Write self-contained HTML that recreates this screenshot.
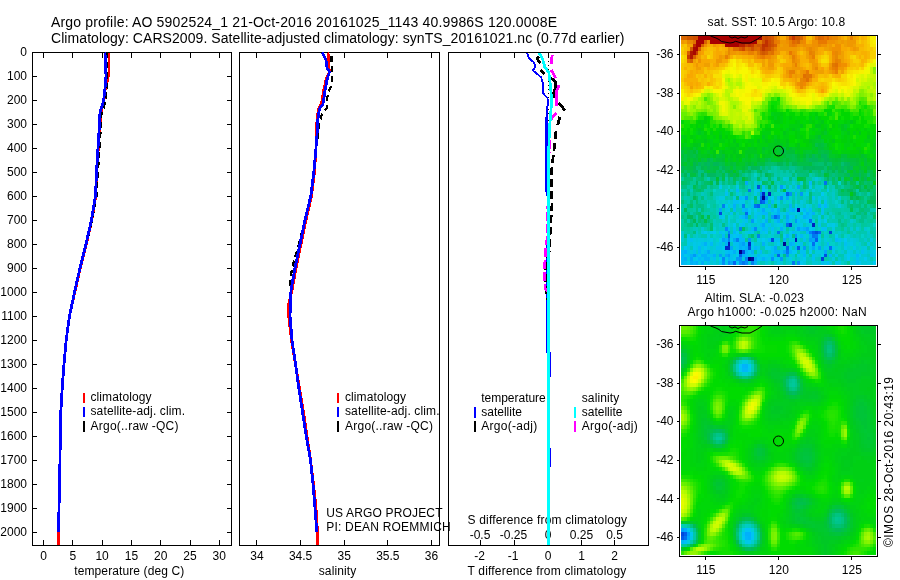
<!DOCTYPE html>
<html><head><meta charset="utf-8"><title>Argo profile</title>
<style>html,body{margin:0;padding:0;background:#fff}svg{display:block}text{font-family:"Liberation Sans",sans-serif;fill:#000}</style>
</head><body>
<svg width="900" height="580" viewBox="0 0 900 580">
<rect width="900" height="580" fill="#fff"/>
<g shape-rendering="crispEdges">
<rect x="32.5" y="52.5" width="199.0" height="493.0" fill="none" stroke="#000" stroke-width="1"/>
<rect x="239.5" y="52.5" width="200.0" height="493.0" fill="none" stroke="#000" stroke-width="1"/>
<rect x="448.5" y="52.5" width="200.0" height="493.0" fill="none" stroke="#000" stroke-width="1"/>
<line x1="32.5" y1="52.5" x2="37.0" y2="52.5" stroke="#000" stroke-width="1"/>
<line x1="227.0" y1="52.5" x2="231.5" y2="52.5" stroke="#000" stroke-width="1"/>
<line x1="32.5" y1="76.5" x2="37.0" y2="76.5" stroke="#000" stroke-width="1"/>
<line x1="227.0" y1="76.5" x2="231.5" y2="76.5" stroke="#000" stroke-width="1"/>
<line x1="32.5" y1="100.5" x2="37.0" y2="100.5" stroke="#000" stroke-width="1"/>
<line x1="227.0" y1="100.5" x2="231.5" y2="100.5" stroke="#000" stroke-width="1"/>
<line x1="32.5" y1="124.5" x2="37.0" y2="124.5" stroke="#000" stroke-width="1"/>
<line x1="227.0" y1="124.5" x2="231.5" y2="124.5" stroke="#000" stroke-width="1"/>
<line x1="32.5" y1="148.5" x2="37.0" y2="148.5" stroke="#000" stroke-width="1"/>
<line x1="227.0" y1="148.5" x2="231.5" y2="148.5" stroke="#000" stroke-width="1"/>
<line x1="32.5" y1="172.5" x2="37.0" y2="172.5" stroke="#000" stroke-width="1"/>
<line x1="227.0" y1="172.5" x2="231.5" y2="172.5" stroke="#000" stroke-width="1"/>
<line x1="32.5" y1="196.5" x2="37.0" y2="196.5" stroke="#000" stroke-width="1"/>
<line x1="227.0" y1="196.5" x2="231.5" y2="196.5" stroke="#000" stroke-width="1"/>
<line x1="32.5" y1="220.5" x2="37.0" y2="220.5" stroke="#000" stroke-width="1"/>
<line x1="227.0" y1="220.5" x2="231.5" y2="220.5" stroke="#000" stroke-width="1"/>
<line x1="32.5" y1="244.5" x2="37.0" y2="244.5" stroke="#000" stroke-width="1"/>
<line x1="227.0" y1="244.5" x2="231.5" y2="244.5" stroke="#000" stroke-width="1"/>
<line x1="32.5" y1="268.5" x2="37.0" y2="268.5" stroke="#000" stroke-width="1"/>
<line x1="227.0" y1="268.5" x2="231.5" y2="268.5" stroke="#000" stroke-width="1"/>
<line x1="32.5" y1="292.5" x2="37.0" y2="292.5" stroke="#000" stroke-width="1"/>
<line x1="227.0" y1="292.5" x2="231.5" y2="292.5" stroke="#000" stroke-width="1"/>
<line x1="32.5" y1="316.5" x2="37.0" y2="316.5" stroke="#000" stroke-width="1"/>
<line x1="227.0" y1="316.5" x2="231.5" y2="316.5" stroke="#000" stroke-width="1"/>
<line x1="32.5" y1="340.5" x2="37.0" y2="340.5" stroke="#000" stroke-width="1"/>
<line x1="227.0" y1="340.5" x2="231.5" y2="340.5" stroke="#000" stroke-width="1"/>
<line x1="32.5" y1="364.5" x2="37.0" y2="364.5" stroke="#000" stroke-width="1"/>
<line x1="227.0" y1="364.5" x2="231.5" y2="364.5" stroke="#000" stroke-width="1"/>
<line x1="32.5" y1="388.5" x2="37.0" y2="388.5" stroke="#000" stroke-width="1"/>
<line x1="227.0" y1="388.5" x2="231.5" y2="388.5" stroke="#000" stroke-width="1"/>
<line x1="32.5" y1="412.5" x2="37.0" y2="412.5" stroke="#000" stroke-width="1"/>
<line x1="227.0" y1="412.5" x2="231.5" y2="412.5" stroke="#000" stroke-width="1"/>
<line x1="32.5" y1="436.5" x2="37.0" y2="436.5" stroke="#000" stroke-width="1"/>
<line x1="227.0" y1="436.5" x2="231.5" y2="436.5" stroke="#000" stroke-width="1"/>
<line x1="32.5" y1="460.5" x2="37.0" y2="460.5" stroke="#000" stroke-width="1"/>
<line x1="227.0" y1="460.5" x2="231.5" y2="460.5" stroke="#000" stroke-width="1"/>
<line x1="32.5" y1="484.5" x2="37.0" y2="484.5" stroke="#000" stroke-width="1"/>
<line x1="227.0" y1="484.5" x2="231.5" y2="484.5" stroke="#000" stroke-width="1"/>
<line x1="32.5" y1="508.5" x2="37.0" y2="508.5" stroke="#000" stroke-width="1"/>
<line x1="227.0" y1="508.5" x2="231.5" y2="508.5" stroke="#000" stroke-width="1"/>
<line x1="32.5" y1="532.5" x2="37.0" y2="532.5" stroke="#000" stroke-width="1"/>
<line x1="227.0" y1="532.5" x2="231.5" y2="532.5" stroke="#000" stroke-width="1"/>
<line x1="43.5" y1="545.5" x2="43.5" y2="540.0" stroke="#000" stroke-width="1"/>
<line x1="43.5" y1="52.5" x2="43.5" y2="58.0" stroke="#000" stroke-width="1"/>
<line x1="72.5" y1="545.5" x2="72.5" y2="540.0" stroke="#000" stroke-width="1"/>
<line x1="72.5" y1="52.5" x2="72.5" y2="58.0" stroke="#000" stroke-width="1"/>
<line x1="102.5" y1="545.5" x2="102.5" y2="540.0" stroke="#000" stroke-width="1"/>
<line x1="102.5" y1="52.5" x2="102.5" y2="58.0" stroke="#000" stroke-width="1"/>
<line x1="131.5" y1="545.5" x2="131.5" y2="540.0" stroke="#000" stroke-width="1"/>
<line x1="131.5" y1="52.5" x2="131.5" y2="58.0" stroke="#000" stroke-width="1"/>
<line x1="160.5" y1="545.5" x2="160.5" y2="540.0" stroke="#000" stroke-width="1"/>
<line x1="160.5" y1="52.5" x2="160.5" y2="58.0" stroke="#000" stroke-width="1"/>
<line x1="190.5" y1="545.5" x2="190.5" y2="540.0" stroke="#000" stroke-width="1"/>
<line x1="190.5" y1="52.5" x2="190.5" y2="58.0" stroke="#000" stroke-width="1"/>
<line x1="219.5" y1="545.5" x2="219.5" y2="540.0" stroke="#000" stroke-width="1"/>
<line x1="219.5" y1="52.5" x2="219.5" y2="58.0" stroke="#000" stroke-width="1"/>
<line x1="256.5" y1="545.5" x2="256.5" y2="540.0" stroke="#000" stroke-width="1"/>
<line x1="256.5" y1="52.5" x2="256.5" y2="58.0" stroke="#000" stroke-width="1"/>
<line x1="300.5" y1="545.5" x2="300.5" y2="540.0" stroke="#000" stroke-width="1"/>
<line x1="300.5" y1="52.5" x2="300.5" y2="58.0" stroke="#000" stroke-width="1"/>
<line x1="344.5" y1="545.5" x2="344.5" y2="540.0" stroke="#000" stroke-width="1"/>
<line x1="344.5" y1="52.5" x2="344.5" y2="58.0" stroke="#000" stroke-width="1"/>
<line x1="387.5" y1="545.5" x2="387.5" y2="540.0" stroke="#000" stroke-width="1"/>
<line x1="387.5" y1="52.5" x2="387.5" y2="58.0" stroke="#000" stroke-width="1"/>
<line x1="431.5" y1="545.5" x2="431.5" y2="540.0" stroke="#000" stroke-width="1"/>
<line x1="431.5" y1="52.5" x2="431.5" y2="58.0" stroke="#000" stroke-width="1"/>
<line x1="480.5" y1="545.5" x2="480.5" y2="540.0" stroke="#000" stroke-width="1"/>
<line x1="480.5" y1="52.5" x2="480.5" y2="58.0" stroke="#000" stroke-width="1"/>
<line x1="514.5" y1="545.5" x2="514.5" y2="540.0" stroke="#000" stroke-width="1"/>
<line x1="514.5" y1="52.5" x2="514.5" y2="58.0" stroke="#000" stroke-width="1"/>
<line x1="548.5" y1="545.5" x2="548.5" y2="540.0" stroke="#000" stroke-width="1"/>
<line x1="548.5" y1="52.5" x2="548.5" y2="58.0" stroke="#000" stroke-width="1"/>
<line x1="581.5" y1="545.5" x2="581.5" y2="540.0" stroke="#000" stroke-width="1"/>
<line x1="581.5" y1="52.5" x2="581.5" y2="58.0" stroke="#000" stroke-width="1"/>
<line x1="614.5" y1="545.5" x2="614.5" y2="540.0" stroke="#000" stroke-width="1"/>
<line x1="614.5" y1="52.5" x2="614.5" y2="58.0" stroke="#000" stroke-width="1"/>
</g>
<text x="27" y="55.9" font-size="12" text-anchor="end" >0</text>
<text x="27" y="79.9" font-size="12" text-anchor="end" >100</text>
<text x="27" y="103.9" font-size="12" text-anchor="end" >200</text>
<text x="27" y="127.9" font-size="12" text-anchor="end" >300</text>
<text x="27" y="151.9" font-size="12" text-anchor="end" >400</text>
<text x="27" y="175.9" font-size="12" text-anchor="end" >500</text>
<text x="27" y="199.9" font-size="12" text-anchor="end" >600</text>
<text x="27" y="223.9" font-size="12" text-anchor="end" >700</text>
<text x="27" y="247.9" font-size="12" text-anchor="end" >800</text>
<text x="27" y="271.9" font-size="12" text-anchor="end" >900</text>
<text x="27" y="295.9" font-size="12" text-anchor="end" >1000</text>
<text x="27" y="319.9" font-size="12" text-anchor="end" >1100</text>
<text x="27" y="343.9" font-size="12" text-anchor="end" >1200</text>
<text x="27" y="367.9" font-size="12" text-anchor="end" >1300</text>
<text x="27" y="391.9" font-size="12" text-anchor="end" >1400</text>
<text x="27" y="415.9" font-size="12" text-anchor="end" >1500</text>
<text x="27" y="439.9" font-size="12" text-anchor="end" >1600</text>
<text x="27" y="463.9" font-size="12" text-anchor="end" >1700</text>
<text x="27" y="487.9" font-size="12" text-anchor="end" >1800</text>
<text x="27" y="511.9" font-size="12" text-anchor="end" >1900</text>
<text x="27" y="535.9" font-size="12" text-anchor="end" >2000</text>
<text x="43.5" y="560" font-size="12" text-anchor="middle" >0</text>
<text x="72.8" y="560" font-size="12" text-anchor="middle" >5</text>
<text x="102.1" y="560" font-size="12" text-anchor="middle" >10</text>
<text x="131.4" y="560" font-size="12" text-anchor="middle" >15</text>
<text x="160.7" y="560" font-size="12" text-anchor="middle" >20</text>
<text x="190.0" y="560" font-size="12" text-anchor="middle" >25</text>
<text x="219.3" y="560" font-size="12" text-anchor="middle" >30</text>
<text x="257.0" y="560" font-size="12" text-anchor="middle" >34</text>
<text x="300.625" y="560" font-size="12" text-anchor="middle" >34.5</text>
<text x="344.25" y="560" font-size="12" text-anchor="middle" >35</text>
<text x="387.875" y="560" font-size="12" text-anchor="middle" >35.5</text>
<text x="431.5" y="560" font-size="12" text-anchor="middle" >36</text>
<text x="479.5" y="560" font-size="12" text-anchor="middle" >-2</text>
<text x="513.0" y="560" font-size="12" text-anchor="middle" >-1</text>
<text x="548" y="560" font-size="12" text-anchor="middle" >0</text>
<text x="581.5" y="560" font-size="12" text-anchor="middle" >1</text>
<text x="614.5" y="560" font-size="12" text-anchor="middle" >2</text>
<text x="480" y="538.5" font-size="12" text-anchor="middle" >-0.5</text>
<text x="513.5" y="538.5" font-size="12" text-anchor="middle" >-0.25</text>
<text x="548" y="538.5" font-size="12" text-anchor="middle" >0</text>
<text x="581.5" y="538.5" font-size="12" text-anchor="middle" >0.25</text>
<text x="614.5" y="538.5" font-size="12" text-anchor="middle" >0.5</text>
<text x="74.25" y="575" font-size="12" text-anchor="start" textLength="110" lengthAdjust="spacing" >temperature (deg C)</text>
<text x="318.75" y="575" font-size="12" text-anchor="start" textLength="37.5" lengthAdjust="spacing" >salinity</text>
<text x="467.5" y="575" font-size="12" text-anchor="start" textLength="158.75" lengthAdjust="spacing" >T difference from climatology</text>
<text x="467.5" y="523.5" font-size="12" text-anchor="start" textLength="159.5" lengthAdjust="spacing" >S difference from climatology</text>
<text x="51" y="26.6" font-size="14" text-anchor="start" textLength="506" lengthAdjust="spacing" >Argo profile: AO 5902524_1 21-Oct-2016 20161025_1143 40.9986S 120.0008E</text>
<text x="51" y="42.5" font-size="14" text-anchor="start" textLength="573.4" lengthAdjust="spacing" >Climatology: CARS2009. Satellite-adjusted climatology: synTS_20161021.nc (0.77d earlier)</text>
<g shape-rendering="crispEdges">
<path d="M109.0 52.5 L109.0 72.0 L107.0 82.0 L105.0 90.0 L104.0 100.0 L101.5 110.0 L100.0 124.0 L98.3 148.0 L96.8 172.0 L95.7 196.0 L91.8 220.0 L86.3 244.0 L80.3 268.0 L75.3 290.0 L69.5 316.0 L66.2 340.0 L64.0 364.0 L62.2 388.0 L60.8 412.0 L60.3 436.0 L60.0 460.0 L59.5 484.0 L59.0 508.0 L58.5 532.0 L58.5 545.0" fill="none" stroke="#f00" stroke-width="2.8" stroke-linejoin="round" />
<path d="M107.0 52.5 L107.3 76.0 L106.5 90.0 L105.5 100.0 L104.0 107.0 L101.5 113.0 L101.0 124.0 L99.5 148.0 L98.0 172.0 L96.5 196.0 L92.0 220.0 L86.5 244.0 L80.0 268.0 L75.0 290.0" fill="none" stroke="#000" stroke-width="2.2" stroke-dasharray="6 4" stroke-linejoin="round" />
<path d="M105.0 52.5 L105.5 64.0 L106.0 76.0 L105.0 88.0 L103.7 100.0 L101.5 108.0 L100.0 112.0 L99.5 124.0 L98.0 148.0 L96.5 172.0 L95.5 196.0 L91.5 220.0 L86.0 244.0 L80.0 268.0 L75.0 290.0 L69.5 316.0 L66.2 340.0 L64.0 364.0 L62.2 388.0 L60.8 412.0 L60.3 436.0 L60.0 460.0 L59.5 484.0 L59.0 508.0 L58.5 532.0" fill="none" stroke="#00f" stroke-width="2.8" stroke-linejoin="round" />
<path d="M328.0 52.5 L329.0 68.0 L329.5 72.0 L326.2 79.0 L323.5 91.5 L321.5 104.0 L318.5 108.6 L317.0 119.4 L316.5 135.0 L316.0 148.0 L314.5 172.0 L311.5 196.0 L306.0 220.0 L301.0 244.0 L296.0 268.0 L292.0 290.0 L288.5 305.0 L289.0 320.0 L291.5 340.0 L295.5 364.0 L299.5 388.0 L303.5 412.0 L307.0 436.0 L310.5 460.0 L313.5 484.0 L316.0 508.0 L317.5 532.0 L317.5 545.0" fill="none" stroke="#f00" stroke-width="2.8" stroke-linejoin="round" />
<path d="M331.5 56.0 L331.5 65.0 L331.9 70.0 L331.9 83.8 L328.8 91.5 L327.2 98.0 L327.2 107.0 L321.8 115.0 L319.5 122.5 L318.7 128.7 L317.5 140.0 L316.0 148.0 L313.5 172.0 L310.5 196.0 L305.0 220.0 L299.0 244.0 L292.0 268.0 L289.5 288.0" fill="none" stroke="#000" stroke-width="2.2" stroke-dasharray="6 4" stroke-linejoin="round" />
<path d="M322.0 52.5 L325.7 59.0 L327.2 68.3 L329.5 72.0 L327.2 79.0 L324.9 91.5 L322.9 104.0 L319.5 108.6 L317.9 119.4 L317.0 135.0 L316.0 148.0 L313.8 172.0 L310.8 196.0 L305.0 220.0 L300.0 244.0 L295.0 268.0 L291.0 290.0 L290.0 316.0 L292.0 340.0 L295.5 364.0 L298.8 388.0 L302.5 412.0 L306.2 436.0 L310.5 460.0 L313.0 484.0 L315.0 508.0 L316.8 532.0" fill="none" stroke="#00f" stroke-width="2.8" stroke-linejoin="round" />
<line x1="548.5" y1="52.5" x2="548.5" y2="545.5" stroke="#000" stroke-width="1" stroke-dasharray="1 3"/>
<path d="M527.1 53.0 L528.8 58.1 L533.6 62.2 L535.4 66.4 L532.9 70.5 L541.2 77.4 L543.3 85.0 L542.6 92.6 L547.4 98.1 L548.5 102.9 L547.0 108.0" fill="none" stroke="#00f" stroke-width="1.8" stroke-linejoin="round" />
<path d="M547.0 108.0 L546.5 160.0 L546.5 190.0 L548.8 200.0 L548.8 225.0 L547.8 240.0 L547.3 300.0 L547.3 352.0 L549.3 353.0 L549.3 376.0 L548.3 378.0 L548.3 448.0 L549.3 449.0 L549.3 466.0 L548.3 467.0 L548.3 545.0" fill="none" stroke="#00f" stroke-width="2.8" stroke-linejoin="round" />
<path d="M539.1 56.7 L537.0 58.8 L540.5 63.0" fill="none" stroke="#000" stroke-width="2.8" stroke-linejoin="round" />
<path d="M540.5 69.8 L544.7 74.0" fill="none" stroke="#000" stroke-width="2.8" stroke-linejoin="round" />
<path d="M550.9 78.1 L555.7 82.2 L555.7 87.8 L553.6 92.6 L555.0 98.1" fill="none" stroke="#000" stroke-width="2.8" stroke-linejoin="round" />
<path d="M558.4 103.0 L565.3 110.5" fill="none" stroke="#000" stroke-width="2.8" stroke-linejoin="round" />
<path d="M559.8 116.7 L557.8 125.0" fill="none" stroke="#000" stroke-width="2.8" stroke-linejoin="round" />
<path d="M556.0 131.0 L555.0 140.0 L554.0 150.0 L552.5 162.0 L551.5 172.0 L551.5 190.0 L552.0 205.0 L550.5 225.0 L549.5 250.0 L546.5 262.0 L545.5 275.0 L546.0 288.0 L548.0 300.0 L548.0 330.0" fill="none" stroke="#000" stroke-width="2.8" stroke-dasharray="8 4" stroke-linejoin="round" />
<path d="M552.2 55.3 L551.1 63.6" fill="none" stroke="#f0f" stroke-width="2.8" stroke-linejoin="round" />
<path d="M551.1 69.8 L555.7 78.1" fill="none" stroke="#f0f" stroke-width="2.8" stroke-linejoin="round" />
<path d="M559.1 85.0 L556.4 92.0 L556.4 105.7" fill="none" stroke="#f0f" stroke-width="2.8" stroke-linejoin="round" />
<path d="M556.4 112.6 L550.2 120.2" fill="none" stroke="#f0f" stroke-width="2.8" stroke-linejoin="round" />
<path d="M549.5 128.0 L549.0 160.0 L548.0 200.0 L547.5 235.0 L545.5 252.0 L544.5 270.0 L545.0 288.0 L548.0 292.0" fill="none" stroke="#f0f" stroke-width="2.8" stroke-dasharray="9 3" stroke-linejoin="round" />
<path d="M539.1 53.0 L542.6 58.8 L544.7 67.0 L548.8 72.6 L550.6 86.4 L551.6 100.2 L550.9 111.2 L549.8 125.0 L549.0 140.0 L548.5 175.0 L548.3 230.0 L548.3 300.0 L548.3 400.0 L548.3 545.0" fill="none" stroke="#0ff" stroke-width="2.8" stroke-linejoin="round" />
</g>
<g shape-rendering="crispEdges">
<line x1="84" y1="393" x2="84" y2="403" stroke="#f00" stroke-width="2"/>
<line x1="84" y1="407" x2="84" y2="417" stroke="#00f" stroke-width="2"/>
<line x1="84" y1="421" x2="84" y2="432" stroke="#000" stroke-width="2"/>
<line x1="338" y1="393" x2="338" y2="403" stroke="#f00" stroke-width="2"/>
<line x1="338" y1="407" x2="338" y2="417" stroke="#00f" stroke-width="2"/>
<line x1="338" y1="421" x2="338" y2="432" stroke="#000" stroke-width="2"/>
<line x1="474.5" y1="407" x2="474.5" y2="417.5" stroke="#00f" stroke-width="2"/>
<line x1="474.5" y1="421" x2="474.5" y2="432" stroke="#000" stroke-width="2"/>
<line x1="574.5" y1="407" x2="574.5" y2="417.5" stroke="#0ff" stroke-width="2"/>
<line x1="574.5" y1="421" x2="574.5" y2="432" stroke="#f0f" stroke-width="2"/>
</g>
<text x="90.5" y="401.3" font-size="12" text-anchor="start" textLength="61" lengthAdjust="spacing" >climatology</text>
<text x="90.5" y="415.4" font-size="12" text-anchor="start" textLength="94.5" lengthAdjust="spacing" >satellite-adj. clim.</text>
<text x="90.5" y="429.5" font-size="12" text-anchor="start" textLength="88" lengthAdjust="spacing" >Argo(..raw -QC)</text>
<text x="345" y="401.3" font-size="12" text-anchor="start" textLength="61" lengthAdjust="spacing" >climatology</text>
<text x="345" y="415.4" font-size="12" text-anchor="start" textLength="94.5" lengthAdjust="spacing" >satellite-adj. clim.</text>
<text x="345" y="429.5" font-size="12" text-anchor="start" textLength="88" lengthAdjust="spacing" >Argo(..raw -QC)</text>
<text x="481.25" y="401.6" font-size="12" text-anchor="start" textLength="64.5" lengthAdjust="spacing" >temperature</text>
<text x="481.25" y="415.7" font-size="12" text-anchor="start" >satellite</text>
<text x="481.25" y="429.8" font-size="12" text-anchor="start" textLength="56" lengthAdjust="spacing" >Argo(-adj)</text>
<text x="581.75" y="401.6" font-size="12" text-anchor="start" textLength="37.5" lengthAdjust="spacing" >salinity</text>
<text x="581.75" y="415.7" font-size="12" text-anchor="start" >satellite</text>
<text x="581.75" y="429.8" font-size="12" text-anchor="start" textLength="56" lengthAdjust="spacing" >Argo(-adj)</text>
<text x="326.25" y="516.6" font-size="12" text-anchor="start" textLength="116.25" lengthAdjust="spacing" >US ARGO PROJECT</text>
<text x="326.25" y="530.6" font-size="12" text-anchor="start" textLength="124.5" lengthAdjust="spacing" >PI: DEAN ROEMMICH</text>
<g shape-rendering="crispEdges">
<path fill="#d86800" d="M681 36h6v4h-6zM800 36h3v4h-3zM818 36h3v4h-3zM797 40h3v4h-3zM748 47h3v4h-3zM754 47h3v4h-3zM771 47h3v4h-3z"/>
<path fill="#d05800" d="M687 36h6v4h-6zM795 36h5v4h-5zM771 40h3v4h-3zM757 44h5v3h-5zM690 47h3v4h-3zM762 51h3v4h-3z"/>
<path fill="#d05000" d="M693 36h5v4h-5zM762 36h3v4h-3zM768 36h3v4h-3zM762 40h3v4h-3zM771 44h3v3h-3zM751 47h3v4h-3zM760 47h2v4h-2zM768 47h3v4h-3z"/>
<path fill="#a80000" d="M698 36h64v4h-64zM696 40h8v4h-8zM710 40h47v4h-47zM696 44h5v3h-5zM725 44h14v3h-14zM696 47h2v4h-2z"/>
<path fill="#c84800" d="M765 36h3v4h-3zM768 44h3v3h-3z"/>
<path fill="#d85800" d="M771 36h3v4h-3zM789 36h3v4h-3zM698 47h3v4h-3zM739 47h3v4h-3z"/>
<path fill="#e07800" d="M774 36h3v4h-3zM760 40h2v4h-2zM757 51h3v4h-3zM768 51h3v4h-3zM832 63h3v4h-3zM806 74h6v4h-6z"/>
<path fill="#f09000" d="M777 36h3v4h-3zM707 40h3v4h-3zM786 40h3v4h-3zM812 40h6v4h-6zM827 40h8v4h-8zM704 44h3v3h-3zM777 44h3v3h-3zM797 44h3v3h-3zM803 44h3v3h-3zM812 44h6v3h-6zM821 44h6v3h-6zM835 44h6v3h-6zM730 47h3v4h-3zM806 47h3v4h-3zM812 47h3v4h-3zM832 47h9v4h-9zM742 51h6v4h-6zM754 51h3v4h-3zM774 51h3v4h-3zM792 51h3v4h-3zM838 51h3v4h-3zM696 55h2v4h-2zM795 55h2v4h-2zM809 55h3v4h-3zM832 55h3v4h-3zM698 59h3v4h-3zM795 59h2v4h-2zM832 59h3v4h-3zM841 63h6v4h-6zM829 67h3v3h-3zM803 70h3v4h-3zM832 70h3v4h-3zM809 78h3v4h-3zM797 82h3v4h-3z"/>
<path fill="#f8a800" d="M780 36h6v4h-6zM841 36h3v4h-3zM856 36h3v4h-3zM809 40h3v4h-3zM707 44h3v3h-3zM719 44h3v3h-3zM832 44h3v3h-3zM841 44h3v3h-3zM716 47h3v4h-3zM725 47h3v4h-3zM800 47h3v4h-3zM818 47h6v4h-6zM841 47h6v4h-6zM716 51h6v4h-6zM818 51h3v4h-3zM716 55h3v4h-3zM748 55h6v4h-6zM701 59h9v4h-9zM722 59h6v4h-6zM754 59h8v4h-8zM774 59h3v4h-3zM789 59h3v4h-3zM844 59h3v4h-3zM693 63h3v4h-3zM698 63h6v4h-6zM713 63h3v4h-3zM783 63h9v4h-9zM847 63h3v4h-3zM765 67h3v3h-3zM783 67h3v3h-3zM803 67h3v3h-3zM818 67h3v3h-3zM844 67h3v3h-3zM690 70h3v4h-3zM696 70h2v4h-2zM797 70h3v4h-3zM809 70h3v4h-3zM827 70h2v4h-2zM687 74h6v4h-6zM783 74h3v4h-3zM815 74h3v4h-3zM792 78h3v4h-3zM690 82h3v4h-3zM696 82h2v4h-2zM797 86h3v3h-3z"/>
<path fill="#e88800" d="M786 36h3v4h-3zM832 36h6v4h-6zM687 40h6v4h-6zM800 40h3v4h-3zM818 44h3v3h-3zM728 47h2v4h-2zM809 47h3v4h-3zM728 51h2v4h-2zM812 51h3v4h-3zM835 51h3v4h-3zM835 55h3v4h-3zM792 59h3v4h-3zM838 59h3v4h-3zM815 67h3v3h-3zM800 78h3v4h-3zM800 82h3v4h-3zM800 86h3v3h-3z"/>
<path fill="#c83800" d="M792 36h3v4h-3zM751 44h3v3h-3zM687 55h3v4h-3z"/>
<path fill="#f08800" d="M803 36h3v4h-3zM803 40h3v4h-3zM832 51h3v4h-3zM757 55h3v4h-3zM765 55h6v4h-6zM838 63h3v4h-3zM789 74h3v4h-3zM803 82h3v4h-3z"/>
<path fill="#f8b800" d="M806 36h3v4h-3zM844 36h3v4h-3zM864 36h3v4h-3zM856 40h3v4h-3zM861 40h3v4h-3zM713 47h3v4h-3zM719 47h3v4h-3zM859 47h5v4h-5zM684 51h3v4h-3zM827 51h2v4h-2zM847 51h6v4h-6zM856 51h5v4h-5zM867 51h3v4h-3zM701 55h3v4h-3zM736 55h6v4h-6zM847 55h3v4h-3zM867 55h3v4h-3zM748 59h3v4h-3zM777 59h3v4h-3zM864 59h3v4h-3zM687 63h6v4h-6zM710 63h3v4h-3zM719 63h6v4h-6zM774 63h3v4h-3zM803 63h3v4h-3zM861 63h3v4h-3zM690 67h3v3h-3zM710 67h6v3h-6zM760 67h2v3h-2zM806 67h3v3h-3zM824 67h3v3h-3zM687 70h3v4h-3zM762 70h3v4h-3zM771 70h3v4h-3zM824 74h3v4h-3zM832 74h3v4h-3zM783 78h6v4h-6zM792 82h3v4h-3zM821 82h3v4h-3zM693 86h3v3h-3zM698 86h3v3h-3zM818 86h3v3h-3zM824 86h3v3h-3zM797 89h3v4h-3zM818 89h3v4h-3zM824 89h3v4h-3z"/>
<path fill="#f8c000" d="M809 36h3v4h-3zM859 36h2v4h-2zM864 40h3v4h-3zM681 44h3v3h-3zM864 44h3v3h-3zM684 47h3v4h-3zM707 47h6v4h-6zM864 47h3v4h-3zM704 51h6v4h-6zM800 51h3v4h-3zM780 55h3v4h-3zM818 55h3v4h-3zM856 55h3v4h-3zM861 55h3v4h-3zM850 59h3v4h-3zM684 63h3v4h-3zM748 63h6v4h-6zM777 63h3v4h-3zM806 63h3v4h-3zM827 63h2v4h-2zM850 63h6v4h-6zM859 63h2v4h-2zM687 67h3v3h-3zM704 67h3v3h-3zM716 67h3v3h-3zM707 70h3v4h-3zM844 70h3v4h-3zM684 74h3v4h-3zM698 74h3v4h-3zM710 74h3v4h-3zM780 74h3v4h-3zM818 74h6v4h-6zM827 74h2v4h-2zM701 78h3v4h-3zM710 78h3v4h-3zM684 82h3v4h-3zM701 82h3v4h-3zM710 82h3v4h-3zM812 82h3v4h-3zM818 82h3v4h-3zM824 82h3v4h-3zM701 86h3v3h-3zM806 86h3v3h-3zM815 86h3v3h-3zM690 89h3v4h-3zM800 89h3v4h-3z"/>
<path fill="#f0a000" d="M812 36h3v4h-3zM847 36h3v4h-3zM853 36h3v4h-3zM684 40h3v4h-3zM838 40h3v4h-3zM844 40h3v4h-3zM687 44h6v3h-6zM722 44h3v3h-3zM780 44h3v3h-3zM827 44h2v3h-2zM844 44h3v3h-3zM853 44h3v3h-3zM701 47h3v4h-3zM797 47h3v4h-3zM803 47h3v4h-3zM824 47h5v4h-5zM856 47h3v4h-3zM725 51h3v4h-3zM736 51h3v4h-3zM786 51h3v4h-3zM806 51h3v4h-3zM815 51h3v4h-3zM841 51h3v4h-3zM698 55h3v4h-3zM722 55h3v4h-3zM774 55h3v4h-3zM789 55h3v4h-3zM806 55h3v4h-3zM838 55h6v4h-6zM693 59h3v4h-3zM762 59h3v4h-3zM771 59h3v4h-3zM841 59h3v4h-3zM704 63h6v4h-6zM716 63h3v4h-3zM762 63h3v4h-3zM797 63h3v4h-3zM696 67h5v3h-5zM768 67h6v3h-6zM786 67h6v3h-6zM800 67h3v3h-3zM795 70h2v4h-2zM815 70h9v4h-9zM829 70h3v4h-3zM841 70h3v4h-3zM786 74h3v4h-3zM792 74h3v4h-3zM797 74h3v4h-3zM795 78h2v4h-2zM795 82h2v4h-2zM806 82h3v4h-3zM690 86h3v3h-3zM803 86h3v3h-3z"/>
<path fill="#e87800" d="M815 36h3v4h-3zM824 36h3v4h-3zM774 40h3v4h-3zM818 40h9v4h-9zM792 44h3v3h-3zM789 51h3v4h-3zM762 55h3v4h-3zM835 67h3v3h-3zM806 70h3v4h-3z"/>
<path fill="#e06800" d="M821 36h3v4h-3zM827 36h2v4h-2zM792 40h3v4h-3zM757 47h3v4h-3z"/>
<path fill="#e88000" d="M829 36h3v4h-3zM850 36h3v4h-3zM777 40h3v4h-3zM789 40h3v4h-3zM789 44h3v3h-3zM795 44h2v3h-2zM774 47h3v4h-3zM748 51h6v4h-6zM809 51h3v4h-3zM725 55h3v4h-3zM760 55h2v4h-2zM792 55h3v4h-3zM812 55h3v4h-3zM835 59h3v4h-3zM795 63h2v4h-2zM832 67h3v3h-3zM789 70h6v4h-6zM835 70h3v4h-3zM803 78h3v4h-3z"/>
<path fill="#f09800" d="M838 36h3v4h-3zM681 40h3v4h-3zM780 40h6v4h-6zM835 40h3v4h-3zM841 40h3v4h-3zM847 40h9v4h-9zM713 44h3v3h-3zM783 44h6v3h-6zM800 44h3v3h-3zM806 44h6v3h-6zM829 44h3v3h-3zM847 44h6v3h-6zM777 47h20v4h-20zM815 47h3v4h-3zM829 47h3v4h-3zM853 47h3v4h-3zM698 51h3v4h-3zM730 51h6v4h-6zM739 51h3v4h-3zM777 51h3v4h-3zM795 51h2v4h-2zM719 55h3v4h-3zM728 55h2v4h-2zM754 55h3v4h-3zM771 55h3v4h-3zM716 59h6v4h-6zM768 59h3v4h-3zM797 59h3v4h-3zM809 59h6v4h-6zM696 63h2v4h-2zM768 63h6v4h-6zM792 63h3v4h-3zM812 63h6v4h-6zM829 63h3v4h-3zM792 67h8v3h-8zM812 67h3v3h-3zM838 67h6v3h-6zM786 70h3v4h-3zM800 70h3v4h-3zM795 74h2v4h-2zM800 74h3v4h-3zM812 74h3v4h-3z"/>
<path fill="#f8b000" d="M861 36h3v4h-3zM806 40h3v4h-3zM710 44h3v3h-3zM856 44h8v3h-8zM687 47h3v4h-3zM704 47h3v4h-3zM722 47h3v4h-3zM847 47h3v4h-3zM713 51h3v4h-3zM722 51h3v4h-3zM780 51h6v4h-6zM797 51h3v4h-3zM803 51h3v4h-3zM821 51h3v4h-3zM829 51h3v4h-3zM844 51h3v4h-3zM853 51h3v4h-3zM861 51h6v4h-6zM704 55h3v4h-3zM713 55h3v4h-3zM730 55h3v4h-3zM742 55h6v4h-6zM783 55h6v4h-6zM800 55h6v4h-6zM815 55h3v4h-3zM829 55h3v4h-3zM844 55h3v4h-3zM859 55h2v4h-2zM864 55h3v4h-3zM696 59h2v4h-2zM710 59h6v4h-6zM765 59h3v4h-3zM786 59h3v4h-3zM800 59h9v4h-9zM829 59h3v4h-3zM847 59h3v4h-3zM861 59h3v4h-3zM765 63h3v4h-3zM780 63h3v4h-3zM800 63h3v4h-3zM809 63h3v4h-3zM818 63h3v4h-3zM684 67h3v3h-3zM693 67h3v3h-3zM701 67h3v3h-3zM707 67h3v3h-3zM762 67h3v3h-3zM774 67h3v3h-3zM809 67h3v3h-3zM827 67h2v3h-2zM693 70h3v4h-3zM698 70h6v4h-6zM765 70h6v4h-6zM783 70h3v4h-3zM824 70h3v4h-3zM838 70h3v4h-3zM693 74h3v4h-3zM704 74h3v4h-3zM835 74h6v4h-6zM684 78h14v4h-14zM789 78h3v4h-3zM797 78h3v4h-3zM812 78h6v4h-6zM687 82h3v4h-3zM693 82h3v4h-3zM698 82h3v4h-3zM707 82h3v4h-3zM809 82h3v4h-3zM696 86h2v3h-2zM795 86h2v3h-2zM821 86h3v3h-3z"/>
<path fill="#f8d000" d="M867 36h3v4h-3zM867 40h3v4h-3zM681 47h3v4h-3zM870 51h6v4h-6zM684 55h3v4h-3zM821 55h3v4h-3zM827 55h2v4h-2zM850 55h3v4h-3zM870 55h6v4h-6zM780 59h3v4h-3zM853 59h6v4h-6zM867 59h3v4h-3zM722 67h3v3h-3zM757 67h3v3h-3zM777 67h3v3h-3zM853 67h3v3h-3zM861 67h3v3h-3zM681 70h3v4h-3zM713 70h6v4h-6zM760 70h2v4h-2zM777 70h3v4h-3zM681 74h3v4h-3zM771 74h3v4h-3zM829 74h3v4h-3zM707 78h3v4h-3zM762 78h3v4h-3zM780 78h3v4h-3zM818 78h3v4h-3zM824 78h8v4h-8zM835 78h3v4h-3zM841 78h3v4h-3zM713 82h3v4h-3zM780 82h6v4h-6zM827 82h2v4h-2zM684 86h3v3h-3zM716 86h3v3h-3zM809 86h3v3h-3zM687 89h3v4h-3zM693 89h5v4h-5zM795 89h2v4h-2zM815 89h3v4h-3z"/>
<path fill="#f8f000" d="M870 36h6v4h-6zM873 40h3v4h-3zM733 59h3v4h-3zM742 63h3v4h-3zM867 63h3v4h-3zM728 67h2v3h-2zM739 67h3v3h-3zM864 67h3v3h-3zM736 70h3v4h-3zM748 70h3v4h-3zM757 70h3v4h-3zM859 70h5v4h-5zM745 74h3v4h-3zM751 74h3v4h-3zM757 74h3v4h-3zM847 74h3v4h-3zM745 78h3v4h-3zM774 78h6v4h-6zM850 78h3v4h-3zM722 82h3v4h-3zM762 82h6v4h-6zM835 82h3v4h-3zM850 82h3v4h-3zM704 86h3v3h-3zM710 86h3v3h-3zM786 86h3v3h-3zM838 86h3v3h-3zM847 86h3v3h-3zM681 89h3v4h-3zM701 89h3v4h-3zM760 89h2v4h-2zM829 89h3v4h-3zM693 93h3v4h-3zM745 93h6v4h-6zM795 93h2v4h-2zM806 93h3v4h-3zM815 93h3v4h-3zM681 97h3v4h-3z"/>
<path fill="#e07000" d="M693 40h3v4h-3zM757 40h3v4h-3zM795 40h2v4h-2zM733 47h6v4h-6zM745 47h3v4h-3zM771 51h3v4h-3zM687 59h3v4h-3zM835 63h3v4h-3zM803 74h3v4h-3zM806 78h3v4h-3z"/>
<path fill="#d86000" d="M704 40h3v4h-3zM701 44h3v3h-3zM754 44h3v3h-3zM774 44h3v3h-3zM687 51h3v4h-3zM760 51h2v4h-2zM765 51h3v4h-3zM693 55h3v4h-3zM690 59h3v4h-3z"/>
<path fill="#c03000" d="M765 40h3v4h-3zM748 44h3v3h-3zM762 44h6v3h-6z"/>
<path fill="#d04800" d="M768 40h3v4h-3zM742 47h3v4h-3zM765 47h3v4h-3z"/>
<path fill="#f8c800" d="M859 40h2v4h-2zM684 44h3v3h-3zM867 44h3v3h-3zM867 47h6v4h-6zM681 51h3v4h-3zM710 51h3v4h-3zM824 51h3v4h-3zM710 55h3v4h-3zM733 55h3v4h-3zM777 55h3v4h-3zM684 59h3v4h-3zM728 59h2v4h-2zM742 59h6v4h-6zM751 59h3v4h-3zM783 59h3v4h-3zM818 59h3v4h-3zM859 59h2v4h-2zM681 63h3v4h-3zM725 63h3v4h-3zM757 63h5v4h-5zM821 63h6v4h-6zM856 63h3v4h-3zM681 67h3v3h-3zM719 67h3v3h-3zM780 67h3v3h-3zM847 67h6v3h-6zM856 67h3v3h-3zM684 70h3v4h-3zM704 70h3v4h-3zM710 70h3v4h-3zM774 70h3v4h-3zM780 70h3v4h-3zM696 74h2v4h-2zM701 74h3v4h-3zM707 74h3v4h-3zM765 74h6v4h-6zM681 78h3v4h-3zM698 78h3v4h-3zM704 78h3v4h-3zM713 78h3v4h-3zM838 78h3v4h-3zM704 82h3v4h-3zM789 82h3v4h-3zM815 82h3v4h-3zM687 86h3v3h-3zM812 86h3v3h-3zM827 86h2v3h-2zM803 89h3v4h-3z"/>
<path fill="#f8e800" d="M870 40h3v4h-3zM870 44h6v3h-6zM730 59h3v4h-3zM730 63h3v4h-3zM739 63h3v4h-3zM725 67h3v3h-3zM736 67h3v3h-3zM754 70h3v4h-3zM853 70h6v4h-6zM850 74h3v4h-3zM847 78h3v4h-3zM838 82h3v4h-3zM847 82h3v4h-3zM707 86h3v3h-3zM789 86h3v3h-3zM751 89h3v4h-3zM757 89h3v4h-3zM809 89h6v4h-6zM684 93h3v4h-3zM757 93h3v4h-3zM797 93h3v4h-3zM824 93h3v4h-3z"/>
<path fill="#c02800" d="M693 44h3v3h-3z"/>
<path fill="#f8a000" d="M716 44h3v3h-3zM850 47h3v4h-3zM701 51h3v4h-3zM797 55h3v4h-3zM815 59h3v4h-3zM821 67h3v3h-3zM812 70h3v4h-3zM821 89h3v4h-3z"/>
<path fill="#b82000" d="M739 44h6v3h-6z"/>
<path fill="#c84000" d="M745 44h3v3h-3zM696 51h2v4h-2z"/>
<path fill="#a80800" d="M693 47h3v4h-3zM693 51h3v4h-3z"/>
<path fill="#c03800" d="M762 47h3v4h-3z"/>
<path fill="#f8d800" d="M873 47h3v4h-3zM707 55h3v4h-3zM824 55h3v4h-3zM853 55h3v4h-3zM681 59h3v4h-3zM736 59h3v4h-3zM827 59h2v4h-2zM754 63h3v4h-3zM864 63h3v4h-3zM751 67h3v3h-3zM751 70h3v4h-3zM847 70h3v4h-3zM762 74h3v4h-3zM774 74h6v4h-6zM841 74h6v4h-6zM716 78h6v4h-6zM765 78h3v4h-3zM821 78h3v4h-3zM844 78h3v4h-3zM681 82h3v4h-3zM719 82h3v4h-3zM681 86h3v3h-3zM713 86h3v3h-3zM792 86h3v3h-3zM684 89h3v4h-3zM698 89h3v4h-3zM754 89h3v4h-3zM827 89h2v4h-2zM687 93h3v4h-3zM821 93h3v4h-3z"/>
<path fill="#b01800" d="M690 51h3v4h-3zM690 55h3v4h-3z"/>
<path fill="#f8e000" d="M681 55h3v4h-3zM739 59h3v4h-3zM821 59h6v4h-6zM870 59h3v4h-3zM728 63h2v4h-2zM736 63h3v4h-3zM745 63h3v4h-3zM748 67h3v3h-3zM754 67h3v3h-3zM859 67h2v3h-2zM719 70h3v4h-3zM850 70h3v4h-3zM713 74h9v4h-9zM760 74h2v4h-2zM768 78h3v4h-3zM832 78h3v4h-3zM716 82h3v4h-3zM786 82h3v4h-3zM829 82h3v4h-3zM841 82h6v4h-6zM719 86h3v3h-3zM783 86h3v3h-3zM829 86h3v3h-3zM792 89h3v4h-3zM806 89h3v4h-3zM690 93h3v4h-3zM751 93h6v4h-6zM760 93h2v4h-2zM800 93h6v4h-6zM818 93h3v4h-3z"/>
<path fill="#f0f800" d="M873 59h3v4h-3zM733 67h3v3h-3zM867 67h3v3h-3zM725 70h3v4h-3zM864 70h6v4h-6zM748 74h3v4h-3zM742 78h3v4h-3zM745 82h3v4h-3zM751 82h3v4h-3zM760 82h2v4h-2zM771 82h6v4h-6zM777 86h3v3h-3zM832 86h6v3h-6zM733 89h3v4h-3zM739 89h6v4h-6zM762 89h3v4h-3zM789 89h3v4h-3zM698 93h3v4h-3zM719 93h3v4h-3zM739 93h3v4h-3zM789 93h3v4h-3zM827 93h2v4h-2zM690 97h3v4h-3zM795 97h5v4h-5zM815 97h3v4h-3zM719 101h6v4h-6zM809 101h3v4h-3zM722 105h3v4h-3zM748 105h3v4h-3zM722 109h3v3h-3z"/>
<path fill="#f8f800" d="M733 63h3v4h-3zM730 67h3v3h-3zM742 67h6v3h-6zM722 70h3v4h-3zM730 70h6v4h-6zM739 70h9v4h-9zM733 74h3v4h-3zM742 74h3v4h-3zM754 74h3v4h-3zM853 74h3v4h-3zM722 78h3v4h-3zM771 78h3v4h-3zM853 78h3v4h-3zM748 82h3v4h-3zM768 82h3v4h-3zM777 82h3v4h-3zM832 82h3v4h-3zM853 82h3v4h-3zM722 86h3v3h-3zM745 86h12v3h-12zM762 86h6v3h-6zM780 86h3v3h-3zM841 86h6v3h-6zM713 89h9v4h-9zM736 89h3v4h-3zM745 89h6v4h-6zM838 89h3v4h-3zM844 89h3v4h-3zM681 93h3v4h-3zM696 93h2v4h-2zM736 93h3v4h-3zM742 93h3v4h-3zM792 93h3v4h-3zM809 93h3v4h-3zM687 97h3v4h-3zM739 97h12v4h-12zM754 97h8v4h-8zM800 97h12v4h-12zM818 97h3v4h-3zM745 101h6v4h-6zM806 101h3v4h-3z"/>
<path fill="#e0f800" d="M870 63h6v4h-6zM730 74h3v4h-3zM859 74h2v4h-2zM751 78h3v4h-3zM760 78h2v4h-2zM859 78h2v4h-2zM856 82h3v4h-3zM736 86h3v3h-3zM757 86h3v3h-3zM771 86h3v3h-3zM710 89h3v4h-3zM765 89h6v4h-6zM841 89h3v4h-3zM730 93h3v4h-3zM844 93h3v4h-3zM821 97h3v4h-3zM725 101h3v4h-3zM795 101h2v4h-2zM725 105h3v4h-3zM742 105h3v4h-3zM725 109h3v3h-3zM722 112h6v4h-6zM745 112h6v4h-6zM748 116h3v4h-3z"/>
<path fill="#c0f800" d="M870 67h3v3h-3zM870 70h3v4h-3zM873 74h3v4h-3zM730 78h3v4h-3zM739 78h3v4h-3zM867 78h3v4h-3zM873 78h3v4h-3zM861 82h3v4h-3zM739 86h3v3h-3zM728 89h5v4h-5zM774 89h3v4h-3zM853 89h3v4h-3zM873 89h3v4h-3zM713 93h3v4h-3zM841 93h3v4h-3zM713 97h3v4h-3zM786 97h6v4h-6zM844 97h3v4h-3zM698 101h3v4h-3zM716 101h3v4h-3zM757 101h5v4h-5zM687 105h3v4h-3zM733 109h3v3h-3zM733 112h3v4h-3zM739 112h3v4h-3zM751 112h3v4h-3zM728 116h2v4h-2zM733 116h6v4h-6zM751 116h3v4h-3zM751 120h3v4h-3z"/>
<path fill="#80f000" d="M873 67h3v3h-3zM861 93h3v4h-3zM765 97h3v4h-3zM856 97h3v4h-3zM710 101h3v4h-3zM783 101h3v4h-3zM841 101h3v4h-3zM760 105h2v4h-2zM696 109h2v3h-2zM713 109h3v3h-3zM687 112h3v4h-3zM713 112h3v4h-3zM754 112h3v4h-3zM716 116h3v4h-3zM728 120h2v4h-2zM754 120h3v4h-3zM733 128h3v3h-3z"/>
<path fill="#e8f800" d="M728 70h2v4h-2zM722 74h3v4h-3zM736 74h3v4h-3zM856 74h3v4h-3zM864 74h3v4h-3zM748 78h3v4h-3zM754 78h6v4h-6zM754 82h6v4h-6zM725 86h3v3h-3zM760 86h2v3h-2zM768 86h3v3h-3zM850 86h3v3h-3zM722 89h3v4h-3zM786 89h3v4h-3zM832 89h3v4h-3zM847 89h6v4h-6zM733 93h3v4h-3zM812 93h3v4h-3zM847 93h3v4h-3zM684 97h3v4h-3zM751 97h3v4h-3zM792 97h3v4h-3zM812 97h3v4h-3zM684 101h6v4h-6zM742 101h3v4h-3zM800 101h6v4h-6zM745 105h3v4h-3zM742 109h6v3h-6z"/>
<path fill="#90f000" d="M873 70h3v4h-3zM859 89h2v4h-2zM864 93h3v4h-3zM870 93h3v4h-3zM710 97h3v4h-3zM783 97h3v4h-3zM829 97h3v4h-3zM841 97h3v4h-3zM847 97h3v4h-3zM704 101h3v4h-3zM684 105h3v4h-3zM704 105h3v4h-3zM710 105h3v4h-3zM792 105h3v4h-3zM690 112h3v4h-3zM716 112h3v4h-3zM719 116h3v4h-3zM742 124h3v4h-3zM754 124h3v4h-3z"/>
<path fill="#d0f800" d="M725 74h5v4h-5zM867 74h3v4h-3zM856 78h3v4h-3zM861 78h3v4h-3zM725 82h3v4h-3zM774 86h3v3h-3zM707 89h3v4h-3zM722 93h3v4h-3zM786 93h3v4h-3zM838 93h3v4h-3zM850 93h3v4h-3zM693 97h5v4h-5zM733 97h6v4h-6zM754 101h3v4h-3zM792 101h3v4h-3zM818 101h3v4h-3zM739 105h3v4h-3zM806 105h3v4h-3zM719 112h3v4h-3zM742 112h3v4h-3zM742 116h3v4h-3zM745 120h3v4h-3z"/>
<path fill="#d8f800" d="M739 74h3v4h-3zM861 74h3v4h-3zM733 78h3v4h-3zM864 78h3v4h-3zM742 82h3v4h-3zM859 82h2v4h-2zM742 86h3v3h-3zM853 86h6v3h-6zM704 89h3v4h-3zM783 89h3v4h-3zM835 89h3v4h-3zM716 93h3v4h-3zM762 93h3v4h-3zM719 97h6v4h-6zM797 101h3v4h-3zM719 105h3v4h-3zM719 109h3v3h-3z"/>
<path fill="#c8f800" d="M870 74h3v4h-3zM736 78h3v4h-3zM733 82h3v4h-3zM728 86h2v3h-2zM733 86h3v3h-3zM870 86h3v3h-3zM771 89h3v4h-3zM777 89h6v4h-6zM856 89h3v4h-3zM829 93h3v4h-3zM725 97h3v4h-3zM762 97h3v4h-3zM681 101h3v4h-3zM728 101h2v4h-2zM739 101h3v4h-3zM751 101h3v4h-3zM812 101h6v4h-6zM728 105h2v4h-2zM728 109h2v3h-2zM748 109h3v3h-3zM728 112h2v4h-2zM736 112h3v4h-3zM745 116h3v4h-3zM733 120h3v4h-3zM748 120h3v4h-3z"/>
<path fill="#b8f800" d="M725 78h3v4h-3zM870 78h3v4h-3zM864 82h9v4h-9zM730 86h3v3h-3zM859 86h2v3h-2zM864 86h3v3h-3zM725 89h3v4h-3zM867 89h6v4h-6zM725 93h3v4h-3zM765 93h3v4h-3zM832 93h6v4h-6zM853 93h3v4h-3zM716 97h3v4h-3zM730 97h3v4h-3zM824 97h3v4h-3zM850 97h3v4h-3zM873 97h3v4h-3zM690 101h6v4h-6zM789 101h3v4h-3zM681 105h3v4h-3zM736 105h3v4h-3zM751 105h3v4h-3zM797 105h9v4h-9zM730 109h3v3h-3zM736 109h6v3h-6zM730 112h3v4h-3zM730 116h3v4h-3zM739 116h3v4h-3zM739 124h3v4h-3z"/>
<path fill="#98f800" d="M728 78h2v4h-2zM710 93h3v4h-3zM856 93h3v4h-3zM701 97h3v4h-3zM832 97h3v4h-3zM853 97h3v4h-3zM713 101h3v4h-3zM850 101h3v4h-3zM701 105h3v4h-3zM757 105h3v4h-3zM812 105h3v4h-3zM690 109h6v3h-6zM710 109h3v3h-3zM733 124h6v4h-6zM751 124h3v4h-3z"/>
<path fill="#b0f800" d="M728 82h5v4h-5zM736 82h6v4h-6zM861 86h3v3h-3zM873 86h3v3h-3zM701 93h3v4h-3zM728 93h2v4h-2zM780 93h6v4h-6zM873 93h3v4h-3zM728 97h2v4h-2zM736 101h3v4h-3zM696 105h5v4h-5zM730 105h3v4h-3zM809 105h3v4h-3zM687 109h3v3h-3zM730 120h3v4h-3zM736 120h6v4h-6zM748 124h3v4h-3z"/>
<path fill="#a8f800" d="M873 82h3v4h-3zM698 97h3v4h-3zM827 97h2v4h-2zM838 97h3v4h-3zM867 97h3v4h-3zM696 101h2v4h-2zM730 101h6v4h-6zM754 105h3v4h-3zM725 116h3v4h-3zM742 120h3v4h-3zM745 124h3v4h-3zM751 131h3v4h-3z"/>
<path fill="#a0f800" d="M867 86h3v3h-3zM864 89h3v4h-3zM704 93h3v4h-3zM771 93h3v4h-3zM867 93h3v4h-3zM870 97h3v4h-3zM701 101h3v4h-3zM786 101h3v4h-3zM821 101h3v4h-3zM853 101h3v4h-3zM690 105h3v4h-3zM707 105h3v4h-3zM716 105h3v4h-3zM716 109h3v3h-3zM751 109h3v3h-3zM722 116h3v4h-3z"/>
<path fill="#88f000" d="M861 89h3v4h-3zM707 93h3v4h-3zM768 93h3v4h-3zM777 93h3v4h-3zM829 101h3v4h-3zM867 101h3v4h-3zM693 105h3v4h-3zM713 105h3v4h-3zM733 105h3v4h-3zM795 105h2v4h-2zM850 105h3v4h-3zM681 109h6v3h-6zM698 109h3v3h-3zM707 109h3v3h-3zM725 120h3v4h-3zM739 128h3v3h-3zM745 128h3v3h-3z"/>
<path fill="#78f000" d="M774 93h3v4h-3zM859 93h2v4h-2zM765 101h3v4h-3zM847 101h3v4h-3zM873 101h3v4h-3zM789 105h3v4h-3zM815 105h3v4h-3zM853 105h3v4h-3zM701 109h3v3h-3zM873 109h3v3h-3zM757 112h3v4h-3zM754 116h3v4h-3zM748 128h6v3h-6z"/>
<path fill="#48e800" d="M704 97h3v4h-3zM827 101h2v4h-2zM835 101h3v4h-3zM780 105h3v4h-3zM856 105h3v4h-3zM806 109h3v3h-3zM818 109h3v3h-3zM856 109h3v3h-3zM690 116h3v4h-3zM835 116h3v4h-3zM716 120h3v4h-3zM757 120h3v4h-3zM725 124h3v4h-3zM757 124h3v4h-3z"/>
<path fill="#70f000" d="M707 97h3v4h-3zM780 97h3v4h-3zM707 101h3v4h-3zM762 101h3v4h-3zM824 101h3v4h-3zM870 101h3v4h-3zM783 105h3v4h-3zM821 105h3v4h-3zM757 109h3v3h-3zM693 112h3v4h-3zM710 112h3v4h-3zM736 128h3v3h-3zM742 128h3v3h-3z"/>
<path fill="#68f000" d="M768 97h3v4h-3zM835 97h3v4h-3zM844 101h3v4h-3zM856 101h3v4h-3zM818 105h3v4h-3zM704 109h3v3h-3zM681 112h6v4h-6zM707 112h3v4h-3zM873 112h3v4h-3zM681 116h3v4h-3zM693 116h3v4h-3zM713 116h3v4h-3zM760 116h2v4h-2zM736 131h3v4h-3z"/>
<path fill="#30e000" d="M771 97h3v4h-3zM867 105h3v4h-3zM800 109h6v3h-6zM864 109h3v3h-3zM704 112h3v4h-3zM824 112h3v4h-3zM873 116h3v4h-3zM690 120h3v4h-3zM713 120h3v4h-3zM760 120h2v4h-2zM765 120h3v4h-3zM806 128h3v3h-3zM742 131h3v4h-3z"/>
<path fill="#38e800" d="M774 97h3v4h-3zM832 101h3v4h-3zM861 101h3v4h-3zM859 105h2v4h-2zM783 109h3v3h-3zM812 109h3v3h-3zM821 109h3v3h-3zM832 109h3v3h-3zM760 112h2v4h-2zM696 116h2v4h-2zM730 128h3v3h-3zM748 131h3v4h-3zM754 131h6v4h-6zM748 135h3v4h-3zM716 150h3v4h-3zM739 150h3v4h-3z"/>
<path fill="#08e000" d="M777 97h3v4h-3zM771 101h6v4h-6zM774 105h3v4h-3zM864 105h3v4h-3zM768 109h3v3h-3zM786 112h3v4h-3zM821 112h3v4h-3zM861 112h3v4h-3zM806 116h3v4h-3zM841 116h3v4h-3zM850 116h3v4h-3zM827 120h2v4h-2zM856 120h3v4h-3zM684 124h6v4h-6zM704 124h3v4h-3zM713 124h3v4h-3zM850 124h3v4h-3zM867 124h3v4h-3zM684 128h3v3h-3zM707 128h3v3h-3zM800 128h6v3h-6zM681 131h3v4h-3zM690 131h3v4h-3zM736 135h3v4h-3zM751 135h3v4h-3zM835 135h3v4h-3zM690 139h3v4h-3zM795 139h2v4h-2zM742 143h3v4h-3zM835 143h3v4h-3zM835 147h3v3h-3zM867 147h3v3h-3zM864 150h3v4h-3z"/>
<path fill="#58e800" d="M859 97h2v4h-2zM765 105h3v4h-3zM835 105h3v4h-3zM873 105h3v4h-3zM762 109h3v3h-3zM809 109h3v3h-3zM684 116h6v4h-6zM745 135h3v4h-3z"/>
<path fill="#50e800" d="M861 97h3v4h-3zM838 105h3v4h-3zM754 109h3v3h-3zM797 109h3v3h-3zM850 109h3v3h-3zM696 112h2v4h-2zM730 124h3v4h-3zM745 131h3v4h-3z"/>
<path fill="#60e800" d="M864 97h3v4h-3zM838 101h3v4h-3zM824 105h3v4h-3zM757 116h3v4h-3zM722 120h3v4h-3z"/>
<path fill="#28e000" d="M768 101h3v4h-3zM777 105h3v4h-3zM827 105h2v4h-2zM870 109h3v3h-3zM701 112h3v4h-3zM765 112h3v4h-3zM853 112h3v4h-3zM864 112h3v4h-3zM870 112h3v4h-3zM693 120h3v4h-3zM710 120h3v4h-3zM681 124h3v4h-3zM716 124h3v4h-3zM728 124h2v4h-2zM809 124h3v4h-3zM864 147h3v3h-3z"/>
<path fill="#18e000" d="M777 101h3v4h-3zM768 105h3v4h-3zM829 105h3v4h-3zM835 109h3v3h-3zM847 109h3v3h-3zM861 109h3v3h-3zM795 112h5v4h-5zM803 112h6v4h-6zM838 112h3v4h-3zM867 112h3v4h-3zM765 116h3v4h-3zM870 116h3v4h-3zM870 120h3v4h-3zM829 124h3v4h-3zM725 128h3v3h-3zM771 131h3v4h-3zM806 131h3v4h-3zM739 135h6v4h-6zM806 135h3v4h-3zM853 135h3v4h-3zM719 143h3v4h-3z"/>
<path fill="#60f000" d="M780 101h3v4h-3zM762 105h3v4h-3zM786 105h3v4h-3zM847 105h3v4h-3zM760 109h2v3h-2zM733 131h3v4h-3zM739 131h3v4h-3z"/>
<path fill="#20e000" d="M859 101h2v4h-2zM861 105h3v4h-3zM780 109h3v3h-3zM789 109h3v3h-3zM844 109h3v3h-3zM867 109h3v3h-3zM856 112h3v4h-3zM710 116h3v4h-3zM829 116h3v4h-3zM859 116h2v4h-2zM867 120h3v4h-3zM710 124h3v4h-3zM762 124h3v4h-3zM806 124h3v4h-3zM704 128h3v3h-3zM713 128h3v3h-3zM728 128h2v3h-2zM757 128h5v3h-5zM701 143h3v4h-3z"/>
<path fill="#40e800" d="M864 101h3v4h-3zM841 105h6v4h-6zM870 105h3v4h-3zM765 109h3v3h-3zM792 109h5v3h-5zM815 109h3v3h-3zM853 109h3v3h-3zM835 112h3v4h-3zM719 120h3v4h-3zM722 124h3v4h-3zM771 124h3v4h-3zM754 128h3v3h-3z"/>
<path fill="#00d800" d="M771 105h3v4h-3zM771 109h6v3h-6zM786 109h3v3h-3zM824 109h8v3h-8zM841 109h3v3h-3zM859 109h2v3h-2zM783 112h3v4h-3zM789 112h6v4h-6zM800 112h3v4h-3zM809 112h3v4h-3zM841 112h9v4h-9zM859 112h2v4h-2zM707 116h3v4h-3zM768 116h3v4h-3zM783 116h3v4h-3zM792 116h3v4h-3zM797 116h9v4h-9zM812 116h3v4h-3zM821 116h8v4h-8zM838 116h3v4h-3zM844 116h6v4h-6zM853 116h6v4h-6zM861 116h3v4h-3zM696 120h2v4h-2zM707 120h3v4h-3zM783 120h3v4h-3zM789 120h6v4h-6zM800 120h3v4h-3zM806 120h3v4h-3zM824 120h3v4h-3zM829 120h9v4h-9zM861 120h6v4h-6zM690 124h3v4h-3zM698 124h3v4h-3zM707 124h3v4h-3zM719 124h3v4h-3zM760 124h2v4h-2zM765 124h3v4h-3zM780 124h3v4h-3zM803 124h3v4h-3zM812 124h3v4h-3zM835 124h3v4h-3zM853 124h11v4h-11zM870 124h6v4h-6zM681 128h3v3h-3zM687 128h3v3h-3zM693 128h3v3h-3zM710 128h3v3h-3zM719 128h6v3h-6zM771 128h9v3h-9zM832 128h6v3h-6zM850 128h6v3h-6zM859 128h2v3h-2zM870 128h6v3h-6zM687 131h3v4h-3zM713 131h6v4h-6zM722 131h3v4h-3zM728 131h2v4h-2zM760 131h2v4h-2zM774 131h6v4h-6zM800 131h6v4h-6zM812 131h3v4h-3zM829 131h12v4h-12zM850 131h3v4h-3zM856 131h3v4h-3zM861 131h6v4h-6zM873 131h3v4h-3zM687 135h3v4h-3zM696 135h2v4h-2zM707 135h3v4h-3zM716 135h3v4h-3zM722 135h3v4h-3zM728 135h8v4h-8zM754 135h8v4h-8zM768 135h3v4h-3zM789 135h6v4h-6zM803 135h3v4h-3zM832 135h3v4h-3zM850 135h3v4h-3zM859 135h8v4h-8zM870 135h3v4h-3zM736 139h3v4h-3zM742 139h3v4h-3zM754 139h3v4h-3zM760 139h2v4h-2zM789 139h6v4h-6zM800 139h3v4h-3zM835 139h6v4h-6zM856 139h8v4h-8zM707 143h3v4h-3zM725 143h3v4h-3zM748 143h3v4h-3zM800 143h6v4h-6zM832 143h3v4h-3zM841 143h3v4h-3zM856 143h5v4h-5zM716 147h3v3h-3zM722 147h3v3h-3zM841 147h3v3h-3zM847 147h3v3h-3zM853 147h3v3h-3zM861 147h3v3h-3z"/>
<path fill="#10e000" d="M832 105h3v4h-3zM777 109h3v3h-3zM838 109h3v3h-3zM762 112h3v4h-3zM768 112h3v4h-3zM818 112h3v4h-3zM832 112h3v4h-3zM850 112h3v4h-3zM698 116h6v4h-6zM762 116h3v4h-3zM832 116h3v4h-3zM864 116h6v4h-6zM684 120h6v4h-6zM768 120h3v4h-3zM859 120h2v4h-2zM864 124h3v4h-3zM690 128h3v3h-3zM707 131h3v4h-3zM730 131h3v4h-3zM867 143h3v4h-3zM760 154h2v4h-2z"/>
<path fill="#30e800" d="M698 112h3v4h-3zM762 120h3v4h-3zM873 120h3v4h-3z"/>
<path fill="#00d018" d="M771 112h3v4h-3zM774 116h3v4h-3zM815 116h3v4h-3zM847 124h3v4h-3zM786 128h3v3h-3zM797 128h3v3h-3zM818 128h3v3h-3zM696 131h2v4h-2zM701 131h3v4h-3zM841 131h3v4h-3zM681 135h3v4h-3zM774 135h3v4h-3zM710 139h3v4h-3zM827 139h2v4h-2zM684 143h3v4h-3zM710 143h3v4h-3zM725 147h3v3h-3zM774 147h3v3h-3zM704 150h3v4h-3zM736 150h3v4h-3zM765 150h3v4h-3zM795 150h2v4h-2zM873 150h3v4h-3zM728 154h2v4h-2zM751 154h3v4h-3z"/>
<path fill="#00d010" d="M774 112h6v4h-6zM827 112h2v4h-2zM780 116h3v4h-3zM809 116h3v4h-3zM701 120h3v4h-3zM780 120h3v4h-3zM797 120h3v4h-3zM809 120h3v4h-3zM818 120h3v4h-3zM847 120h3v4h-3zM701 124h3v4h-3zM789 124h11v4h-11zM824 124h3v4h-3zM838 124h3v4h-3zM696 128h2v3h-2zM795 128h2v3h-2zM812 128h3v3h-3zM710 131h3v4h-3zM719 131h3v4h-3zM762 131h9v4h-9zM786 131h3v4h-3zM797 131h3v4h-3zM815 131h6v4h-6zM827 131h2v4h-2zM844 131h3v4h-3zM853 131h3v4h-3zM684 135h3v4h-3zM693 135h3v4h-3zM701 135h6v4h-6zM713 135h3v4h-3zM765 135h3v4h-3zM783 135h6v4h-6zM797 135h3v4h-3zM809 135h6v4h-6zM821 135h11v4h-11zM841 135h3v4h-3zM847 135h3v4h-3zM873 135h3v4h-3zM696 139h8v4h-8zM707 139h3v4h-3zM719 139h6v4h-6zM748 139h6v4h-6zM762 139h3v4h-3zM771 139h3v4h-3zM780 139h6v4h-6zM847 139h3v4h-3zM864 139h6v4h-6zM873 139h3v4h-3zM681 143h3v4h-3zM690 143h3v4h-3zM704 143h3v4h-3zM713 143h6v4h-6zM730 143h6v4h-6zM751 143h3v4h-3zM757 143h11v4h-11zM783 143h3v4h-3zM809 143h3v4h-3zM829 143h3v4h-3zM844 143h6v4h-6zM698 147h3v3h-3zM704 147h3v3h-3zM728 147h2v3h-2zM736 147h3v3h-3zM745 147h3v3h-3zM757 147h5v3h-5zM800 147h12v3h-12zM832 147h3v3h-3zM844 147h3v3h-3zM856 147h5v3h-5zM870 147h3v3h-3zM701 150h3v4h-3zM710 150h3v4h-3zM725 150h8v4h-8zM742 150h3v4h-3zM757 150h5v4h-5zM800 150h3v4h-3zM832 150h6v4h-6zM841 150h9v4h-9zM870 150h3v4h-3zM733 154h3v4h-3zM742 154h3v4h-3zM774 154h3v4h-3zM867 154h3v4h-3zM873 154h3v4h-3zM725 158h3v4h-3zM733 158h3v4h-3zM873 158h3v4h-3zM861 162h3v4h-3z"/>
<path fill="#00d008" d="M780 112h3v4h-3zM815 112h3v4h-3zM704 116h3v4h-3zM771 116h3v4h-3zM777 116h3v4h-3zM789 116h3v4h-3zM818 116h3v4h-3zM698 120h3v4h-3zM704 120h3v4h-3zM774 120h6v4h-6zM795 120h2v4h-2zM812 120h3v4h-3zM844 120h3v4h-3zM853 120h3v4h-3zM696 124h2v4h-2zM821 124h3v4h-3zM832 124h3v4h-3zM701 128h3v3h-3zM765 128h6v3h-6zM780 128h3v3h-3zM789 128h3v3h-3zM821 128h3v3h-3zM829 128h3v3h-3zM847 128h3v3h-3zM856 128h3v3h-3zM864 128h3v3h-3zM704 131h3v4h-3zM795 131h2v4h-2zM867 131h3v4h-3zM690 135h3v4h-3zM725 135h3v4h-3zM771 135h3v4h-3zM777 135h3v4h-3zM795 135h2v4h-2zM800 135h3v4h-3zM844 135h3v4h-3zM684 139h3v4h-3zM693 139h3v4h-3zM728 139h2v4h-2zM768 139h3v4h-3zM803 139h6v4h-6zM824 139h3v4h-3zM829 139h3v4h-3zM841 139h6v4h-6zM850 139h3v4h-3zM870 139h3v4h-3zM728 143h2v4h-2zM745 143h3v4h-3zM795 143h2v4h-2zM806 143h3v4h-3zM853 143h3v4h-3zM870 143h3v4h-3zM701 147h3v3h-3zM739 147h6v3h-6zM829 147h3v3h-3zM873 147h3v3h-3zM850 150h9v4h-9zM861 150h3v4h-3zM739 158h3v4h-3z"/>
<path fill="#00d808" d="M812 112h3v4h-3zM829 112h3v4h-3zM786 116h3v4h-3zM795 116h2v4h-2zM681 120h3v4h-3zM771 120h3v4h-3zM786 120h3v4h-3zM803 120h3v4h-3zM815 120h3v4h-3zM838 120h6v4h-6zM768 124h3v4h-3zM774 124h6v4h-6zM783 124h6v4h-6zM827 124h2v4h-2zM716 128h3v3h-3zM762 128h3v3h-3zM783 128h3v3h-3zM809 128h3v3h-3zM815 128h3v3h-3zM827 128h2v3h-2zM838 128h3v3h-3zM861 128h3v3h-3zM867 128h3v3h-3zM693 131h3v4h-3zM725 131h3v4h-3zM780 131h3v4h-3zM789 131h6v4h-6zM809 131h3v4h-3zM870 131h3v4h-3zM698 135h3v4h-3zM710 135h3v4h-3zM780 135h3v4h-3zM838 135h3v4h-3zM856 135h3v4h-3zM681 139h3v4h-3zM687 139h3v4h-3zM713 139h6v4h-6zM725 139h3v4h-3zM730 139h3v4h-3zM739 139h3v4h-3zM745 139h3v4h-3zM797 139h3v4h-3zM853 139h3v4h-3zM687 143h3v4h-3zM722 143h3v4h-3zM739 143h3v4h-3zM754 143h3v4h-3zM789 143h6v4h-6zM838 143h3v4h-3zM850 143h3v4h-3zM861 143h6v4h-6zM707 147h3v3h-3zM713 147h3v3h-3zM719 147h3v3h-3zM838 147h3v3h-3zM850 147h3v3h-3zM838 150h3v4h-3zM867 150h3v4h-3zM870 154h3v4h-3z"/>
<path fill="#00c818" d="M821 120h3v4h-3zM850 120h3v4h-3zM800 124h3v4h-3zM815 124h6v4h-6zM841 124h3v4h-3zM698 128h3v3h-3zM792 128h3v3h-3zM824 128h3v3h-3zM841 128h3v3h-3zM783 131h3v4h-3zM821 131h3v4h-3zM847 131h3v4h-3zM859 131h2v4h-2zM719 135h3v4h-3zM867 135h3v4h-3zM704 139h3v4h-3zM733 139h3v4h-3zM757 139h3v4h-3zM765 139h3v4h-3zM777 139h3v4h-3zM786 139h3v4h-3zM809 139h3v4h-3zM832 139h3v4h-3zM693 143h5v4h-5zM736 143h3v4h-3zM774 143h3v4h-3zM797 143h3v4h-3zM827 143h2v4h-2zM873 143h3v4h-3zM690 147h3v3h-3zM710 147h3v3h-3zM730 147h6v3h-6zM754 147h3v3h-3zM771 147h3v3h-3zM786 147h3v3h-3zM797 147h3v3h-3zM713 150h3v4h-3zM722 150h3v4h-3zM733 150h3v4h-3zM768 150h3v4h-3zM859 150h2v4h-2zM707 154h3v4h-3zM713 154h3v4h-3zM725 154h3v4h-3zM730 154h3v4h-3zM736 154h6v4h-6zM748 154h3v4h-3zM762 154h3v4h-3zM777 154h3v4h-3zM838 154h3v4h-3zM850 154h6v4h-6zM859 154h2v4h-2zM867 158h3v4h-3zM864 170h3v3h-3zM856 177h3v4h-3zM873 181h3v4h-3zM850 192h3v4h-3z"/>
<path fill="#08d800" d="M693 124h3v4h-3zM684 131h3v4h-3z"/>
<path fill="#00c828" d="M844 124h3v4h-3zM824 131h3v4h-3zM815 139h6v4h-6zM684 147h3v3h-3zM765 147h3v3h-3zM792 147h3v3h-3zM812 147h3v3h-3zM824 147h3v3h-3zM684 150h3v4h-3zM707 150h3v4h-3zM719 150h3v4h-3zM762 150h3v4h-3zM771 150h6v4h-6zM803 150h3v4h-3zM815 150h3v4h-3zM829 150h3v4h-3zM698 154h3v4h-3zM710 154h3v4h-3zM719 154h3v4h-3zM745 154h3v4h-3zM780 154h3v4h-3zM829 154h6v4h-6zM728 158h2v4h-2zM745 158h3v4h-3zM760 158h5v4h-5zM777 158h3v4h-3zM859 158h2v4h-2zM684 162h3v4h-3zM690 162h3v4h-3zM725 162h3v4h-3zM739 162h6v4h-6zM754 162h3v4h-3zM859 162h2v4h-2zM867 162h3v4h-3zM730 166h3v4h-3zM853 166h6v4h-6zM861 166h3v4h-3zM847 170h3v3h-3zM856 170h3v3h-3zM873 170h3v3h-3zM844 177h3v4h-3zM853 177h3v4h-3zM867 177h3v4h-3z"/>
<path fill="#00c820" d="M844 128h3v3h-3zM698 131h3v4h-3zM762 135h3v4h-3zM815 135h3v4h-3zM774 139h3v4h-3zM812 139h3v4h-3zM698 143h3v4h-3zM768 143h6v4h-6zM777 143h6v4h-6zM786 143h3v4h-3zM812 143h3v4h-3zM681 147h3v3h-3zM687 147h3v3h-3zM696 147h2v3h-2zM748 147h6v3h-6zM768 147h3v3h-3zM780 147h3v3h-3zM795 147h2v3h-2zM815 147h3v3h-3zM827 147h2v3h-2zM698 150h3v4h-3zM745 150h12v4h-12zM797 150h3v4h-3zM812 150h3v4h-3zM701 154h6v4h-6zM757 154h3v4h-3zM765 154h6v4h-6zM800 154h3v4h-3zM835 154h3v4h-3zM847 154h3v4h-3zM856 154h3v4h-3zM864 154h3v4h-3zM698 158h3v4h-3zM730 158h3v4h-3zM736 158h3v4h-3zM748 158h3v4h-3zM861 158h3v4h-3zM870 158h3v4h-3zM736 162h3v4h-3zM870 162h6v4h-6zM864 166h3v4h-3zM870 166h6v4h-6zM733 170h3v3h-3zM850 170h3v3h-3z"/>
<path fill="#00c030" d="M818 135h3v4h-3zM762 147h3v3h-3zM789 147h3v3h-3zM693 150h3v4h-3zM797 154h3v4h-3zM803 154h3v4h-3zM861 154h3v4h-3zM687 158h3v4h-3zM722 158h3v4h-3zM757 158h3v4h-3zM835 158h3v4h-3zM856 158h3v4h-3zM748 162h3v4h-3zM716 177h3v4h-3z"/>
<path fill="#00c830" d="M821 139h3v4h-3zM824 143h3v4h-3zM693 147h3v3h-3zM777 147h3v3h-3zM777 150h3v4h-3zM806 150h6v4h-6zM716 154h3v4h-3zM754 154h3v4h-3zM771 154h3v4h-3zM690 158h3v4h-3zM704 158h3v4h-3zM713 158h3v4h-3zM742 158h3v4h-3zM751 158h6v4h-6zM771 158h6v4h-6zM800 158h3v4h-3zM728 162h2v4h-2zM736 166h6v4h-6zM707 170h3v3h-3zM850 173h3v4h-3zM797 177h3v4h-3zM847 177h3v4h-3z"/>
<path fill="#00c048" d="M815 143h3v4h-3zM783 147h3v3h-3zM783 150h3v4h-3zM821 150h3v4h-3zM684 154h3v4h-3zM693 154h3v4h-3zM786 154h6v4h-6zM806 154h3v4h-3zM815 154h3v4h-3zM827 154h2v4h-2zM684 158h3v4h-3zM783 158h3v4h-3zM789 158h3v4h-3zM795 158h2v4h-2zM818 158h3v4h-3zM841 158h3v4h-3zM710 162h3v4h-3zM722 162h3v4h-3zM757 162h3v4h-3zM786 162h3v4h-3zM797 162h12v4h-12zM838 162h3v4h-3zM684 166h3v4h-3zM704 166h3v4h-3zM710 166h3v4h-3zM725 166h5v4h-5zM733 166h3v4h-3zM745 166h3v4h-3zM832 166h3v4h-3zM838 166h3v4h-3zM681 170h3v3h-3zM690 170h3v3h-3zM710 170h3v3h-3zM725 170h3v3h-3zM736 170h3v3h-3zM742 170h3v3h-3zM809 170h3v3h-3zM838 170h3v3h-3zM859 170h2v3h-2zM870 170h3v3h-3zM722 173h3v4h-3zM864 173h3v4h-3zM870 173h3v4h-3zM722 177h3v4h-3zM870 177h6v4h-6zM710 181h3v4h-3zM771 181h3v4h-3zM850 181h3v4h-3zM870 185h3v4h-3zM783 189h3v3h-3zM841 189h3v3h-3zM701 215h3v4h-3zM704 219h3v4h-3z"/>
<path fill="#00c038" d="M818 143h3v4h-3zM818 147h6v3h-6zM687 150h3v4h-3zM786 150h9v4h-9zM681 154h3v4h-3zM687 154h3v4h-3zM696 154h2v4h-2zM722 154h3v4h-3zM783 154h3v4h-3zM809 154h3v4h-3zM818 154h3v4h-3zM841 154h6v4h-6zM693 158h3v4h-3zM716 158h6v4h-6zM780 158h3v4h-3zM786 158h3v4h-3zM797 158h3v4h-3zM832 158h3v4h-3zM838 158h3v4h-3zM847 158h9v4h-9zM864 158h3v4h-3zM681 162h3v4h-3zM730 162h3v4h-3zM856 162h3v4h-3zM864 162h3v4h-3zM742 166h3v4h-3zM859 166h2v4h-2zM867 166h3v4h-3zM728 170h2v3h-2zM736 173h3v4h-3zM824 173h3v4h-3zM873 173h3v4h-3zM742 177h3v4h-3zM838 177h3v4h-3zM861 177h3v4h-3zM856 185h3v4h-3zM864 185h3v4h-3z"/>
<path fill="#00c040" d="M821 143h3v4h-3zM681 150h3v4h-3zM690 150h3v4h-3zM780 150h3v4h-3zM818 150h3v4h-3zM824 150h5v4h-5zM690 154h3v4h-3zM795 154h2v4h-2zM681 158h3v4h-3zM696 158h2v4h-2zM701 158h3v4h-3zM765 158h3v4h-3zM803 158h3v4h-3zM829 158h3v4h-3zM844 158h3v4h-3zM687 162h3v4h-3zM696 162h2v4h-2zM733 162h3v4h-3zM745 162h3v4h-3zM751 162h3v4h-3zM760 162h5v4h-5zM809 162h3v4h-3zM832 162h6v4h-6zM850 162h6v4h-6zM687 166h6v4h-6zM713 166h6v4h-6zM827 166h2v4h-2zM713 170h3v3h-3zM853 170h3v3h-3zM861 170h3v3h-3zM690 173h6v4h-6zM730 173h3v4h-3zM827 173h2v4h-2zM853 173h6v4h-6zM861 173h3v4h-3zM800 177h3v4h-3zM859 181h2v4h-2z"/>
<path fill="#00c050" d="M696 150h2v4h-2zM792 154h3v4h-3zM710 158h3v4h-3zM768 158h3v4h-3zM792 158h3v4h-3zM806 158h3v4h-3zM821 158h3v4h-3zM701 162h3v4h-3zM719 162h3v4h-3zM844 166h3v4h-3zM687 170h3v3h-3zM704 170h3v3h-3zM719 170h3v3h-3zM867 170h3v3h-3zM844 173h3v4h-3zM733 177h3v4h-3zM803 177h3v4h-3zM859 177h2v4h-2zM853 181h3v4h-3zM861 181h3v4h-3zM693 185h3v4h-3zM853 185h3v4h-3zM867 200h3v4h-3zM850 208h3v4h-3zM707 215h3v4h-3z"/>
<path fill="#00b858" d="M812 154h3v4h-3zM821 154h6v4h-6zM812 158h6v4h-6zM824 158h3v4h-3zM704 162h3v4h-3zM713 162h6v4h-6zM777 162h6v4h-6zM792 162h5v4h-5zM824 162h3v4h-3zM847 162h3v4h-3zM681 166h3v4h-3zM707 166h3v4h-3zM722 166h3v4h-3zM751 166h6v4h-6zM803 166h3v4h-3zM812 166h3v4h-3zM829 166h3v4h-3zM850 166h3v4h-3zM693 170h5v3h-5zM760 170h2v3h-2zM841 170h3v3h-3zM684 173h3v4h-3zM733 173h3v4h-3zM765 173h3v4h-3zM864 177h3v4h-3zM716 181h3v4h-3zM844 181h3v4h-3zM859 185h2v4h-2zM847 189h6v3h-6zM859 189h2v3h-2zM693 196h3v4h-3zM870 200h6v4h-6zM774 204h3v4h-3zM684 208h3v4h-3zM690 215h3v4h-3zM693 219h3v4h-3z"/>
<path fill="#00b850" d="M707 158h3v4h-3zM827 158h2v4h-2zM693 162h3v4h-3zM693 166h3v4h-3zM701 166h3v4h-3zM835 166h3v4h-3zM847 166h3v4h-3zM730 170h3v3h-3zM832 170h3v3h-3zM701 173h3v4h-3zM867 189h3v3h-3zM853 192h3v4h-3zM850 196h3v4h-3zM856 196h3v4h-3z"/>
<path fill="#00b860" d="M809 158h3v4h-3zM698 162h3v4h-3zM707 162h3v4h-3zM844 162h3v4h-3zM757 166h3v4h-3zM806 166h6v4h-6zM815 166h9v4h-9zM841 166h3v4h-3zM748 170h3v3h-3zM827 170h2v3h-2zM707 173h9v4h-9zM728 173h2v4h-2zM847 173h3v4h-3zM859 173h2v4h-2zM827 177h2v4h-2zM850 177h3v4h-3zM696 181h2v4h-2zM768 185h3v4h-3zM870 196h6v4h-6zM687 215h3v4h-3zM696 223h2v4h-2z"/>
<path fill="#00c060" d="M765 162h3v4h-3zM812 162h3v4h-3zM757 170h3v3h-3zM818 170h3v3h-3zM696 173h2v4h-2zM768 173h3v4h-3zM838 173h6v4h-6zM701 177h3v4h-3zM745 177h3v4h-3zM757 177h3v4h-3zM832 177h3v4h-3zM681 181h3v4h-3zM707 181h3v4h-3zM733 181h3v4h-3zM762 181h3v4h-3zM867 181h3v4h-3zM803 185h3v4h-3zM867 185h3v4h-3zM698 189h3v3h-3zM861 189h3v3h-3zM873 192h3v4h-3zM853 196h3v4h-3zM859 196h2v4h-2zM690 204h3v4h-3zM742 227h3v4h-3z"/>
<path fill="#00c068" d="M768 162h3v4h-3zM774 162h3v4h-3zM783 162h3v4h-3zM815 162h3v4h-3zM829 162h3v4h-3zM698 166h3v4h-3zM719 166h3v4h-3zM762 166h3v4h-3zM800 166h3v4h-3zM684 170h3v3h-3zM716 170h3v3h-3zM745 170h3v3h-3zM795 170h2v3h-2zM800 170h3v3h-3zM829 170h3v3h-3zM716 173h6v4h-6zM739 173h3v4h-3zM728 177h2v4h-2zM768 177h3v4h-3zM684 181h3v4h-3zM704 181h3v4h-3zM803 181h3v4h-3zM832 181h3v4h-3zM870 181h3v4h-3zM701 185h3v4h-3zM850 185h3v4h-3zM696 189h2v3h-2zM844 189h3v3h-3zM864 189h3v3h-3zM870 189h6v3h-6zM841 192h3v4h-3zM847 192h3v4h-3zM850 204h3v4h-3zM873 204h3v4h-3zM698 212h3v3h-3zM873 215h3v4h-3zM710 227h3v4h-3z"/>
<path fill="#00c070" d="M771 162h3v4h-3zM789 162h3v4h-3zM818 162h6v4h-6zM827 162h2v4h-2zM841 162h3v4h-3zM696 166h2v4h-2zM748 166h3v4h-3zM786 166h3v4h-3zM797 166h3v4h-3zM824 166h3v4h-3zM722 170h3v3h-3zM803 170h3v3h-3zM824 170h3v3h-3zM835 170h3v3h-3zM844 170h3v3h-3zM681 173h3v4h-3zM806 173h3v4h-3zM818 173h3v4h-3zM829 173h3v4h-3zM835 173h3v4h-3zM867 173h3v4h-3zM684 177h9v4h-9zM698 177h3v4h-3zM736 177h3v4h-3zM765 181h3v4h-3zM864 181h3v4h-3zM696 185h2v4h-2zM704 185h3v4h-3zM861 185h3v4h-3zM873 185h3v4h-3zM853 189h3v3h-3zM844 192h3v4h-3zM696 196h2v4h-2zM754 196h3v4h-3zM861 196h3v4h-3zM696 200h2v4h-2zM864 204h3v4h-3zM861 208h3v4h-3zM864 212h3v3h-3zM698 215h3v4h-3zM853 215h3v4h-3zM698 219h3v4h-3zM690 223h3v4h-3zM710 223h3v4h-3zM751 234h3v4h-3z"/>
<path fill="#00c088" d="M760 166h2v4h-2zM765 166h3v4h-3zM698 170h3v3h-3zM751 170h3v3h-3zM762 170h6v3h-6zM789 170h3v3h-3zM687 173h3v4h-3zM698 173h3v4h-3zM704 173h3v4h-3zM725 173h3v4h-3zM742 173h3v4h-3zM748 173h3v4h-3zM815 173h3v4h-3zM719 177h3v4h-3zM829 177h3v4h-3zM835 177h3v4h-3zM730 181h3v4h-3zM739 181h3v4h-3zM812 181h3v4h-3zM698 185h3v4h-3zM710 185h3v4h-3zM742 185h3v4h-3zM760 185h2v4h-2zM806 185h3v4h-3zM687 189h3v3h-3zM681 192h3v4h-3zM693 192h3v4h-3zM856 192h3v4h-3zM809 200h3v4h-3zM847 200h3v4h-3zM853 200h3v4h-3zM696 204h2v4h-2zM701 204h3v4h-3zM853 204h3v4h-3zM864 208h6v4h-6zM681 215h3v4h-3zM693 215h3v4h-3zM861 215h3v4h-3zM701 219h3v4h-3zM838 219h3v4h-3zM859 219h5v4h-5zM701 223h6v4h-6zM722 223h3v4h-3zM841 223h3v4h-3zM780 234h3v4h-3zM792 234h3v4h-3zM783 254h3v3h-3z"/>
<path fill="#00c078" d="M768 166h3v4h-3zM780 166h6v4h-6zM739 170h3v3h-3zM797 170h3v3h-3zM806 170h3v3h-3zM815 170h3v3h-3zM792 173h3v4h-3zM803 173h3v4h-3zM696 177h2v4h-2zM710 177h3v4h-3zM777 177h3v4h-3zM687 181h3v4h-3zM728 181h2v4h-2zM742 181h3v4h-3zM835 181h3v4h-3zM841 181h3v4h-3zM835 185h3v4h-3zM693 189h3v3h-3zM701 189h3v3h-3zM838 189h3v3h-3zM687 192h3v4h-3zM710 192h3v4h-3zM730 192h3v4h-3zM809 192h3v4h-3zM838 192h3v4h-3zM870 192h3v4h-3zM736 196h3v4h-3zM867 196h3v4h-3zM681 200h3v4h-3zM690 200h3v4h-3zM841 200h3v4h-3zM859 200h2v4h-2zM859 204h2v4h-2zM701 208h3v4h-3zM859 208h2v4h-2zM696 212h2v3h-2zM856 212h5v3h-5zM684 234h3v4h-3z"/>
<path fill="#00c898" d="M771 166h3v4h-3zM754 170h3v3h-3zM777 170h3v3h-3zM745 173h3v4h-3zM812 173h3v4h-3zM681 177h3v4h-3zM693 177h3v4h-3zM760 177h2v4h-2zM806 177h6v4h-6zM698 181h3v4h-3zM725 181h3v4h-3zM768 181h3v4h-3zM797 181h3v4h-3zM806 181h3v4h-3zM716 185h3v4h-3zM710 189h3v3h-3zM728 189h2v3h-2zM774 189h3v3h-3zM684 192h3v4h-3zM696 192h2v4h-2zM707 192h3v4h-3zM681 196h3v4h-3zM690 196h3v4h-3zM710 196h3v4h-3zM841 196h3v4h-3zM684 200h3v4h-3zM698 200h3v4h-3zM821 200h3v4h-3zM693 204h3v4h-3zM713 204h3v4h-3zM861 204h3v4h-3zM867 204h3v4h-3zM687 208h6v4h-6zM704 208h3v4h-3zM681 212h3v3h-3zM701 212h3v3h-3zM835 212h3v3h-3zM713 215h3v4h-3zM748 215h3v4h-3zM821 215h3v4h-3zM841 215h3v4h-3zM815 219h3v4h-3zM844 219h3v4h-3zM856 219h3v4h-3zM867 219h3v4h-3zM693 223h3v4h-3zM838 223h3v4h-3zM861 223h3v4h-3zM681 227h3v4h-3zM687 227h3v4h-3zM707 227h3v4h-3zM757 231h3v3h-3zM821 234h3v4h-3zM745 238h3v4h-3zM754 250h3v4h-3zM795 254h2v3h-2zM847 261h3v4h-3z"/>
<path fill="#00c8a8" d="M774 166h3v4h-3zM774 170h3v3h-3zM780 170h3v3h-3zM786 170h3v3h-3zM751 173h3v4h-3zM783 173h3v4h-3zM789 173h3v4h-3zM795 173h2v4h-2zM725 177h3v4h-3zM771 177h3v4h-3zM795 177h2v4h-2zM821 177h3v4h-3zM713 181h3v4h-3zM789 181h3v4h-3zM707 185h3v4h-3zM829 185h3v4h-3zM681 189h3v3h-3zM707 189h3v3h-3zM768 189h3v3h-3zM803 189h3v3h-3zM821 189h6v3h-6zM829 189h3v3h-3zM835 189h3v3h-3zM856 189h3v3h-3zM733 192h3v4h-3zM792 192h3v4h-3zM827 192h2v4h-2zM867 192h3v4h-3zM687 196h3v4h-3zM698 196h3v4h-3zM725 196h3v4h-3zM730 196h3v4h-3zM835 196h3v4h-3zM687 200h3v4h-3zM701 200h3v4h-3zM710 200h6v4h-6zM806 200h3v4h-3zM710 204h3v4h-3zM844 204h3v4h-3zM681 208h3v4h-3zM693 208h3v4h-3zM713 208h3v4h-3zM815 208h3v4h-3zM841 208h3v4h-3zM690 212h3v3h-3zM713 212h3v3h-3zM847 212h3v3h-3zM710 215h3v4h-3zM725 215h3v4h-3zM856 215h5v4h-5zM870 215h3v4h-3zM681 219h3v4h-3zM768 219h3v4h-3zM847 219h3v4h-3zM864 219h3v4h-3zM867 223h3v4h-3zM690 227h3v4h-3zM698 227h3v4h-3zM745 227h3v4h-3zM835 227h6v4h-6zM853 227h3v4h-3zM870 227h3v4h-3zM684 231h3v3h-3zM690 231h3v3h-3zM739 231h3v3h-3zM859 231h2v3h-2zM873 231h3v3h-3zM829 234h3v4h-3zM873 234h3v4h-3zM803 242h3v4h-3zM864 242h3v4h-3zM867 246h3v4h-3zM797 250h3v4h-3zM806 250h3v4h-3zM829 250h3v4h-3zM824 257h3v4h-3z"/>
<path fill="#00c890" d="M777 166h3v4h-3zM704 177h3v4h-3zM690 181h6v4h-6zM818 181h3v4h-3zM856 181h3v4h-3zM713 185h3v4h-3zM739 185h3v4h-3zM847 196h3v4h-3zM864 196h3v4h-3zM754 200h3v4h-3zM864 200h3v4h-3zM818 208h3v4h-3zM853 208h3v4h-3zM684 212h3v3h-3zM684 215h3v4h-3zM710 219h3v4h-3zM870 219h3v4h-3zM684 223h3v4h-3zM844 223h3v4h-3zM841 227h3v4h-3zM847 231h3v3h-3zM748 234h3v4h-3zM780 238h3v4h-3z"/>
<path fill="#00c090" d="M789 166h6v4h-6zM783 170h3v3h-3zM821 170h3v3h-3zM730 177h3v4h-3zM739 177h3v4h-3zM827 181h2v4h-2zM774 185h3v4h-3zM838 185h3v4h-3zM861 192h3v4h-3zM783 208h3v4h-3zM693 212h3v3h-3zM827 212h2v3h-2zM838 212h3v3h-3zM861 212h3v3h-3zM870 212h3v3h-3zM850 215h3v4h-3zM864 215h3v4h-3z"/>
<path fill="#00c080" d="M795 166h2v4h-2zM701 170h3v3h-3zM812 170h3v3h-3zM760 173h2v4h-2zM771 173h3v4h-3zM797 173h6v4h-6zM821 173h3v4h-3zM832 173h3v4h-3zM713 177h3v4h-3zM748 177h3v4h-3zM789 177h3v4h-3zM824 177h3v4h-3zM841 177h3v4h-3zM701 181h3v4h-3zM722 181h3v4h-3zM847 181h3v4h-3zM681 185h6v4h-6zM824 185h3v4h-3zM844 185h6v4h-6zM864 192h3v4h-3zM701 196h3v4h-3zM809 196h3v4h-3zM861 200h3v4h-3zM687 204h3v4h-3zM698 204h3v4h-3zM847 204h3v4h-3zM856 204h3v4h-3zM870 204h3v4h-3zM696 208h2v4h-2zM687 212h3v3h-3zM873 212h3v3h-3zM684 219h3v4h-3zM690 219h3v4h-3zM707 219h3v4h-3zM687 223h3v4h-3zM693 231h3v3h-3z"/>
<path fill="#00c8b0" d="M768 170h3v3h-3zM774 173h3v4h-3zM780 173h3v4h-3zM786 173h3v4h-3zM809 173h3v4h-3zM707 177h3v4h-3zM751 177h3v4h-3zM774 181h3v4h-3zM829 181h3v4h-3zM722 185h3v4h-3zM733 185h3v4h-3zM745 185h3v4h-3zM765 185h3v4h-3zM704 189h3v3h-3zM722 189h3v3h-3zM771 189h3v3h-3zM809 189h3v3h-3zM704 192h3v4h-3zM742 192h3v4h-3zM748 192h3v4h-3zM812 192h3v4h-3zM818 192h3v4h-3zM684 196h3v4h-3zM792 196h3v4h-3zM800 196h3v4h-3zM829 196h3v4h-3zM768 200h3v4h-3zM780 200h3v4h-3zM797 200h3v4h-3zM829 200h3v4h-3zM838 200h3v4h-3zM844 200h3v4h-3zM684 204h3v4h-3zM771 204h3v4h-3zM786 204h3v4h-3zM792 204h3v4h-3zM812 204h3v4h-3zM829 204h6v4h-6zM710 208h3v4h-3zM780 208h3v4h-3zM827 208h5v4h-5zM870 208h6v4h-6zM704 212h6v3h-6zM800 212h3v3h-3zM818 212h3v3h-3zM824 212h3v3h-3zM832 212h3v3h-3zM841 212h3v3h-3zM850 212h3v3h-3zM867 212h3v3h-3zM696 215h2v4h-2zM716 215h3v4h-3zM829 215h3v4h-3zM847 215h3v4h-3zM687 219h3v4h-3zM716 219h6v4h-6zM725 219h3v4h-3zM780 219h3v4h-3zM832 219h6v4h-6zM841 219h3v4h-3zM736 223h3v4h-3zM821 223h3v4h-3zM870 223h3v4h-3zM704 227h3v4h-3zM827 227h2v4h-2zM873 227h3v4h-3zM698 231h3v3h-3zM768 231h3v3h-3zM850 231h3v3h-3zM856 231h3v3h-3zM861 231h6v3h-6zM701 234h6v4h-6zM710 234h3v4h-3zM725 234h3v4h-3zM853 234h3v4h-3zM859 234h2v4h-2zM684 238h3v4h-3zM867 238h3v4h-3zM684 242h3v4h-3zM786 242h3v4h-3zM777 246h3v4h-3zM765 250h3v4h-3zM812 250h3v4h-3zM838 254h6v3h-6zM783 257h3v4h-3zM827 257h2v4h-2zM771 261h3v4h-3zM832 261h3v4h-3z"/>
<path fill="#00c8a0" d="M771 170h3v3h-3zM792 170h3v3h-3zM757 173h3v4h-3zM762 173h3v4h-3zM777 173h3v4h-3zM780 177h3v4h-3zM751 181h3v4h-3zM780 181h6v4h-6zM687 185h6v4h-6zM730 185h3v4h-3zM751 185h3v4h-3zM786 185h3v4h-3zM800 185h3v4h-3zM812 185h3v4h-3zM841 185h3v4h-3zM684 189h3v3h-3zM742 189h6v3h-6zM760 189h2v3h-2zM780 189h3v3h-3zM800 189h3v3h-3zM690 192h3v4h-3zM698 192h3v4h-3zM835 192h3v4h-3zM859 192h2v4h-2zM707 196h3v4h-3zM844 196h3v4h-3zM693 200h3v4h-3zM704 200h3v4h-3zM792 200h3v4h-3zM856 200h3v4h-3zM681 204h3v4h-3zM704 204h3v4h-3zM707 208h3v4h-3zM730 208h3v4h-3zM832 208h9v4h-9zM844 208h6v4h-6zM856 208h3v4h-3zM710 212h3v3h-3zM733 212h3v3h-3zM853 212h3v3h-3zM704 215h3v4h-3zM762 215h3v4h-3zM835 215h6v4h-6zM867 215h3v4h-3zM696 219h2v4h-2zM827 219h2v4h-2zM873 219h3v4h-3zM681 223h3v4h-3zM698 223h3v4h-3zM707 223h3v4h-3zM853 223h3v4h-3zM864 223h3v4h-3zM684 227h3v4h-3zM786 227h3v4h-3zM847 227h3v4h-3zM861 227h3v4h-3zM687 231h3v3h-3zM780 231h3v3h-3zM870 231h3v3h-3zM690 234h3v4h-3zM841 234h3v4h-3zM754 238h3v4h-3zM809 254h3v3h-3zM835 257h3v4h-3z"/>
<path fill="#00d0c8" d="M754 173h3v4h-3zM838 181h3v4h-3zM728 185h2v4h-2zM777 185h3v4h-3zM821 185h3v4h-3zM827 185h2v4h-2zM713 189h3v3h-3zM789 189h3v3h-3zM739 192h3v4h-3zM774 192h6v4h-6zM803 192h3v4h-3zM824 192h3v4h-3zM789 196h3v4h-3zM716 200h3v4h-3zM722 200h3v4h-3zM774 200h3v4h-3zM786 200h3v4h-3zM795 200h2v4h-2zM835 200h3v4h-3zM707 204h3v4h-3zM719 204h3v4h-3zM728 204h2v4h-2zM745 204h3v4h-3zM762 204h3v4h-3zM722 212h3v3h-3zM815 212h3v3h-3zM730 215h3v4h-3zM827 215h2v4h-2zM739 219h3v4h-3zM771 219h3v4h-3zM873 223h3v4h-3zM713 227h3v4h-3zM777 227h3v4h-3zM818 227h3v4h-3zM867 227h3v4h-3zM716 231h3v3h-3zM742 231h3v3h-3zM824 231h3v3h-3zM713 234h3v4h-3zM745 234h3v4h-3zM768 234h3v4h-3zM806 234h3v4h-3zM844 234h3v4h-3zM861 234h3v4h-3zM716 238h3v4h-3zM827 238h2v4h-2zM795 242h2v4h-2zM829 242h6v4h-6zM856 242h3v4h-3zM838 246h3v4h-3zM850 246h3v4h-3zM859 246h2v4h-2zM873 246h3v4h-3zM838 250h3v4h-3zM780 254h3v3h-3zM789 254h3v3h-3zM806 254h3v3h-3zM716 257h3v4h-3zM792 257h3v4h-3zM850 257h3v4h-3zM873 257h3v4h-3zM768 261h3v4h-3zM841 261h3v4h-3z"/>
<path fill="#00c8b8" d="M754 177h3v4h-3zM762 177h6v4h-6zM792 177h3v4h-3zM719 181h3v4h-3zM736 181h3v4h-3zM748 181h3v4h-3zM757 181h3v4h-3zM786 181h3v4h-3zM815 181h3v4h-3zM821 181h3v4h-3zM725 185h3v4h-3zM771 185h3v4h-3zM792 185h3v4h-3zM832 185h3v4h-3zM690 189h3v3h-3zM716 189h6v3h-6zM733 189h3v3h-3zM739 189h3v3h-3zM751 189h3v3h-3zM713 192h6v4h-6zM797 192h3v4h-3zM815 192h3v4h-3zM829 192h3v4h-3zM704 196h3v4h-3zM713 196h3v4h-3zM728 196h2v4h-2zM797 196h3v4h-3zM707 200h3v4h-3zM757 200h3v4h-3zM815 200h3v4h-3zM716 204h3v4h-3zM783 204h3v4h-3zM841 204h3v4h-3zM698 208h3v4h-3zM812 208h3v4h-3zM824 208h3v4h-3zM739 212h3v3h-3zM768 212h3v3h-3zM844 212h3v3h-3zM768 215h3v4h-3zM783 215h3v4h-3zM795 215h2v4h-2zM812 215h6v4h-6zM733 219h3v4h-3zM829 219h3v4h-3zM716 223h3v4h-3zM725 223h3v4h-3zM815 223h3v4h-3zM824 223h3v4h-3zM847 223h6v4h-6zM856 223h5v4h-5zM693 227h3v4h-3zM716 227h3v4h-3zM829 227h3v4h-3zM730 231h3v3h-3zM754 231h3v3h-3zM786 231h3v3h-3zM803 231h3v3h-3zM821 231h3v3h-3zM841 231h6v3h-6zM754 234h3v4h-3zM832 234h3v4h-3zM864 234h3v4h-3zM786 238h3v4h-3zM832 238h3v4h-3zM859 238h5v4h-5zM681 242h3v4h-3zM771 242h3v4h-3zM821 242h3v4h-3zM861 242h3v4h-3zM690 246h3v4h-3zM760 246h5v4h-5zM806 246h3v4h-3zM827 250h2v4h-2zM835 250h3v4h-3zM844 250h3v4h-3zM774 254h3v3h-3zM827 254h2v3h-2zM832 254h3v3h-3zM795 257h2v4h-2zM818 257h3v4h-3zM841 257h3v4h-3zM870 257h3v4h-3zM760 261h2v4h-2zM783 261h3v4h-3zM795 261h2v4h-2zM806 261h3v4h-3z"/>
<path fill="#00c8c8" d="M774 177h3v4h-3zM795 189h2v3h-2zM832 192h3v4h-3zM821 196h3v4h-3zM832 196h3v4h-3zM736 204h3v4h-3zM829 212h3v3h-3zM745 223h3v4h-3zM783 223h3v4h-3zM719 227h6v4h-6zM719 234h3v4h-3zM742 234h3v4h-3zM760 234h2v4h-2zM765 234h3v4h-3zM867 234h3v4h-3zM806 238h3v4h-3zM821 246h3v4h-3zM809 257h3v4h-3z"/>
<path fill="#00c8d8" d="M783 177h3v4h-3zM815 177h3v4h-3zM754 181h3v4h-3zM760 181h2v4h-2zM792 181h3v4h-3zM800 181h3v4h-3zM754 185h3v4h-3zM795 185h2v4h-2zM786 189h3v3h-3zM736 192h3v4h-3zM768 196h3v4h-3zM795 196h2v4h-2zM824 196h3v4h-3zM748 200h3v4h-3zM748 204h3v4h-3zM777 204h3v4h-3zM800 204h3v4h-3zM809 204h3v4h-3zM838 204h3v4h-3zM736 212h3v3h-3zM789 212h6v3h-6zM757 215h3v4h-3zM824 215h3v4h-3zM757 219h3v4h-3zM783 219h3v4h-3zM800 219h3v4h-3zM795 223h2v4h-2zM806 223h3v4h-3zM757 227h3v4h-3zM856 227h3v4h-3zM707 231h3v3h-3zM795 231h2v3h-2zM771 234h3v4h-3zM824 234h3v4h-3zM847 234h3v4h-3zM696 238h2v4h-2zM704 238h3v4h-3zM797 238h3v4h-3zM841 238h3v4h-3zM853 238h3v4h-3zM690 242h3v4h-3zM722 242h3v4h-3zM757 242h3v4h-3zM774 242h3v4h-3zM818 242h3v4h-3zM838 242h3v4h-3zM853 242h3v4h-3zM859 242h2v4h-2zM713 246h3v4h-3zM733 246h3v4h-3zM835 246h3v4h-3zM847 246h3v4h-3zM861 246h3v4h-3zM710 250h3v4h-3zM716 250h6v4h-6zM757 250h3v4h-3zM841 250h3v4h-3zM722 254h3v3h-3zM748 254h3v3h-3zM792 254h3v3h-3zM815 254h3v3h-3zM742 257h3v4h-3zM786 257h3v4h-3zM844 257h3v4h-3zM853 257h3v4h-3zM859 257h5v4h-5zM710 261h3v4h-3zM748 261h3v4h-3zM765 261h3v4h-3zM780 261h3v4h-3zM789 261h3v4h-3zM812 261h6v4h-6zM861 261h6v4h-6z"/>
<path fill="#00c8d0" d="M786 177h3v4h-3zM748 185h3v4h-3zM815 185h6v4h-6zM730 189h3v3h-3zM797 189h3v3h-3zM806 189h3v3h-3zM818 189h3v3h-3zM745 192h3v4h-3zM716 196h3v4h-3zM751 196h3v4h-3zM803 196h3v4h-3zM838 196h3v4h-3zM719 200h3v4h-3zM725 200h3v4h-3zM730 200h3v4h-3zM803 200h3v4h-3zM812 200h3v4h-3zM760 204h2v4h-2zM797 204h3v4h-3zM827 204h2v4h-2zM751 208h3v4h-3zM757 208h3v4h-3zM786 208h3v4h-3zM725 212h3v3h-3zM736 215h3v4h-3zM832 215h3v4h-3zM722 219h3v4h-3zM760 219h2v4h-2zM792 219h3v4h-3zM821 219h3v4h-3zM850 219h3v4h-3zM719 223h3v4h-3zM730 223h3v4h-3zM751 223h6v4h-6zM771 223h3v4h-3zM792 223h3v4h-3zM835 223h3v4h-3zM701 227h3v4h-3zM748 227h3v4h-3zM768 227h3v4h-3zM774 227h3v4h-3zM789 227h3v4h-3zM850 227h3v4h-3zM864 227h3v4h-3zM681 231h3v3h-3zM696 231h2v3h-2zM725 231h3v3h-3zM774 231h3v3h-3zM783 231h3v3h-3zM832 231h3v3h-3zM838 231h3v3h-3zM853 231h3v3h-3zM867 231h3v3h-3zM681 234h3v4h-3zM696 234h2v4h-2zM716 234h3v4h-3zM762 234h3v4h-3zM827 234h2v4h-2zM681 238h3v4h-3zM713 238h3v4h-3zM829 238h3v4h-3zM847 238h3v4h-3zM856 238h3v4h-3zM864 238h3v4h-3zM713 242h3v4h-3zM754 242h3v4h-3zM806 242h3v4h-3zM824 242h3v4h-3zM873 242h3v4h-3zM681 246h3v4h-3zM710 246h3v4h-3zM780 246h3v4h-3zM856 246h3v4h-3zM696 250h2v4h-2zM768 250h3v4h-3zM859 250h2v4h-2zM867 250h3v4h-3zM716 254h3v3h-3zM754 254h3v3h-3zM818 254h3v3h-3zM861 254h6v3h-6zM797 257h3v4h-3zM838 257h3v4h-3zM867 257h3v4h-3zM716 261h3v4h-3zM757 261h3v4h-3zM774 261h3v4h-3zM786 261h3v4h-3zM818 261h3v4h-3zM870 261h3v4h-3z"/>
<path fill="#00c8c0" d="M812 177h3v4h-3zM818 177h3v4h-3zM777 181h3v4h-3zM795 181h2v4h-2zM815 189h3v3h-3zM832 189h3v3h-3zM701 192h3v4h-3zM719 192h6v4h-6zM728 192h2v4h-2zM751 192h3v4h-3zM757 192h3v4h-3zM765 192h3v4h-3zM771 192h3v4h-3zM748 196h3v4h-3zM774 196h3v4h-3zM806 196h3v4h-3zM815 196h3v4h-3zM827 196h2v4h-2zM745 200h3v4h-3zM827 200h2v4h-2zM832 200h3v4h-3zM850 200h3v4h-3zM765 204h3v4h-3zM780 204h3v4h-3zM803 204h3v4h-3zM815 204h3v4h-3zM835 204h3v4h-3zM716 208h3v4h-3zM722 208h3v4h-3zM736 208h6v4h-6zM716 212h3v3h-3zM728 212h2v3h-2zM742 212h3v3h-3zM751 212h3v3h-3zM733 215h3v4h-3zM751 215h3v4h-3zM844 215h3v4h-3zM713 219h3v4h-3zM730 219h3v4h-3zM748 219h3v4h-3zM853 219h3v4h-3zM713 223h3v4h-3zM803 223h3v4h-3zM696 227h2v4h-2zM730 227h3v4h-3zM736 227h3v4h-3zM792 227h3v4h-3zM815 227h3v4h-3zM844 227h3v4h-3zM859 227h2v4h-2zM800 231h3v3h-3zM827 231h2v3h-2zM835 231h3v3h-3zM693 234h3v4h-3zM698 234h3v4h-3zM774 234h6v4h-6zM838 234h3v4h-3zM850 234h3v4h-3zM856 234h3v4h-3zM870 234h3v4h-3zM751 238h3v4h-3zM800 238h3v4h-3zM821 238h3v4h-3zM873 238h3v4h-3zM730 242h3v4h-3zM760 242h2v4h-2zM768 242h3v4h-3zM780 242h3v4h-3zM835 242h3v4h-3zM841 242h3v4h-3zM870 242h3v4h-3zM792 246h3v4h-3zM841 246h3v4h-3zM762 250h3v4h-3zM853 250h3v4h-3zM867 254h3v3h-3zM806 257h3v4h-3zM815 257h3v4h-3zM829 257h3v4h-3zM762 261h3v4h-3zM809 261h3v4h-3zM844 261h3v4h-3z"/>
<path fill="#00a8f8" d="M745 181h3v4h-3zM786 196h3v4h-3zM719 208h3v4h-3zM762 208h3v4h-3zM786 215h3v4h-3zM762 223h3v4h-3zM733 238h3v4h-3zM812 238h3v4h-3zM730 246h3v4h-3zM774 246h3v4h-3zM812 246h3v4h-3zM707 250h3v4h-3zM783 250h3v4h-3zM824 250h3v4h-3zM725 254h3v3h-3zM690 257h3v4h-3zM754 257h3v4h-3zM730 261h3v4h-3z"/>
<path fill="#00b8f8" d="M809 181h3v4h-3zM736 189h3v3h-3zM795 192h2v4h-2zM739 196h3v4h-3zM777 196h3v4h-3zM771 200h3v4h-3zM824 204h3v4h-3zM733 208h3v4h-3zM742 208h3v4h-3zM771 208h3v4h-3zM789 208h3v4h-3zM803 208h3v4h-3zM809 208h3v4h-3zM762 212h6v3h-6zM786 212h3v3h-3zM742 215h3v4h-3zM806 215h3v4h-3zM760 223h2v4h-2zM728 227h2v4h-2zM751 227h3v4h-3zM762 227h3v4h-3zM800 227h3v4h-3zM733 231h3v3h-3zM792 231h3v3h-3zM806 231h3v3h-3zM722 234h3v4h-3zM739 234h3v4h-3zM800 234h3v4h-3zM739 238h6v4h-6zM768 238h3v4h-3zM835 238h3v4h-3zM710 242h3v4h-3zM792 242h3v4h-3zM827 242h2v4h-2zM698 246h3v4h-3zM742 246h3v4h-3zM754 246h3v4h-3zM795 246h2v4h-2zM681 250h3v4h-3zM698 250h3v4h-3zM728 250h2v4h-2zM760 250h2v4h-2zM789 250h3v4h-3zM681 254h3v3h-3zM696 254h2v3h-2zM745 254h3v3h-3zM757 254h3v3h-3zM771 254h3v3h-3zM803 254h3v3h-3zM829 254h3v3h-3zM856 254h3v3h-3zM681 257h3v4h-3zM698 257h3v4h-3zM681 261h3v4h-3zM693 261h3v4h-3z"/>
<path fill="#0070f0" d="M824 181h3v4h-3zM760 196h2v4h-2zM754 204h3v4h-3zM809 219h3v4h-3zM777 231h3v3h-3zM812 242h3v4h-3zM829 246h3v4h-3z"/>
<path fill="#00c8e8" d="M719 185h3v4h-3zM809 185h3v4h-3zM754 189h3v3h-3zM765 189h3v3h-3zM777 189h3v3h-3zM827 189h2v3h-2zM754 192h3v4h-3zM806 192h3v4h-3zM757 196h3v4h-3zM728 200h2v4h-2zM739 200h6v4h-6zM777 200h3v4h-3zM818 200h3v4h-3zM806 204h3v4h-3zM728 208h2v4h-2zM795 208h2v4h-2zM754 212h3v3h-3zM795 212h2v3h-2zM722 215h3v4h-3zM728 215h2v4h-2zM780 215h3v4h-3zM800 215h3v4h-3zM818 215h3v4h-3zM728 219h2v4h-2zM762 219h3v4h-3zM818 219h3v4h-3zM739 223h3v4h-3zM777 223h6v4h-6zM800 223h3v4h-3zM827 223h2v4h-2zM832 223h3v4h-3zM710 231h3v3h-3zM722 231h3v3h-3zM751 231h3v3h-3zM771 231h3v3h-3zM733 234h3v4h-3zM789 234h3v4h-3zM797 234h3v4h-3zM687 238h3v4h-3zM710 238h3v4h-3zM730 238h3v4h-3zM757 238h3v4h-3zM818 238h3v4h-3zM687 242h3v4h-3zM693 242h3v4h-3zM698 242h3v4h-3zM707 242h3v4h-3zM797 242h3v4h-3zM850 242h3v4h-3zM693 246h3v4h-3zM751 246h3v4h-3zM789 246h3v4h-3zM815 246h3v4h-3zM844 246h3v4h-3zM853 246h3v4h-3zM701 250h3v4h-3zM736 250h3v4h-3zM832 250h3v4h-3zM847 250h3v4h-3zM873 250h3v4h-3zM684 254h3v3h-3zM698 254h3v3h-3zM762 254h6v3h-6zM797 254h3v3h-3zM835 254h3v3h-3zM873 254h3v3h-3zM693 257h3v4h-3zM725 257h3v4h-3zM733 257h3v4h-3zM777 257h3v4h-3zM789 257h3v4h-3zM698 261h3v4h-3zM725 261h3v4h-3zM777 261h3v4h-3zM824 261h3v4h-3zM835 261h6v4h-6z"/>
<path fill="#00c8e0" d="M736 185h3v4h-3zM789 185h3v4h-3zM725 189h3v3h-3zM792 189h3v3h-3zM812 189h3v3h-3zM780 192h3v4h-3zM719 196h6v4h-6zM733 196h3v4h-3zM783 196h3v4h-3zM818 196h3v4h-3zM783 200h3v4h-3zM789 200h3v4h-3zM800 200h3v4h-3zM730 204h3v4h-3zM739 204h3v4h-3zM821 204h3v4h-3zM725 208h3v4h-3zM765 208h6v4h-6zM806 208h3v4h-3zM771 212h3v3h-3zM780 212h6v3h-6zM797 212h3v3h-3zM760 215h2v4h-2zM797 215h3v4h-3zM736 219h3v4h-3zM742 219h3v4h-3zM789 219h3v4h-3zM803 219h3v4h-3zM812 219h3v4h-3zM728 223h2v4h-2zM748 223h3v4h-3zM757 223h3v4h-3zM765 223h3v4h-3zM774 223h3v4h-3zM809 223h3v4h-3zM829 223h3v4h-3zM760 227h2v4h-2zM783 227h3v4h-3zM832 227h3v4h-3zM701 231h3v3h-3zM745 231h3v3h-3zM762 231h3v3h-3zM797 231h3v3h-3zM687 234h3v4h-3zM707 234h3v4h-3zM803 234h3v4h-3zM693 238h3v4h-3zM698 238h6v4h-6zM707 238h3v4h-3zM760 238h2v4h-2zM765 238h3v4h-3zM789 238h6v4h-6zM824 238h3v4h-3zM850 238h3v4h-3zM870 238h3v4h-3zM696 242h2v4h-2zM716 242h3v4h-3zM765 242h3v4h-3zM847 242h3v4h-3zM867 242h3v4h-3zM687 246h3v4h-3zM696 246h2v4h-2zM701 246h3v4h-3zM707 246h3v4h-3zM783 246h3v4h-3zM800 246h3v4h-3zM827 246h2v4h-2zM864 246h3v4h-3zM870 246h3v4h-3zM690 250h3v4h-3zM713 250h3v4h-3zM722 250h3v4h-3zM815 250h9v4h-9zM850 250h3v4h-3zM856 250h3v4h-3zM864 250h3v4h-3zM870 250h3v4h-3zM733 254h3v3h-3zM760 254h2v3h-2zM800 254h3v3h-3zM844 254h3v3h-3zM850 254h6v3h-6zM687 257h3v4h-3zM710 257h3v4h-3zM768 257h3v4h-3zM800 257h3v4h-3zM832 257h3v4h-3zM704 261h3v4h-3zM713 261h3v4h-3zM803 261h3v4h-3zM829 261h3v4h-3zM850 261h6v4h-6zM867 261h3v4h-3z"/>
<path fill="#0050e0" d="M757 185h3v4h-3zM815 231h3v3h-3zM748 246h3v4h-3zM742 250h3v4h-3zM824 254h3v3h-3z"/>
<path fill="#00c0f0" d="M762 185h3v4h-3zM783 185h3v4h-3zM757 189h3v3h-3zM725 192h3v4h-3zM783 192h3v4h-3zM742 196h3v4h-3zM812 196h3v4h-3zM733 200h6v4h-6zM824 200h3v4h-3zM751 204h3v4h-3zM760 208h2v4h-2zM821 208h3v4h-3zM730 212h3v3h-3zM757 212h5v3h-5zM774 212h3v3h-3zM809 212h3v3h-3zM821 212h3v3h-3zM719 215h3v4h-3zM739 215h3v4h-3zM754 215h3v4h-3zM765 215h3v4h-3zM792 215h3v4h-3zM809 215h3v4h-3zM745 219h3v4h-3zM774 219h3v4h-3zM742 223h3v4h-3zM768 223h3v4h-3zM797 223h3v4h-3zM818 223h3v4h-3zM733 227h3v4h-3zM765 227h3v4h-3zM771 227h3v4h-3zM812 227h3v4h-3zM821 227h6v4h-6zM719 231h3v3h-3zM748 231h3v3h-3zM760 231h2v3h-2zM730 234h3v4h-3zM818 234h3v4h-3zM690 238h3v4h-3zM774 238h6v4h-6zM803 238h3v4h-3zM838 238h3v4h-3zM701 242h3v4h-3zM719 242h3v4h-3zM733 242h6v4h-6zM745 242h3v4h-3zM800 242h3v4h-3zM844 242h3v4h-3zM716 246h6v4h-6zM736 246h3v4h-3zM757 246h3v4h-3zM771 246h3v4h-3zM809 246h3v4h-3zM824 246h3v4h-3zM832 246h3v4h-3zM687 250h3v4h-3zM693 250h3v4h-3zM704 250h3v4h-3zM725 250h3v4h-3zM771 250h3v4h-3zM780 250h3v4h-3zM800 250h6v4h-6zM861 250h3v4h-3zM687 254h3v3h-3zM707 254h6v3h-6zM730 254h3v3h-3zM751 254h3v3h-3zM768 254h3v3h-3zM812 254h3v3h-3zM870 254h3v3h-3zM701 257h3v4h-3zM713 257h3v4h-3zM730 257h3v4h-3zM760 257h2v4h-2zM765 257h3v4h-3zM812 257h3v4h-3zM856 257h3v4h-3zM684 261h3v4h-3zM707 261h3v4h-3zM719 261h3v4h-3zM821 261h3v4h-3zM856 261h3v4h-3z"/>
<path fill="#0098f8" d="M780 185h3v4h-3zM800 192h3v4h-3zM751 219h3v4h-3zM795 219h2v4h-2zM795 234h2v4h-2zM748 238h3v4h-3zM803 246h3v4h-3zM693 254h3v3h-3zM728 254h2v3h-2zM786 254h3v3h-3zM736 257h3v4h-3zM780 257h3v4h-3z"/>
<path fill="#00a0f8" d="M797 185h3v4h-3zM745 215h3v4h-3zM771 215h3v4h-3zM797 227h3v4h-3zM806 227h3v4h-3zM722 238h3v4h-3zM809 238h3v4h-3zM742 242h3v4h-3zM818 246h3v4h-3zM719 254h3v3h-3z"/>
<path fill="#0078f0" d="M748 189h3v3h-3zM812 234h3v4h-3zM786 250h3v4h-3zM742 261h3v4h-3zM792 261h3v4h-3z"/>
<path fill="#00c0f8" d="M762 189h3v3h-3zM789 215h3v4h-3zM797 219h3v4h-3zM795 227h2v4h-2zM765 231h3v3h-3zM736 234h3v4h-3zM730 250h3v4h-3zM748 250h3v4h-3zM757 257h3v4h-3zM827 261h2v4h-2z"/>
<path fill="#0090f8" d="M760 192h2v4h-2zM789 192h3v4h-3zM745 196h3v4h-3zM780 196h3v4h-3zM739 257h3v4h-3zM771 257h3v4h-3zM722 261h3v4h-3zM728 261h2v4h-2zM739 261h3v4h-3zM745 261h3v4h-3zM797 261h3v4h-3z"/>
<path fill="#0028c8" d="M762 192h3v4h-3zM748 242h3v4h-3zM725 246h5v4h-5z"/>
<path fill="#0020c0" d="M768 192h3v4h-3zM812 223h3v4h-3z"/>
<path fill="#0060e8" d="M786 192h3v4h-3zM786 246h3v4h-3z"/>
<path fill="#00c8f0" d="M821 192h3v4h-3zM771 196h3v4h-3zM751 200h3v4h-3zM725 204h3v4h-3zM795 204h2v4h-2zM748 208h3v4h-3zM754 208h3v4h-3zM774 208h3v4h-3zM800 208h3v4h-3zM748 212h3v3h-3zM803 212h3v3h-3zM754 219h3v4h-3zM806 219h3v4h-3zM824 219h3v4h-3zM733 223h3v4h-3zM809 227h3v4h-3zM704 231h3v3h-3zM713 231h3v3h-3zM736 231h3v3h-3zM789 231h3v3h-3zM783 234h3v4h-3zM835 234h3v4h-3zM719 238h3v4h-3zM762 238h3v4h-3zM844 238h3v4h-3zM751 242h3v4h-3zM777 242h3v4h-3zM809 242h3v4h-3zM815 242h3v4h-3zM684 246h3v4h-3zM704 246h3v4h-3zM722 246h3v4h-3zM765 246h6v4h-6zM792 250h5v4h-5zM809 250h3v4h-3zM736 254h3v3h-3zM821 254h3v3h-3zM847 254h3v3h-3zM859 254h2v3h-2zM696 257h2v4h-2zM719 257h3v4h-3zM774 257h3v4h-3zM803 257h3v4h-3zM847 257h3v4h-3zM864 257h3v4h-3zM687 261h3v4h-3zM736 261h3v4h-3zM800 261h3v4h-3zM859 261h2v4h-2zM873 261h3v4h-3z"/>
<path fill="#000088" d="M762 196h3v4h-3zM739 250h3v4h-3z"/>
<path fill="#0088f8" d="M765 196h3v4h-3zM777 215h3v4h-3zM725 227h3v4h-3zM754 227h3v4h-3zM728 231h2v3h-2zM722 257h3v4h-3z"/>
<path fill="#0058e8" d="M760 200h2v4h-2zM728 234h2v4h-2zM797 246h3v4h-3z"/>
<path fill="#0068f0" d="M762 200h3v4h-3zM745 212h3v3h-3zM774 215h3v4h-3zM786 223h3v4h-3zM818 231h3v3h-3zM739 254h3v3h-3zM733 261h3v4h-3z"/>
<path fill="#00b0f8" d="M765 200h3v4h-3zM733 204h3v4h-3zM768 204h3v4h-3zM789 204h3v4h-3zM818 204h3v4h-3zM745 208h3v4h-3zM777 208h3v4h-3zM792 208h3v4h-3zM777 212h3v3h-3zM806 212h3v3h-3zM812 212h3v3h-3zM803 215h3v4h-3zM765 219h3v4h-3zM777 219h3v4h-3zM786 219h3v4h-3zM780 227h3v4h-3zM803 227h3v4h-3zM786 234h3v4h-3zM809 234h3v4h-3zM725 238h3v4h-3zM783 238h3v4h-3zM704 242h3v4h-3zM725 242h3v4h-3zM739 242h3v4h-3zM762 242h3v4h-3zM789 242h3v4h-3zM739 246h3v4h-3zM745 246h3v4h-3zM684 250h3v4h-3zM733 250h3v4h-3zM745 250h3v4h-3zM751 250h3v4h-3zM774 250h6v4h-6zM690 254h3v3h-3zM701 254h6v3h-6zM713 254h3v3h-3zM742 254h3v3h-3zM684 257h3v4h-3zM704 257h6v4h-6zM728 257h2v4h-2zM762 257h3v4h-3zM690 261h3v4h-3zM696 261h2v4h-2zM701 261h3v4h-3zM754 261h3v4h-3z"/>
<path fill="#0080f0" d="M722 204h3v4h-3zM742 204h3v4h-3zM739 227h3v4h-3zM757 234h3v4h-3zM815 234h3v4h-3zM728 238h2v4h-2zM736 238h3v4h-3zM745 257h3v4h-3zM751 261h3v4h-3z"/>
<path fill="#0060f0" d="M757 204h3v4h-3zM812 231h3v3h-3zM815 238h3v4h-3zM777 254h3v3h-3z"/>
<path fill="#000898" d="M797 208h3v4h-3zM751 257h3v4h-3z"/>
<path fill="#0048e0" d="M719 212h3v3h-3zM771 238h3v4h-3z"/>
<path fill="#0038d0" d="M789 223h3v4h-3z"/>
<path fill="#0080f8" d="M809 231h3v3h-3z"/>
<path fill="#0048d8" d="M829 231h3v3h-3z"/>
<path fill="#0018b8" d="M795 238h2v4h-2zM728 242h2v4h-2z"/>
<path fill="#000890" d="M783 242h3v4h-3z"/>
<path fill="#000080" d="M748 257h3v4h-3z"/>
<path fill="#0040d8" d="M821 257h3v4h-3z"/>
<rect x="679.5" y="35.5" width="198" height="231" fill="none" stroke="#000"/>
<line x1="705.5" y1="35.5" x2="705.5" y2="32.0" stroke="#000" stroke-width="1"/>
<line x1="705.5" y1="266.5" x2="705.5" y2="269.5" stroke="#000" stroke-width="1"/>
<line x1="778.5" y1="35.5" x2="778.5" y2="32.0" stroke="#000" stroke-width="1"/>
<line x1="778.5" y1="266.5" x2="778.5" y2="269.5" stroke="#000" stroke-width="1"/>
<line x1="851.5" y1="35.5" x2="851.5" y2="32.0" stroke="#000" stroke-width="1"/>
<line x1="851.5" y1="266.5" x2="851.5" y2="269.5" stroke="#000" stroke-width="1"/>
<line x1="679.5" y1="54.5" x2="676.5" y2="54.5" stroke="#000" stroke-width="1"/>
<line x1="877.5" y1="54.5" x2="880.5" y2="54.5" stroke="#000" stroke-width="1"/>
<line x1="679.5" y1="93.5" x2="676.5" y2="93.5" stroke="#000" stroke-width="1"/>
<line x1="877.5" y1="93.5" x2="880.5" y2="93.5" stroke="#000" stroke-width="1"/>
<line x1="679.5" y1="131.5" x2="676.5" y2="131.5" stroke="#000" stroke-width="1"/>
<line x1="877.5" y1="131.5" x2="880.5" y2="131.5" stroke="#000" stroke-width="1"/>
<line x1="679.5" y1="170.5" x2="676.5" y2="170.5" stroke="#000" stroke-width="1"/>
<line x1="877.5" y1="170.5" x2="880.5" y2="170.5" stroke="#000" stroke-width="1"/>
<line x1="679.5" y1="208.5" x2="676.5" y2="208.5" stroke="#000" stroke-width="1"/>
<line x1="877.5" y1="208.5" x2="880.5" y2="208.5" stroke="#000" stroke-width="1"/>
<line x1="679.5" y1="247.5" x2="676.5" y2="247.5" stroke="#000" stroke-width="1"/>
<line x1="877.5" y1="247.5" x2="880.5" y2="247.5" stroke="#000" stroke-width="1"/>
</g>
<text x="705.8" y="283.8" font-size="12" text-anchor="middle" >115</text>
<text x="778.8" y="283.8" font-size="12" text-anchor="middle" >120</text>
<text x="851.8" y="283.8" font-size="12" text-anchor="middle" >125</text>
<text x="673.5" y="58.1" font-size="12" text-anchor="end" >-36</text>
<text x="673.5" y="96.69999999999999" font-size="12" text-anchor="end" >-38</text>
<text x="673.5" y="135.29999999999998" font-size="12" text-anchor="end" >-40</text>
<text x="673.5" y="173.9" font-size="12" text-anchor="end" >-42</text>
<text x="673.5" y="212.5" font-size="12" text-anchor="end" >-44</text>
<text x="673.5" y="251.1" font-size="12" text-anchor="end" >-46</text>
<circle cx="778.5" cy="151.0" r="5" fill="none" stroke="#000" stroke-width="1"/>
<path d="M710.4 36.0 L716.0 38.0 L719.0 39.5 L721.5 41.5 L726.0 42.3 L730.0 43.0 L733.0 42.5 L735.6 41.3 L738.0 42.0 L742.0 43.0 L750.0 43.0 L753.0 41.5 L757.6 39.0 L762.0 36.0" fill="none" stroke="#000" stroke-width="1" stroke-linejoin="round" />
<path d="M729.0 36.5 L732.0 38.0 L735.0 37.0 L738.0 38.5 L741.0 37.0 L745.0 38.0 L748.0 36.5" fill="none" stroke="#000" stroke-width="1" stroke-linejoin="round" />
<g shape-rendering="crispEdges">
<path fill="#68f000" d="M681 326h6v4h-6zM736 345h3v4h-3zM815 368h3v4h-3zM684 376h3v3h-3zM800 418h3v3h-3zM722 456h3v4h-3zM742 467h3v4h-3zM786 467h3v4h-3zM771 482h3v4h-3zM690 494h3v4h-3zM690 498h3v4h-3zM725 509h3v4h-3zM716 513h3v4h-3zM725 517h3v4h-3zM719 528h3v4h-3zM771 528h6v4h-6zM867 528h3v4h-3zM774 540h3v4h-3zM710 544h3v3h-3z"/>
<path fill="#60ec00" d="M687 326h3v4h-3zM795 345h2v4h-2zM803 349h3v4h-3zM806 372h3v4h-3zM754 391h3v4h-3zM716 399h3v3h-3zM745 399h3v3h-3zM713 402h3v4h-3zM795 429h2v4h-2zM716 460h3v3h-3zM745 471h3v4h-3zM792 471h3v4h-3zM768 475h3v4h-3zM768 479h3v3h-3zM777 486h3v4h-3zM690 490h3v4h-3zM707 524h3v4h-3zM716 532h3v4h-3zM861 532h3v4h-3zM861 540h3v4h-3z"/>
<path fill="#4cec00" d="M690 326h3v4h-3zM739 349h3v4h-3zM745 349h3v4h-3zM792 349h3v4h-3zM707 372h3v4h-3zM681 387h3v4h-3zM687 391h3v4h-3zM742 402h3v4h-3zM687 414h3v4h-3zM716 414h3v4h-3zM789 467h3v4h-3zM783 486h3v4h-3zM681 517h3v4h-3zM713 536h3v4h-3zM707 540h6v4h-6zM710 547h3v4h-3z"/>
<path fill="#34e800" d="M693 326h3v4h-3zM687 334h3v3h-3zM728 349h2v4h-2zM760 387h2v4h-2zM687 410h3v4h-3zM739 418h3v3h-3zM742 421h3v4h-3zM765 475h3v4h-3zM693 490h3v4h-3zM693 494h3v4h-3zM707 521h3v3h-3zM716 536h3v4h-3zM716 540h3v4h-3zM859 540h2v4h-2z"/>
<path fill="#18e000" d="M696 326h2v4h-2zM757 326h3v4h-3zM739 330h3v4h-3zM789 341h3v4h-3zM803 345h3v4h-3zM751 349h3v4h-3zM707 364h3v4h-3zM710 368h3v4h-3zM681 376h3v3h-3zM684 399h3v3h-3zM687 406h3v4h-3zM829 406h3v4h-3zM835 406h3v4h-3zM827 418h2v3h-2zM835 421h3v4h-3zM829 425h3v4h-3zM838 425h3v4h-3zM792 429h3v4h-3zM838 429h3v4h-3zM800 433h3v4h-3zM792 437h3v3h-3zM844 440h3v4h-3zM736 456h3v4h-3zM739 460h3v3h-3zM774 463h3v4h-3zM786 463h3v4h-3zM768 467h3v4h-3zM681 475h3v4h-3zM751 475h3v4h-3zM736 479h3v3h-3zM762 479h3v3h-3zM696 482h2v4h-2zM818 482h3v4h-3zM824 482h3v4h-3zM815 486h3v4h-3zM696 490h2v4h-2zM824 490h3v4h-3zM774 498h6v4h-6zM693 505h3v4h-3zM730 505h3v4h-3zM728 517h2v4h-2zM704 524h3v4h-3zM873 528h3v4h-3zM786 532h3v4h-3zM803 532h3v4h-3zM722 536h3v4h-3zM725 540h3v4h-3zM725 544h3v3h-3zM777 544h3v3h-3z"/>
<path fill="#00dc00" d="M698 326h3v4h-3zM736 326h3v4h-3zM847 326h3v4h-3zM698 330h3v4h-3zM847 330h3v4h-3zM733 334h3v3h-3zM762 334h3v3h-3zM838 334h3v3h-3zM847 334h3v3h-3zM696 337h2v4h-2zM762 337h3v4h-3zM786 337h11v4h-11zM841 337h9v4h-9zM690 341h6v4h-6zM765 341h21v4h-21zM800 341h3v4h-3zM844 341h6v4h-6zM777 345h9v4h-9zM806 345h3v4h-3zM777 349h9v4h-9zM809 349h3v4h-3zM696 353h2v4h-2zM728 353h2v4h-2zM757 353h32v4h-32zM812 353h3v4h-3zM693 357h3v3h-3zM786 357h3v3h-3zM704 360h3v4h-3zM710 364h9v4h-9zM795 364h2v4h-2zM716 368h3v4h-3zM716 372h3v4h-3zM716 376h3v3h-3zM713 379h6v4h-6zM713 383h12v4h-12zM757 383h3v4h-3zM762 383h3v4h-3zM707 387h6v4h-6zM725 387h17v4h-17zM748 387h3v4h-3zM765 387h3v4h-3zM698 391h3v4h-3zM710 391h3v4h-3zM728 391h17v4h-17zM693 395h3v4h-3zM728 395h14v4h-14zM765 395h3v4h-3zM728 399h2v3h-2zM829 399h12v3h-12zM762 402h3v4h-3zM827 402h2v4h-2zM838 402h3v4h-3zM725 406h3v4h-3zM824 406h3v4h-3zM690 410h3v4h-3zM809 410h3v4h-3zM841 410h3v4h-3zM736 414h3v4h-3zM760 414h2v4h-2zM818 414h3v4h-3zM841 414h3v4h-3zM713 418h3v3h-3zM736 418h3v3h-3zM809 418h3v3h-3zM821 418h3v3h-3zM844 418h3v3h-3zM736 421h3v4h-3zM757 421h3v4h-3zM824 421h3v4h-3zM690 425h3v4h-3zM757 425h3v4h-3zM792 425h3v4h-3zM806 425h3v4h-3zM824 425h3v4h-3zM742 429h18v4h-18zM824 429h3v4h-3zM687 433h3v4h-3zM751 433h9v4h-9zM789 433h3v4h-3zM824 433h3v4h-3zM684 437h3v3h-3zM777 437h6v3h-6zM789 437h3v3h-3zM827 437h14v3h-14zM847 437h3v3h-3zM681 440h6v4h-6zM736 440h3v4h-3zM792 440h3v4h-3zM681 444h3v4h-3zM730 444h3v4h-3zM736 444h6v4h-6zM728 448h2v4h-2zM739 448h3v4h-3zM710 452h3v4h-3zM739 452h3v4h-3zM742 460h3v3h-3zM780 460h3v3h-3zM745 463h3v4h-3zM771 463h3v4h-3zM789 463h3v4h-3zM748 467h3v4h-3zM765 467h3v4h-3zM795 467h2v4h-2zM824 467h5v4h-5zM681 471h9v4h-9zM751 471h3v4h-3zM762 471h3v4h-3zM821 471h3v4h-3zM827 471h2v4h-2zM693 475h8v4h-8zM754 475h3v4h-3zM760 475h2v4h-2zM800 475h3v4h-3zM818 475h3v4h-3zM827 475h2v4h-2zM701 479h3v3h-3zM733 479h3v3h-3zM754 479h8v3h-8zM815 479h3v3h-3zM841 479h3v3h-3zM850 479h3v3h-3zM701 482h3v4h-3zM751 482h3v4h-3zM760 482h2v4h-2zM800 482h6v4h-6zM809 482h6v4h-6zM701 486h3v4h-3zM733 486h3v4h-3zM745 486h3v4h-3zM762 486h3v4h-3zM795 486h5v4h-5zM806 486h6v4h-6zM829 486h3v4h-3zM853 486h3v4h-3zM701 490h3v4h-3zM733 490h3v4h-3zM745 490h3v4h-3zM812 490h3v4h-3zM838 490h3v4h-3zM853 490h3v4h-3zM698 494h3v4h-3zM733 494h3v4h-3zM742 494h3v4h-3zM765 494h3v4h-3zM818 494h3v4h-3zM827 494h2v4h-2zM698 498h3v4h-3zM730 498h3v4h-3zM739 498h3v4h-3zM768 498h3v4h-3zM844 498h6v4h-6zM870 498h6v4h-6zM696 502h2v3h-2zM736 502h3v3h-3zM768 502h3v3h-3zM780 502h3v3h-3zM870 502h3v3h-3zM719 505h3v4h-3zM733 505h3v4h-3zM768 505h12v4h-12zM870 505h6v4h-6zM713 509h3v4h-3zM771 509h9v4h-9zM693 513h3v4h-3zM707 513h3v4h-3zM730 513h3v4h-3zM771 513h6v4h-6zM704 517h3v4h-3zM768 517h3v4h-3zM728 521h2v3h-2zM768 521h3v3h-3zM777 521h3v3h-3zM861 524h3v4h-3zM780 528h3v4h-3zM786 528h3v4h-3zM800 528h3v4h-3zM859 528h2v4h-2zM728 536h2v4h-2zM783 536h3v4h-3zM856 536h3v4h-3zM780 540h9v4h-9zM797 540h3v4h-3zM853 540h3v4h-3zM780 544h15v3h-15zM847 544h3v3h-3zM687 547h3v4h-3zM730 547h3v4h-3zM768 547h3v4h-3zM780 547h15v4h-15zM844 547h3v4h-3zM873 547h3v4h-3zM710 551h6v4h-6zM771 551h9v4h-9zM783 551h12v4h-12zM841 551h3v4h-3zM870 551h3v4h-3z"/>
<path fill="#00d804" d="M701 326h3v4h-3zM733 326h3v4h-3zM762 326h3v4h-3zM832 326h3v4h-3zM733 330h3v4h-3zM698 334h3v3h-3zM730 337h3v4h-3zM768 337h3v4h-3zM783 337h3v4h-3zM797 337h3v4h-3zM850 337h3v4h-3zM687 341h3v4h-3zM719 341h3v4h-3zM841 341h3v4h-3zM850 341h3v4h-3zM693 345h5v4h-5zM844 345h3v4h-3zM850 345h3v4h-3zM693 349h5v4h-5zM693 353h3v4h-3zM698 353h3v4h-3zM701 357h3v3h-3zM719 357h6v3h-6zM762 357h6v3h-6zM783 357h3v3h-3zM815 357h3v3h-3zM707 360h3v4h-3zM713 360h9v4h-9zM719 364h3v4h-3zM818 364h3v4h-3zM719 368h3v4h-3zM719 372h3v4h-3zM719 376h3v3h-3zM821 376h3v3h-3zM722 379h3v4h-3zM809 379h3v4h-3zM821 379h3v4h-3zM728 383h8v4h-8zM754 383h3v4h-3zM765 383h3v4h-3zM745 387h3v4h-3zM701 391h9v4h-9zM707 395h3v4h-3zM829 395h12v4h-12zM690 399h3v3h-3zM730 399h6v3h-6zM690 402h3v4h-3zM728 402h2v4h-2zM736 402h3v4h-3zM841 402h3v4h-3zM690 406h3v4h-3zM736 406h3v4h-3zM821 406h3v4h-3zM725 410h3v4h-3zM736 410h3v4h-3zM800 410h3v4h-3zM812 410h3v4h-3zM710 414h3v4h-3zM812 414h6v4h-6zM722 418h3v3h-3zM760 418h2v3h-2zM795 418h2v3h-2zM818 418h3v3h-3zM760 421h2v4h-2zM821 421h3v4h-3zM760 425h2v4h-2zM821 425h3v4h-3zM690 429h3v4h-3zM736 429h3v4h-3zM789 429h3v4h-3zM736 433h12v4h-12zM760 433h2v4h-2zM774 433h3v4h-3zM783 433h6v4h-6zM736 437h18v3h-18zM771 437h6v3h-6zM783 437h6v3h-6zM687 440h3v4h-3zM742 440h3v4h-3zM774 440h3v4h-3zM783 440h9v4h-9zM795 440h2v4h-2zM824 440h11v4h-11zM687 444h3v4h-3zM742 444h3v4h-3zM777 444h6v4h-6zM684 448h3v4h-3zM742 448h3v4h-3zM681 452h6v4h-6zM707 452h3v4h-3zM742 452h3v4h-3zM681 456h3v4h-3zM707 456h3v4h-3zM742 456h3v4h-3zM707 460h3v3h-3zM774 460h3v3h-3zM783 460h3v3h-3zM827 460h2v3h-2zM768 463h3v4h-3zM829 463h3v4h-3zM713 467h3v4h-3zM821 467h3v4h-3zM829 467h3v4h-3zM693 471h5v4h-5zM760 471h2v4h-2zM818 471h3v4h-3zM829 471h3v4h-3zM701 475h3v4h-3zM728 475h2v4h-2zM829 475h3v4h-3zM803 479h3v3h-3zM812 479h3v3h-3zM829 479h3v3h-3zM754 482h6v4h-6zM838 482h3v4h-3zM853 482h3v4h-3zM704 486h3v4h-3zM760 486h2v4h-2zM800 486h6v4h-6zM704 490h3v4h-3zM748 490h3v4h-3zM762 490h3v4h-3zM789 490h3v4h-3zM809 490h3v4h-3zM704 494h3v4h-3zM730 494h3v4h-3zM815 494h3v4h-3zM870 494h3v4h-3zM701 498h3v4h-3zM765 498h3v4h-3zM783 498h3v4h-3zM850 498h3v4h-3zM867 498h3v4h-3zM698 502h3v3h-3zM739 502h3v3h-3zM765 502h3v3h-3zM696 505h2v4h-2zM765 505h3v4h-3zM707 509h3v4h-3zM762 509h6v4h-6zM780 509h3v4h-3zM867 509h6v4h-6zM704 513h3v4h-3zM762 513h6v4h-6zM777 513h3v4h-3zM690 517h3v4h-3zM765 517h3v4h-3zM777 517h3v4h-3zM765 521h3v3h-3zM728 524h2v4h-2zM728 528h2v4h-2zM783 528h3v4h-3zM806 532h3v4h-3zM806 536h3v4h-3zM795 544h2v3h-2zM733 547h3v4h-3zM795 547h5v4h-5zM841 547h3v4h-3zM797 551h12v4h-12zM873 551h3v4h-3z"/>
<path fill="#00d40c" d="M704 326h6v4h-6zM730 326h3v4h-3zM765 326h3v4h-3zM704 330h3v4h-3zM730 330h3v4h-3zM832 330h3v4h-3zM701 334h3v3h-3zM768 334h6v3h-6zM780 334h6v3h-6zM795 334h2v3h-2zM835 334h3v3h-3zM853 334h3v3h-3zM701 337h3v4h-3zM722 337h3v4h-3zM800 337h3v4h-3zM853 337h3v4h-3zM681 341h3v4h-3zM701 341h3v4h-3zM806 341h3v4h-3zM856 341h3v4h-3zM701 345h3v4h-3zM716 345h3v4h-3zM812 345h3v4h-3zM856 345h3v4h-3zM690 349h3v4h-3zM701 349h3v4h-3zM841 349h3v4h-3zM853 349h3v4h-3zM690 353h3v4h-3zM713 353h3v4h-3zM733 353h3v4h-3zM815 353h3v4h-3zM844 353h9v4h-9zM690 357h3v3h-3zM704 357h3v3h-3zM710 357h3v3h-3zM762 360h6v4h-6zM780 360h3v4h-3zM818 360h3v4h-3zM687 364h3v4h-3zM722 364h3v4h-3zM789 364h3v4h-3zM681 372h3v4h-3zM725 376h3v3h-3zM730 379h3v4h-3zM757 379h3v4h-3zM806 379h3v4h-3zM824 379h3v4h-3zM739 383h6v4h-6zM748 383h6v4h-6zM815 383h3v4h-3zM824 383h3v4h-3zM827 387h11v4h-11zM827 391h2v4h-2zM838 391h3v4h-3zM698 395h9v4h-9zM768 395h3v4h-3zM827 395h2v4h-2zM841 395h3v4h-3zM693 399h3v3h-3zM844 399h3v3h-3zM693 402h3v4h-3zM821 402h3v4h-3zM844 402h3v4h-3zM693 406h3v4h-3zM728 406h2v4h-2zM733 406h3v4h-3zM803 406h3v4h-3zM812 406h6v4h-6zM844 406h3v4h-3zM693 410h3v4h-3zM762 410h3v4h-3zM797 410h3v4h-3zM844 410h3v4h-3zM762 414h3v4h-3zM795 414h2v4h-2zM733 418h3v3h-3zM762 418h3v3h-3zM733 421h3v4h-3zM762 421h3v4h-3zM789 421h3v4h-3zM812 421h6v4h-6zM847 421h3v4h-3zM693 425h3v4h-3zM765 425h3v4h-3zM774 425h15v4h-15zM809 425h3v4h-3zM818 425h3v4h-3zM693 429h3v4h-3zM768 429h6v4h-6zM806 429h3v4h-3zM818 429h3v4h-3zM818 433h3v4h-3zM760 437h8v3h-8zM800 437h3v3h-3zM818 437h3v3h-3zM751 440h3v4h-3zM768 440h3v4h-3zM847 440h3v4h-3zM771 444h3v4h-3zM789 444h6v4h-6zM821 444h3v4h-3zM832 444h9v4h-9zM690 448h3v4h-3zM722 448h3v4h-3zM745 448h3v4h-3zM774 448h3v4h-3zM783 448h6v4h-6zM824 448h11v4h-11zM690 452h3v4h-3zM704 452h3v4h-3zM745 452h3v4h-3zM774 452h12v4h-12zM824 452h8v4h-8zM690 456h3v4h-3zM704 456h3v4h-3zM745 456h3v4h-3zM774 456h12v4h-12zM829 456h3v4h-3zM690 460h3v3h-3zM704 460h3v3h-3zM771 460h3v3h-3zM821 460h3v3h-3zM832 460h3v3h-3zM690 463h6v4h-6zM704 463h3v4h-3zM748 463h3v4h-3zM765 463h3v4h-3zM832 463h3v4h-3zM696 467h8v4h-8zM760 467h2v4h-2zM797 467h3v4h-3zM818 467h3v4h-3zM710 471h3v4h-3zM815 471h3v4h-3zM707 475h3v4h-3zM812 475h3v4h-3zM832 475h3v4h-3zM844 475h6v4h-6zM832 479h3v3h-3zM838 479h3v3h-3zM835 482h3v4h-3zM870 486h6v4h-6zM707 490h3v4h-3zM751 490h11v4h-11zM803 490h3v4h-3zM835 490h3v4h-3zM867 490h3v4h-3zM728 494h2v4h-2zM751 494h3v4h-3zM760 494h2v4h-2zM812 494h3v4h-3zM832 494h6v4h-6zM864 494h3v4h-3zM710 498h3v4h-3zM748 498h3v4h-3zM818 498h3v4h-3zM829 498h3v4h-3zM853 498h3v4h-3zM861 498h3v4h-3zM713 502h6v3h-6zM722 502h3v3h-3zM745 502h3v3h-3zM760 502h2v3h-2zM821 502h6v3h-6zM859 502h5v3h-5zM739 505h3v4h-3zM757 505h5v4h-5zM821 505h3v4h-3zM859 505h2v4h-2zM698 509h3v4h-3zM757 509h3v4h-3zM783 509h3v4h-3zM818 509h3v4h-3zM861 509h3v4h-3zM698 513h3v4h-3zM757 513h3v4h-3zM861 513h6v4h-6zM693 517h3v4h-3zM698 517h3v4h-3zM760 517h2v4h-2zM780 517h3v4h-3zM864 517h9v4h-9zM730 521h3v3h-3zM762 521h3v3h-3zM780 521h3v3h-3zM861 521h3v3h-3zM870 521h3v3h-3zM783 524h3v4h-3zM856 528h3v4h-3zM765 532h3v4h-3zM730 536h3v4h-3zM765 536h3v4h-3zM853 536h3v4h-3zM765 540h3v4h-3zM806 540h3v4h-3zM847 540h3v4h-3zM765 544h3v3h-3zM806 544h3v3h-3zM841 544h3v3h-3zM765 547h3v4h-3zM838 547h3v4h-3zM739 551h3v4h-3zM762 551h6v4h-6zM812 551h3v4h-3z"/>
<path fill="#00d410" d="M710 326h6v4h-6zM827 326h2v4h-2zM707 330h6v4h-6zM768 330h3v4h-3zM786 330h9v4h-9zM704 334h3v3h-3zM728 334h2v3h-2zM774 334h6v3h-6zM797 334h3v3h-3zM704 337h3v4h-3zM803 337h3v4h-3zM856 337h3v4h-3zM704 341h3v4h-3zM809 341h6v4h-6zM838 341h3v4h-3zM687 345h3v4h-3zM704 345h3v4h-3zM815 345h3v4h-3zM704 349h12v4h-12zM815 349h3v4h-3zM856 349h3v4h-3zM704 353h3v4h-3zM710 353h3v4h-3zM751 353h3v4h-3zM841 353h3v4h-3zM853 353h3v4h-3zM707 357h3v3h-3zM728 357h2v3h-2zM757 357h3v3h-3zM844 357h3v3h-3zM725 360h3v4h-3zM760 360h2v4h-2zM777 360h3v4h-3zM786 364h3v4h-3zM684 368h3v4h-3zM821 368h3v4h-3zM725 372h3v4h-3zM728 376h2v3h-2zM760 376h5v3h-5zM765 379h3v4h-3zM745 383h3v4h-3zM768 383h3v4h-3zM812 383h3v4h-3zM827 383h2v4h-2zM824 387h3v4h-3zM838 387h3v4h-3zM771 391h3v4h-3zM824 391h3v4h-3zM841 391h3v4h-3zM844 395h3v4h-3zM696 399h2v3h-2zM704 399h3v3h-3zM824 399h3v3h-3zM765 402h3v4h-3zM730 406h3v4h-3zM800 406h3v4h-3zM707 410h3v4h-3zM728 410h2v4h-2zM733 410h3v4h-3zM733 414h3v4h-3zM725 418h3v3h-3zM792 418h3v3h-3zM716 421h6v4h-6zM765 421h3v4h-3zM783 421h6v4h-6zM768 425h6v4h-6zM812 425h6v4h-6zM815 429h3v4h-3zM693 433h3v4h-3zM693 437h3v3h-3zM730 437h3v3h-3zM693 440h3v4h-3zM765 440h3v4h-3zM797 440h3v4h-3zM818 440h3v4h-3zM693 444h3v4h-3zM748 444h3v4h-3zM693 448h3v4h-3zM707 448h6v4h-6zM771 448h3v4h-3zM821 448h3v4h-3zM835 448h3v4h-3zM693 452h3v4h-3zM786 452h3v4h-3zM821 452h3v4h-3zM832 452h3v4h-3zM693 456h3v4h-3zM786 456h3v4h-3zM821 456h3v4h-3zM832 456h3v4h-3zM693 460h3v3h-3zM701 460h3v3h-3zM768 460h3v3h-3zM789 460h3v3h-3zM696 463h8v4h-8zM818 463h3v4h-3zM835 463h3v4h-3zM873 463h3v4h-3zM754 467h6v4h-6zM835 467h3v4h-3zM873 467h3v4h-3zM713 471h9v4h-9zM835 471h3v4h-3zM873 471h3v4h-3zM725 475h3v4h-3zM806 475h6v4h-6zM835 475h3v4h-3zM841 475h3v4h-3zM850 475h3v4h-3zM873 475h3v4h-3zM707 479h3v3h-3zM728 479h2v3h-2zM835 479h3v3h-3zM853 479h3v3h-3zM873 479h3v3h-3zM707 482h3v4h-3zM870 482h6v4h-6zM707 486h3v4h-3zM856 486h3v4h-3zM867 486h3v4h-3zM728 490h2v4h-2zM795 490h8v4h-8zM856 490h3v4h-3zM864 490h3v4h-3zM710 494h3v4h-3zM754 494h6v4h-6zM789 494h3v4h-3zM856 494h8v4h-8zM713 498h3v4h-3zM725 498h3v4h-3zM751 498h3v4h-3zM760 498h2v4h-2zM786 498h3v4h-3zM856 498h5v4h-5zM719 502h3v3h-3zM748 502h3v3h-3zM757 502h3v3h-3zM818 502h3v3h-3zM827 502h2v3h-2zM847 502h12v3h-12zM742 505h6v4h-6zM754 505h3v4h-3zM818 505h3v4h-3zM824 505h3v4h-3zM856 505h3v4h-3zM736 509h3v4h-3zM754 509h3v4h-3zM815 509h3v4h-3zM821 509h3v4h-3zM859 509h2v4h-2zM733 513h3v4h-3zM783 513h3v4h-3zM859 513h2v4h-2zM696 517h2v4h-2zM783 517h3v4h-3zM861 517h3v4h-3zM873 517h3v4h-3zM698 521h3v3h-3zM859 521h2v3h-2zM873 521h3v3h-3zM730 524h3v4h-3zM786 524h3v4h-3zM809 532h3v4h-3zM809 536h3v4h-3zM809 540h3v4h-3zM844 540h3v4h-3zM733 544h3v3h-3zM809 544h3v3h-3zM838 544h3v3h-3zM812 547h3v4h-3zM760 551h2v4h-2zM835 551h3v4h-3z"/>
<path fill="#00d014" d="M716 326h3v4h-3zM728 326h2v4h-2zM783 326h14v4h-14zM824 326h3v4h-3zM853 326h3v4h-3zM713 330h6v4h-6zM728 330h2v4h-2zM771 330h12v4h-12zM797 330h3v4h-3zM829 330h3v4h-3zM710 334h6v3h-6zM725 334h3v3h-3zM800 334h3v3h-3zM856 334h3v3h-3zM707 337h6v4h-6zM719 337h3v4h-3zM806 337h9v4h-9zM859 337h2v4h-2zM707 341h9v4h-9zM815 341h3v4h-3zM859 341h2v4h-2zM710 345h3v4h-3zM861 345h3v4h-3zM859 349h5v4h-5zM739 353h3v4h-3zM856 353h5v4h-5zM818 357h3v3h-3zM841 357h3v3h-3zM850 357h6v3h-6zM771 360h6v4h-6zM841 360h6v4h-6zM762 364h6v4h-6zM780 364h3v4h-3zM821 364h3v4h-3zM795 368h2v4h-2zM762 372h3v4h-3zM824 372h3v4h-3zM765 376h3v3h-3zM754 379h3v4h-3zM768 379h3v4h-3zM827 379h2v4h-2zM771 383h3v4h-3zM809 383h3v4h-3zM832 383h9v4h-9zM818 387h3v4h-3zM841 387h3v4h-3zM774 391h3v4h-3zM844 391h3v4h-3zM771 395h3v4h-3zM847 395h3v4h-3zM698 399h6v3h-6zM768 399h3v3h-3zM821 399h3v3h-3zM847 399h3v3h-3zM696 402h2v4h-2zM704 402h3v4h-3zM806 402h6v4h-6zM818 402h3v4h-3zM847 402h3v4h-3zM696 406h2v4h-2zM765 406h3v4h-3zM795 406h5v4h-5zM847 406h3v4h-3zM696 410h2v4h-2zM730 410h3v4h-3zM792 410h3v4h-3zM847 410h3v4h-3zM696 414h2v4h-2zM707 414h3v4h-3zM728 414h5v4h-5zM792 414h3v4h-3zM847 414h3v4h-3zM696 418h2v3h-2zM728 418h5v3h-5zM765 418h3v3h-3zM786 418h6v3h-6zM696 421h2v4h-2zM713 421h3v4h-3zM722 421h3v4h-3zM730 421h3v4h-3zM768 421h12v4h-12zM696 425h2v4h-2zM696 429h2v4h-2zM809 429h6v4h-6zM806 433h9v4h-9zM850 433h3v4h-3zM696 437h2v3h-2zM815 437h3v3h-3zM850 437h3v3h-3zM696 440h2v4h-2zM757 440h3v4h-3zM762 440h3v4h-3zM815 440h3v4h-3zM696 444h2v4h-2zM751 444h3v4h-3zM795 444h2v4h-2zM818 444h3v4h-3zM696 448h8v4h-8zM716 448h6v4h-6zM748 448h3v4h-3zM818 448h3v4h-3zM838 448h9v4h-9zM698 452h3v4h-3zM748 452h3v4h-3zM789 452h3v4h-3zM835 452h6v4h-6zM698 456h3v4h-3zM748 456h3v4h-3zM789 456h3v4h-3zM818 456h3v4h-3zM835 456h3v4h-3zM873 456h3v4h-3zM698 460h3v3h-3zM818 460h3v3h-3zM835 460h3v3h-3zM856 460h11v3h-11zM870 460h3v3h-3zM754 463h3v4h-3zM762 463h3v4h-3zM838 463h3v4h-3zM853 463h20v4h-20zM815 467h3v4h-3zM838 467h3v4h-3zM853 467h20v4h-20zM803 471h3v4h-3zM812 471h3v4h-3zM838 471h3v4h-3zM853 471h20v4h-20zM710 475h3v4h-3zM853 475h20v4h-20zM856 479h3v3h-3zM864 479h9v3h-9zM728 482h2v4h-2zM856 482h14v4h-14zM728 486h2v4h-2zM859 486h8v4h-8zM710 490h3v4h-3zM859 490h2v4h-2zM713 494h3v4h-3zM725 494h3v4h-3zM809 494h3v4h-3zM716 498h9v4h-9zM754 498h3v4h-3zM815 498h3v4h-3zM832 498h6v4h-6zM754 502h3v3h-3zM786 502h3v3h-3zM829 502h3v3h-3zM844 502h3v3h-3zM748 505h6v4h-6zM786 505h3v4h-3zM815 505h3v4h-3zM850 505h6v4h-6zM739 509h3v4h-3zM751 509h3v4h-3zM786 509h3v4h-3zM812 509h3v4h-3zM853 509h3v4h-3zM754 513h3v4h-3zM786 513h3v4h-3zM812 513h9v4h-9zM856 513h3v4h-3zM733 517h3v4h-3zM757 517h3v4h-3zM856 517h3v4h-3zM760 521h2v3h-2zM856 521h3v3h-3zM792 524h5v4h-5zM856 524h3v4h-3zM806 528h3v4h-3zM698 540h3v4h-3zM841 540h3v4h-3zM812 544h3v3h-3zM835 544h3v3h-3zM684 547h3v4h-3zM736 547h3v4h-3zM815 547h3v4h-3zM742 551h3v4h-3zM757 551h3v4h-3zM815 551h3v4h-3zM832 551h3v4h-3z"/>
<path fill="#00d018" d="M719 326h3v4h-3zM725 326h3v4h-3zM771 326h3v4h-3zM780 326h3v4h-3zM797 326h3v4h-3zM719 330h3v4h-3zM725 330h3v4h-3zM800 330h3v4h-3zM716 334h3v3h-3zM722 334h3v3h-3zM803 334h3v3h-3zM713 337h6v4h-6zM815 337h3v4h-3zM835 337h3v4h-3zM861 341h3v4h-3zM684 345h3v4h-3zM838 345h3v4h-3zM864 345h3v4h-3zM687 349h3v4h-3zM864 349h3v4h-3zM748 353h3v4h-3zM818 353h3v4h-3zM856 357h3v3h-3zM838 360h3v4h-3zM847 360h3v4h-3zM762 368h3v4h-3zM803 379h3v4h-3zM829 379h9v4h-9zM806 383h3v4h-3zM774 387h3v4h-3zM844 387h3v4h-3zM873 387h3v4h-3zM821 391h3v4h-3zM847 391h3v4h-3zM873 391h3v4h-3zM774 395h3v4h-3zM873 395h3v4h-3zM873 399h3v3h-3zM698 402h6v4h-6zM797 402h9v4h-9zM812 402h6v4h-6zM704 406h3v4h-3zM792 406h3v4h-3zM765 410h3v4h-3zM765 414h3v4h-3zM789 414h3v4h-3zM780 418h6v3h-6zM725 421h5v4h-5zM728 425h2v4h-2zM850 429h3v4h-3zM696 433h2v4h-2zM803 437h3v3h-3zM812 437h3v3h-3zM728 440h2v4h-2zM760 440h2v4h-2zM850 440h3v4h-3zM698 444h3v4h-3zM725 444h3v4h-3zM850 444h3v4h-3zM768 448h3v4h-3zM792 448h3v4h-3zM847 448h3v4h-3zM818 452h3v4h-3zM841 452h6v4h-6zM768 456h3v4h-3zM838 456h3v4h-3zM853 456h8v4h-8zM751 460h3v3h-3zM765 460h3v3h-3zM792 460h3v3h-3zM838 460h3v3h-3zM853 460h3v3h-3zM867 460h3v3h-3zM757 463h5v4h-5zM800 467h3v4h-3zM850 467h3v4h-3zM806 471h3v4h-3zM841 471h12v4h-12zM859 479h5v3h-5zM716 494h3v4h-3zM815 502h3v3h-3zM812 505h3v4h-3zM827 505h2v4h-2zM742 509h9v4h-9zM809 509h3v4h-3zM824 509h3v4h-3zM736 513h3v4h-3zM821 513h3v4h-3zM786 517h3v4h-3zM786 521h3v3h-3zM698 524h3v4h-3zM812 536h3v4h-3zM847 536h3v4h-3zM812 540h3v4h-3zM762 544h3v3h-3zM815 544h3v3h-3zM832 547h3v4h-3zM754 551h3v4h-3z"/>
<path fill="#00cc18" d="M722 326h3v4h-3zM774 326h6v4h-6zM800 326h3v4h-3zM821 326h3v4h-3zM722 330h3v4h-3zM827 330h2v4h-2zM856 330h3v4h-3zM719 334h3v3h-3zM806 334h3v3h-3zM832 334h3v3h-3zM859 334h2v3h-2zM861 337h3v4h-3zM864 341h3v4h-3zM867 345h9v4h-9zM838 349h3v4h-3zM867 349h9v4h-9zM742 353h3v4h-3zM838 353h3v4h-3zM861 353h15v4h-15zM730 357h3v3h-3zM838 357h3v3h-3zM873 357h3v3h-3zM728 360h2v4h-2zM850 360h3v4h-3zM760 364h2v4h-2zM838 364h6v4h-6zM765 368h3v4h-3zM835 368h3v4h-3zM728 372h2v4h-2zM760 372h2v4h-2zM730 376h3v3h-3zM757 376h3v3h-3zM827 376h8v3h-8zM736 379h3v4h-3zM838 379h3v4h-3zM841 383h3v4h-3zM870 383h6v4h-6zM867 387h6v4h-6zM777 391h3v4h-3zM870 391h3v4h-3zM777 395h3v4h-3zM821 395h3v4h-3zM870 395h3v4h-3zM771 399h3v3h-3zM768 402h3v4h-3zM795 402h2v4h-2zM873 402h3v4h-3zM698 406h3v4h-3zM789 410h3v4h-3zM786 414h3v4h-3zM768 418h3v3h-3zM777 418h3v3h-3zM850 425h3v4h-3zM698 440h3v4h-3zM853 440h3v4h-3zM701 444h6v4h-6zM765 444h3v4h-3zM815 444h3v4h-3zM853 444h3v4h-3zM850 448h6v4h-6zM768 452h3v4h-3zM847 452h12v4h-12zM841 456h12v4h-12zM861 456h3v4h-3zM870 456h3v4h-3zM841 460h3v3h-3zM850 460h3v3h-3zM815 463h3v4h-3zM841 463h3v4h-3zM850 463h3v4h-3zM841 467h9v4h-9zM809 471h3v4h-3zM713 475h3v4h-3zM722 475h3v4h-3zM710 479h3v3h-3zM725 479h3v3h-3zM710 486h3v4h-3zM725 490h3v4h-3zM722 494h3v4h-3zM792 494h3v4h-3zM841 502h3v3h-3zM809 513h3v4h-3zM853 513h3v4h-3zM696 521h2v3h-2zM797 524h3v4h-3zM762 528h3v4h-3zM853 528h3v4h-3zM812 532h3v4h-3zM850 532h3v4h-3zM838 540h3v4h-3zM693 544h3v3h-3zM832 544h3v3h-3zM760 547h2v4h-2zM818 551h3v4h-3z"/>
<path fill="#10e000" d="M739 326h3v4h-3zM838 326h3v4h-3zM696 330h2v4h-2zM841 330h3v4h-3zM733 337h3v4h-3zM754 349h3v4h-3zM815 360h3v4h-3zM818 368h3v4h-3zM806 376h3v3h-3zM710 379h3v4h-3zM815 379h3v4h-3zM707 383h3v4h-3zM713 391h3v4h-3zM725 399h3v3h-3zM827 406h2v4h-2zM710 410h3v4h-3zM838 410h3v4h-3zM838 414h3v4h-3zM716 418h3v3h-3zM838 418h3v3h-3zM754 421h3v4h-3zM827 421h2v4h-2zM803 429h3v4h-3zM835 429h3v4h-3zM838 433h3v4h-3zM733 448h3v4h-3zM716 452h6v4h-6zM736 452h3v4h-3zM719 467h3v4h-3zM687 475h3v4h-3zM730 475h3v4h-3zM762 475h3v4h-3zM751 479h3v3h-3zM821 479h6v3h-6zM739 482h3v4h-3zM797 482h3v4h-3zM815 490h3v4h-3zM771 498h3v4h-3zM730 502h3v3h-3zM707 517h3v4h-3zM768 524h3v4h-3zM792 528h3v4h-3zM725 536h3v4h-3zM856 540h3v4h-3zM870 547h3v4h-3zM722 551h8v4h-8z"/>
<path fill="#20e400" d="M742 326h3v4h-3zM754 330h3v4h-3zM754 334h3v3h-3zM719 345h3v4h-3zM789 349h3v4h-3zM803 372h3v4h-3zM681 399h3v3h-3zM684 402h3v4h-3zM710 402h3v4h-3zM710 406h3v4h-3zM739 406h3v4h-3zM827 410h2v4h-2zM835 410h3v4h-3zM827 414h2v4h-2zM835 414h3v4h-3zM751 421h3v4h-3zM806 421h3v4h-3zM832 421h3v4h-3zM742 463h3v4h-3zM765 471h3v4h-3zM797 475h3v4h-3zM690 479h3v3h-3zM797 479h3v3h-3zM789 486h3v4h-3zM818 486h3v4h-3zM783 490h3v4h-3zM841 494h3v4h-3zM850 494h3v4h-3zM771 521h3v3h-3zM768 528h3v4h-3zM722 540h3v4h-3zM722 544h3v3h-3zM856 544h3v3h-3zM774 547h3v4h-3zM867 547h3v4h-3z"/>
<path fill="#28e400" d="M745 326h3v4h-3zM722 341h3v4h-3zM733 341h3v4h-3zM754 341h3v4h-3zM792 341h3v4h-3zM806 349h3v4h-3zM812 357h3v3h-3zM693 360h3v4h-3zM687 368h3v4h-3zM800 368h3v4h-3zM818 372h3v4h-3zM818 376h3v3h-3zM707 379h3v4h-3zM681 395h3v4h-3zM713 395h3v4h-3zM745 395h3v4h-3zM722 410h3v4h-3zM757 414h3v4h-3zM829 414h6v4h-6zM797 418h3v3h-3zM844 421h3v4h-3zM795 437h2v3h-2zM777 463h3v4h-3zM783 463h3v4h-3zM748 471h3v4h-3zM739 479h3v3h-3zM765 482h3v4h-3zM774 494h6v4h-6zM704 528h3v4h-3zM777 528h3v4h-3zM768 532h3v4h-3zM704 536h3v4h-3zM768 536h3v4h-3zM789 536h3v4h-3zM800 536h3v4h-3zM719 540h3v4h-3z"/>
<path fill="#2ce400" d="M748 326h6v4h-6zM693 330h3v4h-3zM745 330h9v4h-9zM690 334h3v3h-3zM751 334h3v3h-3zM795 341h2v4h-2zM733 345h3v4h-3zM736 349h3v4h-3zM795 360h2v4h-2zM797 364h3v4h-3zM704 383h3v4h-3zM713 414h3v4h-3zM754 418h3v3h-3zM841 421h3v4h-3zM780 463h3v4h-3zM745 467h3v4h-3zM771 490h3v4h-3zM693 498h3v4h-3zM777 540h3v4h-3zM719 544h3v3h-3zM853 547h3v4h-3zM864 547h3v4h-3z"/>
<path fill="#24e400" d="M754 326h3v4h-3zM742 330h3v4h-3zM754 337h3v4h-3zM754 345h3v4h-3zM789 345h3v4h-3zM719 349h3v4h-3zM722 353h6v4h-6zM792 357h3v3h-3zM701 360h3v4h-3zM710 372h3v4h-3zM762 387h3v4h-3zM684 395h3v4h-3zM722 395h3v4h-3zM742 399h3v3h-3zM762 399h3v3h-3zM829 410h6v4h-6zM800 414h3v4h-3zM829 418h6v3h-6zM687 425h3v4h-3zM684 429h3v4h-3zM792 433h3v4h-3zM792 467h3v4h-3zM748 479h3v3h-3zM693 482h3v4h-3zM795 482h2v4h-2zM821 486h3v4h-3zM693 502h3v3h-3zM690 513h3v4h-3zM719 536h3v4h-3zM716 547h3v4h-3zM850 547h3v4h-3zM704 551h3v4h-3zM847 551h3v4h-3zM861 551h3v4h-3z"/>
<path fill="#04dc00" d="M760 326h2v4h-2zM835 326h3v4h-3zM736 330h3v4h-3zM760 330h2v4h-2zM760 334h2v3h-2zM841 334h6v3h-6zM762 341h3v4h-3zM786 341h3v4h-3zM765 345h12v4h-12zM765 349h12v4h-12zM719 353h3v4h-3zM789 357h3v3h-3zM792 360h3v4h-3zM812 379h3v4h-3zM710 383h3v4h-3zM704 387h3v4h-3zM713 387h3v4h-3zM722 387h3v4h-3zM751 387h3v4h-3zM739 399h3v3h-3zM829 402h3v4h-3zM821 410h3v4h-3zM739 425h3v4h-3zM754 425h3v4h-3zM827 433h2v4h-2zM835 433h3v4h-3zM681 437h3v3h-3zM733 444h3v4h-3zM739 456h3v4h-3zM797 471h3v4h-3zM824 471h3v4h-3zM821 475h3v4h-3zM698 479h3v3h-3zM800 479h3v3h-3zM827 479h2v3h-2zM736 482h3v4h-3zM748 482h3v4h-3zM736 486h3v4h-3zM838 486h3v4h-3zM765 490h3v4h-3zM783 494h3v4h-3zM821 494h6v4h-6zM733 498h6v4h-6zM733 502h3v3h-3zM771 502h3v3h-3zM873 502h3v3h-3zM771 517h6v4h-6zM704 521h3v3h-3zM789 528h3v4h-3zM780 532h6v4h-6zM780 536h3v4h-3zM701 540h3v4h-3zM728 540h2v4h-2zM733 551h3v4h-3zM867 551h3v4h-3z"/>
<path fill="#00d010" d="M768 326h3v4h-3zM783 330h3v4h-3zM795 330h2v4h-2zM853 330h3v4h-3zM707 334h3v3h-3zM716 341h3v4h-3zM707 345h3v4h-3zM713 345h3v4h-3zM859 345h2v4h-2zM707 353h3v4h-3zM736 353h3v4h-3zM847 357h3v3h-3zM768 360h3v4h-3zM725 364h3v4h-3zM783 364h3v4h-3zM725 368h3v4h-3zM824 376h3v3h-3zM733 379h3v4h-3zM829 383h3v4h-3zM771 387h3v4h-3zM821 387h3v4h-3zM824 395h3v4h-3zM795 410h2v4h-2zM710 418h3v3h-3zM847 418h3v3h-3zM780 421h3v4h-3zM730 425h3v4h-3zM730 429h3v4h-3zM730 433h3v4h-3zM815 433h3v4h-3zM754 440h3v4h-3zM768 444h3v4h-3zM847 444h3v4h-3zM704 448h3v4h-3zM713 448h3v4h-3zM789 448h3v4h-3zM696 452h2v4h-2zM701 452h3v4h-3zM771 452h3v4h-3zM696 456h2v4h-2zM701 456h3v4h-3zM771 456h3v4h-3zM696 460h2v3h-2zM748 460h3v3h-3zM873 460h3v3h-3zM751 463h3v4h-3zM795 463h2v4h-2zM838 475h3v4h-3zM861 490h3v4h-3zM757 498h3v4h-3zM838 498h3v4h-3zM751 502h3v3h-3zM856 509h3v4h-3zM859 517h2v4h-2zM783 521h3v3h-3zM762 524h3v4h-3zM789 524h3v4h-3zM730 528h3v4h-3zM730 532h3v4h-3zM853 532h3v4h-3zM850 536h3v4h-3zM762 547h3v4h-3zM835 547h3v4h-3z"/>
<path fill="#00cc20" d="M803 326h3v4h-3zM859 326h2v4h-2zM806 330h3v4h-3zM815 330h3v4h-3zM821 334h3v3h-3zM864 334h12v3h-12zM870 337h6v4h-6zM687 353h3v4h-3zM687 357h3v3h-3zM835 360h3v4h-3zM859 360h2v4h-2zM867 360h3v4h-3zM728 364h2v4h-2zM824 364h3v4h-3zM832 364h3v4h-3zM850 364h3v4h-3zM870 364h6v4h-6zM728 368h2v4h-2zM768 368h3v4h-3zM780 368h3v4h-3zM789 368h3v4h-3zM827 368h5v4h-5zM844 368h3v4h-3zM873 368h3v4h-3zM841 372h3v4h-3zM870 372h6v4h-6zM841 376h3v3h-3zM861 376h12v3h-12zM844 379h3v4h-3zM856 379h5v4h-5zM777 383h3v4h-3zM803 383h3v4h-3zM847 383h12v4h-12zM806 387h3v4h-3zM853 387h6v4h-6zM780 391h3v4h-3zM853 391h11v4h-11zM818 395h3v4h-3zM853 395h3v4h-3zM867 395h3v4h-3zM783 399h6v3h-6zM795 399h5v3h-5zM803 399h9v3h-9zM815 399h3v3h-3zM774 402h15v4h-15zM870 402h3v4h-3zM783 406h3v4h-3zM850 406h3v4h-3zM870 406h3v4h-3zM783 410h3v4h-3zM850 410h3v4h-3zM701 414h6v4h-6zM771 414h9v4h-9zM850 414h3v4h-3zM707 418h3v3h-3zM873 418h3v3h-3zM710 421h3v4h-3zM873 421h3v4h-3zM725 425h3v4h-3zM853 425h3v4h-3zM698 429h3v4h-3zM698 433h3v4h-3zM856 433h3v4h-3zM856 437h3v3h-3zM701 440h3v4h-3zM803 440h3v4h-3zM809 440h3v4h-3zM754 444h3v4h-3zM795 448h2v4h-2zM859 448h2v4h-2zM873 448h3v4h-3zM751 452h3v4h-3zM815 452h3v4h-3zM861 452h12v4h-12zM765 456h3v4h-3zM815 456h3v4h-3zM757 460h5v3h-5zM795 460h2v3h-2zM803 467h3v4h-3zM722 490h3v4h-3zM812 502h3v3h-3zM835 502h6v3h-6zM789 505h3v4h-3zM809 505h3v4h-3zM789 509h3v4h-3zM806 509h3v4h-3zM789 513h3v4h-3zM806 513h3v4h-3zM824 513h3v4h-3zM789 517h3v4h-3zM812 517h3v4h-3zM821 517h3v4h-3zM693 521h3v3h-3zM762 532h3v4h-3zM815 532h3v4h-3zM762 536h3v4h-3zM841 536h3v4h-3zM733 540h3v4h-3zM818 540h3v4h-3zM829 540h6v4h-6zM821 544h3v3h-3zM827 544h2v3h-2zM821 547h3v4h-3zM827 547h2v4h-2zM821 551h3v4h-3zM827 551h2v4h-2z"/>
<path fill="#00c824" d="M806 326h3v4h-3zM815 326h3v4h-3zM861 326h3v4h-3zM867 326h9v4h-9zM809 330h6v4h-6zM864 330h12v4h-12zM829 334h3v3h-3zM754 357h3v3h-3zM757 360h3v4h-3zM861 360h3v4h-3zM856 364h3v4h-3zM867 364h3v4h-3zM681 368h3v4h-3zM777 368h3v4h-3zM847 368h6v4h-6zM867 368h3v4h-3zM768 372h3v4h-3zM844 372h3v4h-3zM861 372h9v4h-9zM844 376h3v3h-3zM856 376h5v3h-5zM739 379h3v4h-3zM774 379h3v4h-3zM847 379h9v4h-9zM806 391h6v4h-6zM815 391h3v4h-3zM783 395h3v4h-3zM803 395h6v4h-6zM864 395h3v4h-3zM789 399h6v3h-6zM853 399h3v3h-3zM867 399h3v3h-3zM774 406h9v4h-9zM771 410h9v4h-9zM870 410h3v4h-3zM701 418h3v3h-3zM853 421h3v4h-3zM722 425h3v4h-3zM856 429h3v4h-3zM873 429h3v4h-3zM728 433h2v4h-2zM701 437h3v3h-3zM859 437h2v3h-2zM704 440h3v4h-3zM806 440h3v4h-3zM859 440h2v4h-2zM762 444h3v4h-3zM812 444h3v4h-3zM859 444h2v4h-2zM765 448h3v4h-3zM861 448h3v4h-3zM765 452h3v4h-3zM812 463h3v4h-3zM806 467h6v4h-6zM713 479h3v3h-3zM722 479h3v3h-3zM713 486h3v4h-3zM716 490h6v4h-6zM795 494h2v4h-2zM789 502h3v3h-3zM829 505h3v4h-3zM844 505h3v4h-3zM827 509h2v4h-2zM742 513h3v4h-3zM850 513h3v4h-3zM754 517h3v4h-3zM809 517h3v4h-3zM792 521h3v3h-3zM760 524h2v4h-2zM803 524h3v4h-3zM698 528h3v4h-3zM812 528h3v4h-3zM850 528h3v4h-3zM818 532h3v4h-3zM847 532h3v4h-3zM821 536h3v4h-3zM838 536h3v4h-3zM821 540h8v4h-8zM824 544h3v3h-3zM824 547h3v4h-3zM824 551h3v4h-3z"/>
<path fill="#00c828" d="M809 326h6v4h-6zM864 326h3v4h-3zM824 334h3v3h-3zM821 337h3v4h-3zM835 341h3v4h-3zM821 357h3v3h-3zM835 357h3v3h-3zM684 364h3v4h-3zM827 364h5v4h-5zM859 364h8v4h-8zM771 368h6v4h-6zM853 368h14v4h-14zM847 372h14v4h-14zM771 376h3v3h-3zM847 376h9v3h-9zM748 379h3v4h-3zM777 379h3v4h-3zM780 387h3v4h-3zM803 387h3v4h-3zM803 391h3v4h-3zM812 391h3v4h-3zM800 395h3v4h-3zM809 395h9v4h-9zM856 395h8v4h-8zM864 399h3v3h-3zM853 402h3v4h-3zM867 402h3v4h-3zM870 414h3v4h-3zM704 418h3v3h-3zM853 418h3v3h-3zM870 418h3v3h-3zM701 421h3v4h-3zM707 421h3v4h-3zM870 421h3v4h-3zM701 425h3v4h-3zM719 425h3v4h-3zM856 425h3v4h-3zM701 429h3v4h-3zM701 433h3v4h-3zM859 433h2v4h-2zM873 433h3v4h-3zM873 437h3v3h-3zM873 440h3v4h-3zM710 444h3v4h-3zM800 444h3v4h-3zM861 444h3v4h-3zM873 444h3v4h-3zM812 448h3v4h-3zM864 448h9v4h-9zM795 452h2v4h-2zM754 456h3v4h-3zM795 456h2v4h-2zM797 460h3v3h-3zM800 463h3v4h-3zM722 486h3v4h-3zM797 494h6v4h-6zM809 498h3v4h-3zM803 509h3v4h-3zM847 509h3v4h-3zM745 513h6v4h-6zM792 513h3v4h-3zM803 513h3v4h-3zM792 517h3v4h-3zM757 521h3v3h-3zM815 521h9v3h-9zM733 524h3v4h-3zM806 524h3v4h-3zM815 528h3v4h-3zM821 532h3v4h-3zM698 536h3v4h-3zM824 536h14v4h-14zM760 544h2v3h-2zM681 547h3v4h-3zM739 547h3v4h-3zM757 547h3v4h-3z"/>
<path fill="#00cc1c" d="M818 326h3v4h-3zM856 326h3v4h-3zM803 330h3v4h-3zM818 330h9v4h-9zM859 330h2v4h-2zM809 334h12v3h-12zM861 334h3v3h-3zM818 337h3v4h-3zM864 337h6v4h-6zM818 341h3v4h-3zM867 341h9v4h-9zM681 345h3v4h-3zM818 345h3v4h-3zM818 349h3v4h-3zM745 353h3v4h-3zM859 357h14v3h-14zM687 360h3v4h-3zM821 360h3v4h-3zM853 360h6v4h-6zM870 360h6v4h-6zM768 364h12v4h-12zM835 364h3v4h-3zM844 364h6v4h-6zM760 368h2v4h-2zM783 368h6v4h-6zM792 368h3v4h-3zM824 368h3v4h-3zM832 368h3v4h-3zM838 368h6v4h-6zM765 372h3v4h-3zM797 372h3v4h-3zM827 372h14v4h-14zM768 376h3v3h-3zM800 376h3v3h-3zM835 376h6v3h-6zM873 376h3v3h-3zM751 379h3v4h-3zM771 379h3v4h-3zM841 379h3v4h-3zM861 379h15v4h-15zM774 383h3v4h-3zM844 383h3v4h-3zM859 383h11v4h-11zM777 387h3v4h-3zM809 387h9v4h-9zM847 387h6v4h-6zM859 387h8v4h-8zM818 391h3v4h-3zM850 391h3v4h-3zM864 391h6v4h-6zM780 395h3v4h-3zM850 395h3v4h-3zM774 399h9v3h-9zM800 399h3v3h-3zM818 399h3v3h-3zM850 399h3v3h-3zM870 399h3v3h-3zM771 402h3v4h-3zM789 402h6v4h-6zM850 402h3v4h-3zM701 406h3v4h-3zM768 406h3v4h-3zM786 406h6v4h-6zM873 406h3v4h-3zM698 410h9v4h-9zM768 410h3v4h-3zM786 410h3v4h-3zM873 410h3v4h-3zM698 414h3v4h-3zM768 414h3v4h-3zM780 414h6v4h-6zM873 414h3v4h-3zM698 418h3v3h-3zM771 418h6v3h-6zM850 418h3v3h-3zM698 421h3v4h-3zM850 421h3v4h-3zM698 425h3v4h-3zM728 429h2v4h-2zM853 429h3v4h-3zM853 433h3v4h-3zM698 437h3v3h-3zM806 437h6v3h-6zM853 437h3v3h-3zM800 440h3v4h-3zM812 440h3v4h-3zM856 440h3v4h-3zM707 444h3v4h-3zM797 444h3v4h-3zM856 444h3v4h-3zM751 448h3v4h-3zM815 448h3v4h-3zM856 448h3v4h-3zM792 452h3v4h-3zM859 452h2v4h-2zM873 452h3v4h-3zM751 456h3v4h-3zM792 456h3v4h-3zM864 456h6v4h-6zM754 460h3v3h-3zM762 460h3v3h-3zM815 460h3v3h-3zM844 460h6v3h-6zM797 463h3v4h-3zM844 463h6v4h-6zM812 467h3v4h-3zM716 475h6v4h-6zM710 482h3v4h-3zM725 482h3v4h-3zM725 486h3v4h-3zM713 490h3v4h-3zM719 494h3v4h-3zM806 494h3v4h-3zM789 498h3v4h-3zM812 498h3v4h-3zM832 502h3v3h-3zM847 505h3v4h-3zM850 509h3v4h-3zM739 513h3v4h-3zM751 513h3v4h-3zM815 517h6v4h-6zM853 517h3v4h-3zM733 521h3v3h-3zM789 521h3v3h-3zM853 521h3v3h-3zM800 524h3v4h-3zM853 524h3v4h-3zM809 528h3v4h-3zM815 536h3v4h-3zM844 536h3v4h-3zM762 540h3v4h-3zM815 540h3v4h-3zM835 540h3v4h-3zM818 544h3v3h-3zM829 544h3v3h-3zM818 547h3v4h-3zM829 547h3v4h-3zM745 551h9v4h-9zM829 551h3v4h-3z"/>
<path fill="#00d808" d="M829 326h3v4h-3zM701 330h3v4h-3zM765 330h3v4h-3zM850 330h3v4h-3zM730 334h3v3h-3zM765 334h3v3h-3zM786 334h9v3h-9zM850 334h3v3h-3zM698 337h3v4h-3zM725 337h5v4h-5zM771 337h12v4h-12zM838 337h3v4h-3zM684 341h3v4h-3zM698 341h3v4h-3zM803 341h3v4h-3zM853 341h3v4h-3zM690 345h3v4h-3zM698 345h3v4h-3zM809 345h3v4h-3zM841 345h3v4h-3zM853 345h3v4h-3zM698 349h3v4h-3zM716 349h3v4h-3zM812 349h3v4h-3zM844 349h9v4h-9zM701 353h3v4h-3zM716 353h3v4h-3zM730 353h3v4h-3zM754 353h3v4h-3zM713 357h6v3h-6zM725 357h3v3h-3zM760 357h2v3h-2zM768 357h15v3h-15zM710 360h3v4h-3zM722 360h3v4h-3zM783 360h6v4h-6zM792 364h3v4h-3zM722 368h3v4h-3zM797 368h3v4h-3zM722 372h3v4h-3zM800 372h3v4h-3zM821 372h3v4h-3zM722 376h3v3h-3zM803 376h3v3h-3zM725 379h5v4h-5zM760 379h5v4h-5zM736 383h3v4h-3zM818 383h6v4h-6zM768 387h3v4h-3zM768 391h3v4h-3zM829 391h9v4h-9zM696 395h2v4h-2zM707 399h3v3h-3zM765 399h3v3h-3zM827 399h2v3h-2zM841 399h3v3h-3zM707 402h3v4h-3zM730 402h6v4h-6zM824 402h3v4h-3zM707 406h3v4h-3zM762 406h3v4h-3zM806 406h6v4h-6zM818 406h3v4h-3zM815 410h3v4h-3zM693 414h3v4h-3zM725 414h3v4h-3zM844 414h3v4h-3zM693 418h3v3h-3zM812 418h6v3h-6zM693 421h3v4h-3zM792 421h3v4h-3zM809 421h3v4h-3zM818 421h3v4h-3zM733 425h3v4h-3zM762 425h3v4h-3zM789 425h3v4h-3zM733 429h3v4h-3zM762 429h6v4h-6zM774 429h15v4h-15zM821 429h3v4h-3zM690 433h3v4h-3zM733 433h3v4h-3zM762 433h12v4h-12zM803 433h3v4h-3zM821 433h3v4h-3zM690 437h3v3h-3zM733 437h3v3h-3zM754 437h6v3h-6zM768 437h3v3h-3zM821 437h3v3h-3zM690 440h3v4h-3zM730 440h3v4h-3zM745 440h6v4h-6zM771 440h3v4h-3zM821 440h3v4h-3zM835 440h6v4h-6zM690 444h3v4h-3zM728 444h2v4h-2zM745 444h3v4h-3zM774 444h3v4h-3zM783 444h6v4h-6zM824 444h8v4h-8zM841 444h6v4h-6zM687 448h3v4h-3zM725 448h3v4h-3zM777 448h6v4h-6zM687 452h3v4h-3zM684 456h6v4h-6zM824 456h5v4h-5zM681 460h9v3h-9zM745 460h3v3h-3zM786 460h3v3h-3zM824 460h3v3h-3zM829 460h3v3h-3zM681 463h9v4h-9zM707 463h3v4h-3zM792 463h3v4h-3zM821 463h3v4h-3zM681 467h15v4h-15zM707 467h6v4h-6zM751 467h3v4h-3zM762 467h3v4h-3zM832 467h3v4h-3zM698 471h12v4h-12zM722 471h3v4h-3zM754 471h6v4h-6zM800 471h3v4h-3zM832 471h3v4h-3zM704 475h3v4h-3zM803 475h3v4h-3zM815 475h3v4h-3zM704 479h3v3h-3zM730 479h3v3h-3zM806 479h6v3h-6zM704 482h3v4h-3zM730 482h3v4h-3zM832 482h3v4h-3zM730 486h3v4h-3zM751 486h9v4h-9zM832 486h6v4h-6zM730 490h3v4h-3zM792 490h3v4h-3zM806 490h3v4h-3zM832 490h3v4h-3zM870 490h6v4h-6zM707 494h3v4h-3zM748 494h3v4h-3zM762 494h3v4h-3zM786 494h3v4h-3zM829 494h3v4h-3zM838 494h3v4h-3zM853 494h3v4h-3zM867 494h3v4h-3zM704 498h6v4h-6zM728 498h2v4h-2zM745 498h3v4h-3zM762 498h3v4h-3zM821 498h8v4h-8zM841 498h3v4h-3zM864 498h3v4h-3zM701 502h12v3h-12zM742 502h3v3h-3zM762 502h3v3h-3zM783 502h3v3h-3zM864 502h3v3h-3zM698 505h21v4h-21zM736 505h3v4h-3zM762 505h3v4h-3zM783 505h3v4h-3zM861 505h6v4h-6zM696 509h2v4h-2zM701 509h6v4h-6zM733 509h3v4h-3zM760 509h2v4h-2zM864 509h3v4h-3zM696 513h2v4h-2zM701 513h3v4h-3zM760 513h2v4h-2zM780 513h3v4h-3zM867 513h9v4h-9zM701 517h3v4h-3zM730 517h3v4h-3zM762 517h3v4h-3zM701 521h3v3h-3zM864 521h6v3h-6zM701 524h3v4h-3zM765 524h3v4h-3zM780 524h3v4h-3zM859 524h2v4h-2zM873 524h3v4h-3zM701 528h3v4h-3zM765 528h3v4h-3zM803 528h3v4h-3zM701 532h3v4h-3zM856 532h3v4h-3zM701 536h3v4h-3zM730 540h3v4h-3zM803 540h3v4h-3zM850 540h3v4h-3zM797 544h9v3h-9zM844 544h3v3h-3zM800 547h12v4h-12zM768 551h3v4h-3zM809 551h3v4h-3zM838 551h3v4h-3z"/>
<path fill="#14e000" d="M841 326h3v4h-3zM757 330h3v4h-3zM736 334h3v3h-3zM757 334h3v3h-3zM687 337h6v4h-6zM757 337h3v4h-3zM728 341h2v4h-2zM757 341h3v4h-3zM730 345h3v4h-3zM757 345h3v4h-3zM789 353h3v4h-3zM696 391h2v4h-2zM722 391h3v4h-3zM710 399h3v3h-3zM806 410h3v4h-3zM824 410h3v4h-3zM824 414h3v4h-3zM795 421h2v4h-2zM838 421h3v4h-3zM835 425h3v4h-3zM829 429h6v4h-6zM681 433h3v4h-3zM722 452h6v4h-6zM710 456h3v4h-3zM684 475h3v4h-3zM693 479h3v3h-3zM742 482h3v4h-3zM765 486h3v4h-3zM696 494h2v4h-2zM722 505h3v4h-3zM716 509h3v4h-3zM687 517h3v4h-3zM864 524h3v4h-3zM795 528h2v4h-2zM786 536h3v4h-3zM853 544h3v3h-3zM722 547h6v4h-6zM847 547h3v4h-3zM864 551h3v4h-3z"/>
<path fill="#08e000" d="M844 326h3v4h-3zM844 330h3v4h-3zM681 337h3v4h-3zM760 337h2v4h-2zM762 345h3v4h-3zM786 345h3v4h-3zM730 349h3v4h-3zM762 349h3v4h-3zM786 349h3v4h-3zM818 379h3v4h-3zM760 383h2v4h-2zM716 387h6v4h-6zM725 391h3v4h-3zM710 395h3v4h-3zM725 402h3v4h-3zM838 406h3v4h-3zM690 414h3v4h-3zM809 414h3v4h-3zM821 414h3v4h-3zM719 418h3v3h-3zM841 418h3v3h-3zM748 425h3v4h-3zM827 429h2v4h-2zM797 437h3v3h-3zM736 448h3v4h-3zM710 460h3v3h-3zM690 475h3v4h-3zM824 475h3v4h-3zM827 482h2v4h-2zM698 490h3v4h-3zM736 490h3v4h-3zM742 490h3v4h-3zM786 490h3v4h-3zM827 490h2v4h-2zM736 494h6v4h-6zM696 498h2v4h-2zM780 498h3v4h-3zM728 502h2v3h-2zM693 509h3v4h-3zM870 524h3v4h-3zM789 540h3v4h-3zM696 544h2v3h-2zM768 544h3v3h-3z"/>
<path fill="#00d408" d="M850 326h3v4h-3zM704 467h3v4h-3z"/>
<path fill="#58ec00" d="M681 330h6v4h-6zM795 357h2v3h-2zM704 379h3v4h-3zM681 383h3v4h-3zM701 383h3v4h-3zM748 395h3v4h-3zM719 399h3v3h-3zM681 406h3v4h-3zM757 410h3v4h-3zM795 433h2v4h-2zM774 486h3v4h-3zM844 494h6v4h-6zM690 505h3v4h-3zM873 536h3v4h-3z"/>
<path fill="#50ec00" d="M687 330h3v4h-3zM815 376h3v3h-3zM687 418h3v3h-3zM803 425h3v4h-3zM795 475h2v4h-2zM690 486h3v4h-3zM870 528h3v4h-3zM797 532h3v4h-3zM690 547h3v4h-3z"/>
<path fill="#40e800" d="M690 330h3v4h-3zM742 334h3v3h-3zM736 337h3v4h-3zM728 345h2v4h-2zM751 345h3v4h-3zM800 345h3v4h-3zM696 360h2v4h-2zM704 364h3v4h-3zM815 364h3v4h-3zM707 368h3v4h-3zM687 421h3v4h-3zM722 467h3v4h-3zM728 471h2v4h-2zM681 479h3v3h-3zM792 482h3v4h-3zM719 509h3v4h-3zM725 521h3v3h-3zM795 536h2v4h-2zM713 540h3v4h-3zM873 540h3v4h-3z"/>
<path fill="#00dc04" d="M762 330h3v4h-3zM835 330h3v4h-3zM765 337h3v4h-3zM696 341h2v4h-2zM847 345h3v4h-3zM690 360h3v4h-3zM789 360h3v4h-3zM719 379h3v4h-3zM725 383h3v4h-3zM742 387h3v4h-3zM736 399h3v3h-3zM841 406h3v4h-3zM818 410h3v4h-3zM797 414h3v4h-3zM736 425h3v4h-3zM847 425h3v4h-3zM739 429h3v4h-3zM760 429h2v4h-2zM748 433h3v4h-3zM777 433h6v4h-6zM687 437h3v3h-3zM824 437h3v3h-3zM733 440h3v4h-3zM739 440h3v4h-3zM777 440h6v4h-6zM684 444h3v4h-3zM681 448h3v4h-3zM777 460h3v3h-3zM710 463h3v4h-3zM824 463h5v4h-5zM716 467h3v4h-3zM690 471h3v4h-3zM757 475h3v4h-3zM733 482h3v4h-3zM806 482h3v4h-3zM829 482h3v4h-3zM748 486h3v4h-3zM829 490h3v4h-3zM701 494h3v4h-3zM745 494h3v4h-3zM873 494h3v4h-3zM742 498h3v4h-3zM725 502h3v3h-3zM867 502h3v3h-3zM780 505h3v4h-3zM867 505h3v4h-3zM710 509h3v4h-3zM768 509h3v4h-3zM873 509h3v4h-3zM768 513h3v4h-3zM728 532h2v4h-2zM800 540h3v4h-3zM730 544h3v3h-3zM736 551h3v4h-3zM780 551h3v4h-3zM795 551h2v4h-2z"/>
<path fill="#08dc00" d="M838 330h3v4h-3zM696 334h2v3h-2zM730 341h3v4h-3zM698 357h3v3h-3zM713 368h3v4h-3zM713 376h3v3h-3zM745 391h3v4h-3zM765 391h3v4h-3zM687 399h3v3h-3zM687 402h3v4h-3zM690 421h3v4h-3zM751 425h3v4h-3zM818 479h3v3h-3zM795 540h2v4h-2zM850 544h3v3h-3zM777 547h3v4h-3zM716 551h3v4h-3z"/>
<path fill="#00cc24" d="M861 330h3v4h-3zM864 360h3v4h-3zM853 364h3v4h-3zM870 368h3v4h-3zM812 399h3v3h-3zM771 406h3v4h-3zM780 410h3v4h-3zM873 425h3v4h-3zM728 437h2v3h-2zM803 494h3v4h-3zM736 517h3v4h-3zM818 536h3v4h-3z"/>
<path fill="#38e800" d="M681 334h6v3h-6zM748 334h3v3h-3zM751 337h3v4h-3zM809 376h3v3h-3zM681 391h3v4h-3zM762 391h3v4h-3zM719 395h3v4h-3zM762 395h3v4h-3zM806 414h3v4h-3zM713 456h3v4h-3zM733 475h3v4h-3zM765 479h3v3h-3zM690 482h3v4h-3zM841 482h3v4h-3zM850 482h3v4h-3zM786 486h3v4h-3zM774 490h3v4h-3zM728 513h2v4h-2zM719 532h3v4h-3zM792 536h3v4h-3zM797 536h3v4h-3zM704 540h3v4h-3z"/>
<path fill="#1ce000" d="M693 334h3v3h-3zM797 341h3v4h-3zM710 376h3v3h-3zM701 387h3v4h-3zM754 387h3v4h-3zM716 391h6v4h-6zM748 391h3v4h-3zM687 395h3v4h-3zM832 406h3v4h-3zM829 421h3v4h-3zM832 425h3v4h-3zM728 452h2v4h-2zM733 452h3v4h-3zM844 479h6v3h-6zM821 482h3v4h-3zM696 486h2v4h-2zM824 486h3v4h-3zM768 490h3v4h-3zM818 490h3v4h-3zM771 494h3v4h-3zM780 494h3v4h-3zM774 521h3v3h-3zM725 524h3v4h-3zM867 524h3v4h-3zM722 532h3v4h-3zM768 540h3v4h-3zM873 544h3v3h-3zM719 547h3v4h-3zM771 547h3v4h-3z"/>
<path fill="#30e400" d="M739 334h3v3h-3zM748 349h3v4h-3zM809 353h3v4h-3zM690 364h3v4h-3zM757 387h3v4h-3zM693 391h3v4h-3zM681 402h3v4h-3zM760 406h2v4h-2zM748 421h3v4h-3zM681 429h3v4h-3zM733 456h3v4h-3zM713 460h3v3h-3zM716 463h3v4h-3zM795 471h2v4h-2zM687 479h3v3h-3zM742 479h6v3h-6zM693 486h3v4h-3zM768 486h3v4h-3zM725 505h5v4h-5zM713 513h3v4h-3zM722 528h3v4h-3zM861 528h3v4h-3zM704 532h3v4h-3zM859 536h2v4h-2zM713 547h3v4h-3zM856 547h8v4h-8zM681 551h3v4h-3z"/>
<path fill="#44e800" d="M745 334h3v3h-3zM707 376h3v3h-3zM681 379h3v4h-3zM690 391h3v4h-3zM684 406h3v4h-3zM795 425h2v4h-2zM730 456h3v4h-3zM736 460h3v3h-3zM690 509h3v4h-3zM728 509h2v4h-2zM771 524h6v4h-6zM771 544h3v3h-3z"/>
<path fill="#00c82c" d="M827 334h2v3h-2zM684 349h3v4h-3zM832 360h3v4h-3zM757 372h3v4h-3zM771 372h12v4h-12zM754 376h3v3h-3zM774 376h6v3h-6zM742 379h3v4h-3zM783 391h3v4h-3zM786 395h3v4h-3zM856 399h3v3h-3zM853 406h3v4h-3zM867 406h3v4h-3zM853 410h3v4h-3zM853 414h3v4h-3zM704 421h3v4h-3zM856 421h3v4h-3zM716 425h3v4h-3zM859 425h2v4h-2zM870 425h3v4h-3zM859 429h2v4h-2zM870 429h3v4h-3zM861 433h3v4h-3zM861 437h3v3h-3zM861 440h3v4h-3zM722 444h3v4h-3zM757 444h5v4h-5zM803 444h9v4h-9zM864 444h3v4h-3zM870 444h3v4h-3zM797 448h3v4h-3zM762 456h3v4h-3zM812 460h3v3h-3zM716 479h6v3h-6zM713 482h3v4h-3zM722 482h3v4h-3zM806 505h3v4h-3zM792 509h3v4h-3zM800 513h3v4h-3zM806 517h3v4h-3zM824 517h3v4h-3zM850 517h3v4h-3zM681 521h12v3h-12zM795 521h2v3h-2zM812 521h3v3h-3zM850 521h3v3h-3zM809 524h3v4h-3zM815 524h9v4h-9zM850 524h3v4h-3zM818 528h6v4h-6zM698 532h3v4h-3zM824 532h5v4h-5zM844 532h3v4h-3z"/>
<path fill="#0ce000" d="M684 337h3v4h-3zM693 337h3v4h-3zM760 341h2v4h-2zM760 345h2v4h-2zM733 349h3v4h-3zM757 349h5v4h-5zM696 357h2v3h-2zM713 372h3v4h-3zM690 395h3v4h-3zM725 395h3v4h-3zM742 395h3v4h-3zM739 402h3v4h-3zM832 402h6v4h-6zM760 410h2v4h-2zM803 410h3v4h-3zM722 414h3v4h-3zM690 418h3v3h-3zM757 418h3v3h-3zM824 418h3v3h-3zM742 425h6v4h-6zM827 425h2v4h-2zM687 429h3v4h-3zM847 429h3v4h-3zM684 433h3v4h-3zM829 433h6v4h-6zM847 433h3v4h-3zM841 440h3v4h-3zM730 448h3v4h-3zM713 452h3v4h-3zM713 463h3v4h-3zM725 471h3v4h-3zM696 479h2v3h-2zM698 482h3v4h-3zM745 482h3v4h-3zM762 482h3v4h-3zM815 482h3v4h-3zM698 486h3v4h-3zM739 486h6v4h-6zM792 486h3v4h-3zM812 486h3v4h-3zM827 486h2v4h-2zM739 490h3v4h-3zM768 494h3v4h-3zM774 502h6v3h-6zM730 509h3v4h-3zM710 513h3v4h-3zM777 524h3v4h-3zM725 528h3v4h-3zM797 528h3v4h-3zM725 532h3v4h-3zM803 536h3v4h-3zM792 540h3v4h-3zM728 544h2v3h-2zM728 547h2v4h-2zM707 551h3v4h-3zM719 551h3v4h-3zM730 551h3v4h-3zM844 551h3v4h-3z"/>
<path fill="#6cf000" d="M739 337h3v4h-3zM736 341h3v4h-3zM722 349h3v4h-3zM797 360h3v4h-3zM701 364h3v4h-3zM815 372h3v4h-3zM684 387h3v4h-3zM719 402h3v4h-3zM684 410h3v4h-3zM844 425h3v4h-3zM733 460h3v3h-3zM792 479h3v3h-3zM681 482h3v4h-3zM861 536h3v4h-3zM698 551h3v4h-3z"/>
<path fill="#84f400" d="M742 337h3v4h-3zM800 349h3v4h-3zM687 372h3v4h-3zM681 410h3v4h-3zM742 414h3v4h-3zM797 429h3v4h-3zM783 482h3v4h-3zM713 532h3v4h-3z"/>
<path fill="#78f000" d="M745 337h3v4h-3zM795 349h2v4h-2zM760 399h2v3h-2zM716 402h3v4h-3zM745 418h3v3h-3zM841 429h3v4h-3zM783 467h3v4h-3zM730 471h3v4h-3zM792 475h3v4h-3zM844 482h3v4h-3zM710 521h3v3h-3zM707 528h3v4h-3zM771 532h3v4h-3zM771 536h3v4h-3zM701 544h3v3h-3z"/>
<path fill="#5cec00" d="M748 337h3v4h-3zM797 345h3v4h-3zM742 349h3v4h-3zM760 402h2v4h-2zM681 425h3v4h-3zM841 425h3v4h-3zM739 463h3v4h-3zM774 467h3v4h-3zM736 475h3v4h-3zM745 475h3v4h-3zM789 482h3v4h-3zM780 486h3v4h-3zM841 490h3v4h-3zM850 490h3v4h-3zM722 524h3v4h-3zM864 528h3v4h-3zM710 536h3v4h-3zM684 551h3v4h-3z"/>
<path fill="#00c43c" d="M824 337h3v4h-3zM684 353h3v4h-3zM684 360h3v4h-3zM757 368h3v4h-3zM786 372h3v4h-3zM795 372h2v4h-2zM800 383h3v4h-3zM783 387h3v4h-3zM800 387h3v4h-3zM792 395h3v4h-3zM707 429h3v4h-3zM757 448h5v4h-5zM757 452h5v4h-5zM803 452h6v4h-6zM809 456h3v4h-3zM806 460h3v3h-3zM795 498h2v4h-2zM806 502h3v3h-3zM795 505h2v4h-2zM835 505h6v4h-6zM829 509h3v4h-3zM844 509h3v4h-3zM751 517h3v4h-3zM847 524h3v4h-3zM835 532h6v4h-6zM760 540h2v4h-2z"/>
<path fill="#00c048" d="M827 337h2v4h-2zM681 353h3v4h-3zM751 357h3v3h-3zM730 364h3v4h-3zM789 372h6v4h-6zM783 383h3v4h-3zM710 429h3v4h-3zM722 429h3v4h-3zM725 433h3v4h-3zM803 502h3v3h-3zM742 517h3v4h-3zM827 521h2v3h-2zM760 532h2v4h-2zM760 536h2v4h-2z"/>
<path fill="#00c044" d="M829 337h3v4h-3zM730 368h3v4h-3zM786 391h3v4h-3zM797 391h3v4h-3zM707 433h3v4h-3zM707 437h3v3h-3zM797 498h6v4h-6zM795 502h2v3h-2zM827 517h2v4h-2zM847 521h3v3h-3zM742 547h3v4h-3z"/>
<path fill="#00c830" d="M832 337h3v4h-3zM821 353h3v4h-3zM733 357h3v3h-3zM824 360h3v4h-3zM730 372h3v4h-3zM783 372h3v4h-3zM733 376h3v3h-3zM745 379h3v4h-3zM780 383h3v4h-3zM797 395h3v4h-3zM859 399h5v3h-5zM856 402h3v4h-3zM864 402h3v4h-3zM867 410h3v4h-3zM867 414h3v4h-3zM856 418h3v3h-3zM867 418h3v3h-3zM859 421h2v4h-2zM867 421h3v4h-3zM704 425h3v4h-3zM713 425h3v4h-3zM861 425h3v4h-3zM867 425h3v4h-3zM725 429h3v4h-3zM861 429h3v4h-3zM867 429h3v4h-3zM864 433h3v4h-3zM870 433h3v4h-3zM704 437h3v3h-3zM864 437h3v3h-3zM870 437h3v3h-3zM864 440h9v4h-9zM867 444h3v4h-3zM754 448h3v4h-3zM800 448h3v4h-3zM754 452h3v4h-3zM797 452h3v4h-3zM812 452h3v4h-3zM757 456h5v4h-5zM797 456h3v4h-3zM812 456h3v4h-3zM803 463h3v4h-3zM809 463h3v4h-3zM716 486h6v4h-6zM792 498h3v4h-3zM809 502h3v3h-3zM800 509h3v4h-3zM795 513h5v4h-5zM795 517h2v4h-2zM803 517h3v4h-3zM797 521h6v3h-6zM806 521h6v3h-6zM696 524h2v4h-2zM812 524h3v4h-3zM824 528h3v4h-3zM847 528h3v4h-3zM733 536h3v4h-3zM736 544h3v3h-3z"/>
<path fill="#34e400" d="M725 341h3v4h-3zM722 399h3v3h-3zM739 410h3v4h-3zM780 490h3v4h-3zM789 532h3v4h-3zM859 544h2v3h-2zM850 551h3v4h-3zM859 551h2v4h-2z"/>
<path fill="#a8f800" d="M739 341h3v4h-3zM745 345h3v4h-3zM797 353h3v4h-3zM803 353h3v4h-3zM757 395h3v4h-3zM786 471h3v4h-3zM687 498h3v4h-3zM710 524h3v4h-3zM867 536h3v4h-3z"/>
<path fill="#c0fc00" d="M742 341h3v4h-3zM809 368h3v4h-3zM745 406h3v4h-3zM733 463h3v4h-3zM777 475h3v4h-3z"/>
<path fill="#b0fc00" d="M745 341h3v4h-3zM728 460h2v3h-2zM739 471h3v4h-3zM777 471h3v4h-3zM684 490h3v4h-3zM722 517h3v4h-3zM710 528h3v4h-3z"/>
<path fill="#7cf000" d="M748 341h3v4h-3zM725 345h3v4h-3zM704 376h3v3h-3zM760 395h2v4h-2zM725 467h3v4h-3zM780 467h3v4h-3zM847 482h3v4h-3zM725 513h3v4h-3zM713 517h3v4h-3z"/>
<path fill="#48e800" d="M751 341h3v4h-3zM792 345h3v4h-3zM684 391h3v4h-3zM713 399h3v3h-3zM803 414h3v4h-3zM684 425h3v4h-3zM841 437h3v3h-3zM768 471h3v4h-3zM795 479h2v3h-2zM768 482h3v4h-3zM771 486h3v4h-3zM792 532h3v4h-3zM873 532h3v4h-3zM774 544h3v3h-3zM861 544h3v3h-3zM701 551h3v4h-3z"/>
<path fill="#00c434" d="M821 341h3v4h-3zM835 345h3v4h-3zM681 349h3v4h-3zM835 353h3v4h-3zM730 360h3v4h-3zM780 379h3v4h-3zM800 391h3v4h-3zM859 402h5v4h-5zM856 406h3v4h-3zM864 406h3v4h-3zM856 410h3v4h-3zM864 410h3v4h-3zM856 414h3v4h-3zM859 418h2v3h-2zM864 418h3v3h-3zM861 421h6v4h-6zM707 425h6v4h-6zM864 425h3v4h-3zM704 429h3v4h-3zM704 433h3v4h-3zM867 437h3v3h-3zM707 440h3v4h-3zM762 448h3v4h-3zM809 448h3v4h-3zM762 452h3v4h-3zM800 460h3v3h-3zM716 482h6v4h-6zM795 509h5v4h-5zM827 513h2v4h-2zM739 517h3v4h-3zM797 517h3v4h-3zM803 521h3v3h-3zM824 521h3v3h-3zM824 524h3v4h-3zM829 532h3v4h-3zM841 532h3v4h-3z"/>
<path fill="#00c050" d="M824 341h3v4h-3zM736 357h3v3h-3zM827 357h5v3h-5zM681 360h3v4h-3zM832 509h3v4h-3zM841 509h3v4h-3zM745 517h3v4h-3zM696 528h2v4h-2zM832 528h3v4h-3z"/>
<path fill="#00c064" d="M827 341h5v4h-5zM696 536h2v4h-2z"/>
<path fill="#00c04c" d="M832 341h3v4h-3zM736 376h3v3h-3zM751 376h3v3h-3zM783 379h3v4h-3zM725 437h3v3h-3zM710 440h3v4h-3zM797 502h6v3h-6zM748 517h3v4h-3zM754 521h3v3h-3zM757 524h3v4h-3zM841 528h3v4h-3zM690 544h3v3h-3zM757 544h3v3h-3z"/>
<path fill="#74f000" d="M722 345h3v4h-3zM748 345h3v4h-3zM795 353h2v4h-2zM809 357h3v3h-3zM800 364h3v4h-3zM704 368h3v4h-3zM716 410h3v4h-3zM803 421h3v4h-3zM841 433h3v4h-3zM786 482h3v4h-3zM707 532h3v4h-3z"/>
<path fill="#a4f800" d="M739 345h3v4h-3zM754 410h3v4h-3zM681 414h3v4h-3zM681 418h3v3h-3zM739 467h3v4h-3zM733 471h3v4h-3zM789 475h3v4h-3zM844 490h6v4h-6zM719 524h3v4h-3z"/>
<path fill="#bcfc00" d="M742 345h3v4h-3zM687 376h3v3h-3zM701 376h3v3h-3zM687 383h3v4h-3zM696 383h2v4h-2zM757 399h3v3h-3zM786 475h3v4h-3zM780 479h3v3h-3zM681 490h3v4h-3zM684 509h3v4h-3zM713 528h3v4h-3zM698 547h3v4h-3z"/>
<path fill="#00c438" d="M821 345h3v4h-3zM821 349h3v4h-3zM835 349h3v4h-3zM827 360h5v4h-5zM757 364h3v4h-3zM789 395h3v4h-3zM795 395h2v4h-2zM859 406h5v4h-5zM859 410h5v4h-5zM859 414h8v4h-8zM861 418h3v3h-3zM725 440h3v4h-3zM713 444h3v4h-3zM803 448h6v4h-6zM800 452h3v4h-3zM809 452h3v4h-3zM800 456h3v4h-3zM803 460h3v3h-3zM809 460h3v3h-3zM806 498h3v4h-3zM792 502h3v3h-3zM803 505h3v4h-3zM847 513h3v4h-3zM736 521h3v3h-3zM760 528h2v4h-2zM827 528h2v4h-2zM733 532h3v4h-3zM832 532h3v4h-3z"/>
<path fill="#00bc60" d="M824 345h3v4h-3zM824 349h3v4h-3zM832 349h3v4h-3zM733 360h3v4h-3zM792 391h3v4h-3zM710 437h3v3h-3zM829 517h3v4h-3zM844 517h3v4h-3zM829 521h3v3h-3zM844 521h3v3h-3zM739 544h3v3h-3zM748 547h3v4h-3z"/>
<path fill="#00c078" d="M827 345h5v4h-5zM754 364h3v4h-3zM754 368h3v4h-3zM713 433h3v4h-3zM722 437h3v3h-3zM719 440h3v4h-3zM754 544h3v3h-3z"/>
<path fill="#00bc5c" d="M832 345h3v4h-3zM733 372h3v4h-3zM786 376h3v3h-3zM797 379h3v4h-3zM786 387h3v4h-3zM797 387h3v4h-3zM716 429h3v4h-3zM710 433h3v4h-3zM722 440h3v4h-3zM835 509h6v4h-6zM739 521h3v3h-3zM745 547h3v4h-3z"/>
<path fill="#70f000" d="M725 349h3v4h-3zM806 353h3v4h-3zM693 364h3v4h-3zM803 368h3v4h-3zM757 391h3v4h-3zM719 406h3v4h-3zM742 406h3v4h-3zM748 418h3v3h-3zM803 418h3v3h-3zM684 421h3v4h-3zM777 467h3v4h-3zM771 471h3v4h-3zM739 475h6v4h-6zM687 486h3v4h-3zM870 540h3v4h-3zM707 547h3v4h-3z"/>
<path fill="#90f400" d="M797 349h3v4h-3zM696 364h2v4h-2zM812 372h3v4h-3zM690 387h3v4h-3zM800 421h3v4h-3zM800 425h3v4h-3zM710 532h3v4h-3zM864 532h3v4h-3zM690 551h3v4h-3z"/>
<path fill="#00c478" d="M827 349h5v4h-5zM792 376h3v3h-3zM795 387h2v4h-2zM742 521h3v3h-3z"/>
<path fill="#3ce800" d="M792 353h3v4h-3zM698 360h3v4h-3zM698 387h3v4h-3zM751 391h3v4h-3zM716 395h3v4h-3zM722 402h3v4h-3zM722 406h3v4h-3zM719 414h3v4h-3zM739 414h3v4h-3zM806 418h3v3h-3zM745 421h3v4h-3zM771 467h3v4h-3zM748 475h3v4h-3zM684 479h3v3h-3zM777 490h3v4h-3zM684 517h3v4h-3zM710 517h3v4h-3zM777 532h3v4h-3zM800 532h3v4h-3zM777 536h3v4h-3zM716 544h3v3h-3zM870 544h3v3h-3zM853 551h6v4h-6z"/>
<path fill="#b8fc00" d="M800 353h3v4h-3zM806 357h3v3h-3zM803 364h3v4h-3zM757 402h3v4h-3zM748 414h3v4h-3zM725 460h3v3h-3zM780 471h6v4h-6zM777 479h3v3h-3zM783 479h3v3h-3zM713 521h3v3h-3z"/>
<path fill="#00bc54" d="M824 353h3v4h-3zM832 353h3v4h-3zM754 360h3v4h-3zM713 429h3v4h-3zM844 513h3v4h-3zM693 524h3v4h-3zM736 524h3v4h-3zM829 524h3v4h-3zM844 524h3v4h-3zM835 528h6v4h-6zM736 540h3v4h-3zM751 547h3v4h-3z"/>
<path fill="#00c068" d="M827 353h5v4h-5zM795 376h2v3h-2zM797 383h3v4h-3zM713 440h3v4h-3zM832 524h3v4h-3zM841 524h3v4h-3zM696 532h2v4h-2z"/>
<path fill="#00c054" d="M681 357h3v3h-3zM829 513h3v4h-3z"/>
<path fill="#00c444" d="M684 357h3v3h-3zM797 376h3v3h-3zM797 505h3v4h-3zM847 517h3v4h-3zM829 528h3v4h-3z"/>
<path fill="#00c070" d="M739 357h3v3h-3zM748 357h3v3h-3zM786 379h3v4h-3zM786 383h3v4h-3zM832 513h3v4h-3zM751 521h3v3h-3zM736 528h3v4h-3zM757 528h3v4h-3zM757 540h3v4h-3z"/>
<path fill="#00c488" d="M742 357h6v3h-6zM795 379h2v4h-2zM792 387h3v4h-3zM716 433h3v4h-3zM748 521h3v3h-3zM757 532h3v4h-3zM757 536h3v4h-3z"/>
<path fill="#98f800" d="M797 357h3v3h-3zM812 364h3v4h-3zM745 402h3v4h-3zM751 414h3v4h-3zM844 429h3v4h-3zM844 433h3v4h-3zM681 486h3v4h-3zM704 547h3v4h-3z"/>
<path fill="#c4fc00" d="M800 357h3v3h-3zM693 368h3v4h-3zM701 372h3v4h-3zM725 463h3v4h-3zM684 494h3v4h-3zM719 517h3v4h-3zM719 521h3v3h-3z"/>
<path fill="#ccfc00" d="M803 357h3v3h-3zM698 368h3v4h-3zM687 379h3v4h-3zM698 379h3v4h-3zM751 399h3v3h-3zM780 475h3v4h-3zM684 505h3v4h-3zM681 509h3v4h-3zM713 524h6v4h-6z"/>
<path fill="#00c440" d="M824 357h3v3h-3zM832 357h3v3h-3zM681 364h3v4h-3zM783 376h3v3h-3zM716 444h6v4h-6zM803 456h6v4h-6zM803 498h3v4h-3zM800 505h3v4h-3zM827 524h2v4h-2zM844 528h3v4h-3zM696 540h2v4h-2zM754 547h3v4h-3z"/>
<path fill="#00c89c" d="M736 360h3v4h-3zM792 383h3v4h-3zM739 540h3v4h-3zM684 544h3v3h-3zM751 544h3v3h-3z"/>
<path fill="#00ccc4" d="M739 360h3v4h-3zM745 524h3v4h-3zM690 528h3v4h-3z"/>
<path fill="#00ccdc" d="M742 360h6v4h-6zM742 528h3v4h-3zM751 528h3v4h-3z"/>
<path fill="#00ccc0" d="M748 360h3v4h-3zM748 524h3v4h-3zM754 532h3v4h-3zM754 536h3v4h-3z"/>
<path fill="#00c894" d="M751 360h3v4h-3zM736 372h3v4h-3zM789 383h3v4h-3zM742 544h3v3h-3z"/>
<path fill="#b4fc00" d="M800 360h3v4h-3zM809 360h3v4h-3zM745 414h3v4h-3zM728 467h2v4h-2zM736 471h3v4h-3zM844 486h6v4h-6zM716 517h3v4h-3zM696 547h2v4h-2zM701 547h3v4h-3z"/>
<path fill="#d4fc00" d="M803 360h6v4h-6zM696 368h2v4h-2zM754 399h3v3h-3zM748 402h3v4h-3zM730 463h3v4h-3zM684 502h3v3h-3z"/>
<path fill="#64f000" d="M812 360h3v4h-3zM696 387h2v4h-2zM760 391h2v4h-2zM713 406h3v4h-3zM719 410h3v4h-3zM754 414h3v4h-3zM742 418h3v3h-3zM797 421h3v4h-3zM800 429h3v4h-3zM844 437h3v3h-3zM719 456h3v4h-3zM725 456h3v4h-3zM719 463h3v4h-3zM684 482h3v4h-3zM841 486h3v4h-3zM850 486h3v4h-3zM690 502h3v3h-3zM722 509h3v4h-3zM687 513h3v4h-3zM771 540h3v4h-3z"/>
<path fill="#8cf400" d="M698 364h3v4h-3zM684 379h3v4h-3zM698 383h3v4h-3zM757 406h3v4h-3zM684 418h3v3h-3zM719 460h3v3h-3zM742 471h3v4h-3zM789 479h3v3h-3zM777 482h6v4h-6zM684 486h3v4h-3zM722 521h3v3h-3zM870 536h3v4h-3zM693 547h3v4h-3z"/>
<path fill="#00c484" d="M733 364h3v4h-3zM719 433h3v4h-3zM713 437h3v3h-3z"/>
<path fill="#00ccbc" d="M736 364h3v4h-3zM739 532h3v4h-3z"/>
<path fill="#00c8f0" d="M739 364h3v4h-3zM748 364h3v4h-3zM742 536h3v4h-3z"/>
<path fill="#00b4fc" d="M742 364h3v4h-3zM745 536h3v4h-3z"/>
<path fill="#00b4f8" d="M745 364h3v4h-3z"/>
<path fill="#00ccb8" d="M751 364h3v4h-3zM736 368h3v4h-3zM739 372h3v4h-3zM748 372h3v4h-3zM681 524h3v4h-3zM739 536h3v4h-3z"/>
<path fill="#d0fc00" d="M806 364h3v4h-3zM690 372h3v4h-3zM690 383h6v4h-6zM754 406h3v4h-3zM751 410h3v4h-3zM730 467h3v4h-3zM681 494h3v4h-3zM684 498h3v4h-3zM716 521h3v3h-3z"/>
<path fill="#c8fc00" d="M809 364h3v4h-3zM745 410h3v4h-3zM736 467h3v4h-3zM783 475h3v4h-3z"/>
<path fill="#88f400" d="M690 368h3v4h-3zM704 372h3v4h-3zM809 372h3v4h-3zM684 383h3v4h-3zM687 387h3v4h-3zM751 395h3v4h-3zM742 410h3v4h-3zM684 414h3v4h-3zM681 421h3v4h-3zM797 425h3v4h-3zM789 471h3v4h-3zM771 475h3v4h-3zM687 490h3v4h-3zM687 509h3v4h-3zM867 540h3v4h-3zM704 544h3v3h-3zM696 551h2v4h-2z"/>
<path fill="#b0f800" d="M701 368h3v4h-3zM774 475h3v4h-3z"/>
<path fill="#00c480" d="M733 368h3v4h-3zM742 376h6v3h-6zM835 513h6v4h-6zM832 517h3v4h-3zM841 517h3v4h-3zM754 524h3v4h-3z"/>
<path fill="#00c8ec" d="M739 368h3v4h-3zM748 368h3v4h-3zM690 532h3v4h-3zM748 540h3v4h-3z"/>
<path fill="#00b8f8" d="M742 368h6v4h-6zM681 540h3v4h-3z"/>
<path fill="#00ccb4" d="M751 368h3v4h-3z"/>
<path fill="#acf800" d="M806 368h3v4h-3zM812 368h3v4h-3zM754 395h3v4h-3zM722 460h3v3h-3zM786 479h3v3h-3zM687 502h3v3h-3zM681 513h3v4h-3z"/>
<path fill="#1ce400" d="M684 372h3v4h-3zM835 418h3v3h-3zM739 421h3v4h-3zM730 452h3v4h-3zM821 490h3v4h-3zM859 532h2v4h-2z"/>
<path fill="#f8fc00" d="M693 372h3v4h-3z"/>
<path fill="#fcf800" d="M696 372h2v4h-2z"/>
<path fill="#f0fc00" d="M698 372h3v4h-3zM696 379h2v4h-2zM751 406h3v4h-3z"/>
<path fill="#00ccd0" d="M742 372h6v4h-6zM751 540h3v4h-3z"/>
<path fill="#00c490" d="M751 372h3v4h-3zM789 379h3v4h-3zM795 383h2v4h-2zM838 517h3v4h-3zM693 528h3v4h-3z"/>
<path fill="#00bc58" d="M754 372h3v4h-3zM789 391h3v4h-3zM795 391h2v4h-2zM719 429h3v4h-3z"/>
<path fill="#f4fc00" d="M690 376h3v3h-3zM690 379h3v4h-3z"/>
<path fill="#fcf000" d="M693 376h5v3h-5z"/>
<path fill="#ecfc00" d="M698 376h3v3h-3zM751 402h3v4h-3z"/>
<path fill="#00c06c" d="M739 376h3v3h-3zM748 376h3v3h-3zM722 433h3v4h-3zM841 513h3v4h-3z"/>
<path fill="#00c834" d="M780 376h3v3h-3zM800 379h3v4h-3zM864 429h3v4h-3zM867 433h3v4h-3zM806 463h3v4h-3zM792 505h3v4h-3zM832 505h3v4h-3zM841 505h3v4h-3zM800 517h3v4h-3zM733 528h3v4h-3z"/>
<path fill="#00c074" d="M789 376h3v3h-3zM835 524h6v4h-6zM736 536h3v4h-3z"/>
<path fill="#54ec00" d="M812 376h3v3h-3zM713 410h3v4h-3zM751 418h3v3h-3zM797 433h3v4h-3zM716 456h3v4h-3zM728 456h2v4h-2zM687 482h3v4h-3zM795 532h2v4h-2zM707 536h3v4h-3zM698 544h3v3h-3zM713 544h3v3h-3zM864 544h6v3h-6z"/>
<path fill="#fcfc00" d="M693 379h3v4h-3z"/>
<path fill="#94f400" d="M701 379h3v4h-3zM730 460h3v3h-3zM736 463h3v4h-3zM774 471h3v4h-3zM684 513h3v4h-3zM719 513h3v4h-3zM693 551h3v4h-3z"/>
<path fill="#00c898" d="M792 379h3v4h-3zM716 437h6v3h-6z"/>
<path fill="#80f400" d="M693 387h3v4h-3zM716 406h3v4h-3zM771 479h3v3h-3zM870 532h3v4h-3zM864 540h3v4h-3z"/>
<path fill="#00c47c" d="M789 387h3v4h-3zM716 440h3v4h-3zM832 521h3v3h-3zM841 521h3v3h-3zM690 524h3v4h-3zM736 532h3v4h-3zM693 540h3v4h-3zM687 544h3v3h-3z"/>
<path fill="#a0f800" d="M748 399h3v3h-3zM774 479h3v3h-3zM687 505h3v4h-3zM722 513h3v4h-3zM716 528h3v4h-3z"/>
<path fill="#e4fc00" d="M754 402h3v4h-3zM681 502h3v3h-3z"/>
<path fill="#e8fc00" d="M748 406h3v4h-3z"/>
<path fill="#dcfc00" d="M748 410h3v4h-3z"/>
<path fill="#9cf800" d="M722 463h3v4h-3zM687 494h3v4h-3zM867 532h3v4h-3zM864 536h3v4h-3z"/>
<path fill="#d8fc00" d="M728 463h2v4h-2zM733 467h3v4h-3z"/>
<path fill="#7cf400" d="M774 482h3v4h-3zM774 532h3v4h-3zM774 536h3v4h-3zM707 544h3v3h-3zM687 551h3v4h-3z"/>
<path fill="#e0fc00" d="M681 498h3v4h-3zM681 505h3v4h-3z"/>
<path fill="#00c890" d="M835 517h3v4h-3z"/>
<path fill="#00c48c" d="M745 521h3v3h-3zM835 521h6v3h-6zM739 524h3v4h-3z"/>
<path fill="#00ccb0" d="M684 524h3v4h-3zM742 524h3v4h-3zM690 540h3v4h-3z"/>
<path fill="#00c8a0" d="M687 524h3v4h-3z"/>
<path fill="#00c8ac" d="M751 524h3v4h-3zM739 528h3v4h-3zM754 528h3v4h-3z"/>
<path fill="#00a0fc" d="M681 528h3v4h-3z"/>
<path fill="#00acfc" d="M684 528h3v4h-3z"/>
<path fill="#00c4f4" d="M687 528h3v4h-3zM745 528h6v4h-6zM742 532h3v4h-3zM751 532h3v4h-3zM751 536h3v4h-3z"/>
<path fill="#0048dc" d="M681 532h3v4h-3z"/>
<path fill="#005cec" d="M684 532h3v4h-3z"/>
<path fill="#009cfc" d="M687 532h3v4h-3z"/>
<path fill="#00c8a8" d="M693 532h3v4h-3zM754 540h3v4h-3zM745 544h3v3h-3z"/>
<path fill="#00b0fc" d="M745 532h6v4h-6zM748 536h3v4h-3z"/>
<path fill="#0058e8" d="M681 536h3v4h-3z"/>
<path fill="#0070f0" d="M684 536h3v4h-3z"/>
<path fill="#00a8fc" d="M687 536h3v4h-3z"/>
<path fill="#00c8e4" d="M690 536h3v4h-3z"/>
<path fill="#00c8a4" d="M693 536h3v4h-3zM681 544h3v3h-3z"/>
<path fill="#00c0f8" d="M684 540h3v4h-3z"/>
<path fill="#00cce0" d="M687 540h3v4h-3z"/>
<path fill="#00d0c8" d="M742 540h3v4h-3z"/>
<path fill="#00c8e8" d="M745 540h3v4h-3z"/>
<path fill="#00ccac" d="M748 544h3v3h-3z"/>
<rect x="679.5" y="325.5" width="198" height="231" fill="none" stroke="#000"/>
<line x1="705.5" y1="325.5" x2="705.5" y2="322.0" stroke="#000" stroke-width="1"/>
<line x1="705.5" y1="556.5" x2="705.5" y2="559.5" stroke="#000" stroke-width="1"/>
<line x1="778.5" y1="325.5" x2="778.5" y2="322.0" stroke="#000" stroke-width="1"/>
<line x1="778.5" y1="556.5" x2="778.5" y2="559.5" stroke="#000" stroke-width="1"/>
<line x1="851.5" y1="325.5" x2="851.5" y2="322.0" stroke="#000" stroke-width="1"/>
<line x1="851.5" y1="556.5" x2="851.5" y2="559.5" stroke="#000" stroke-width="1"/>
<line x1="679.5" y1="344.5" x2="676.5" y2="344.5" stroke="#000" stroke-width="1"/>
<line x1="877.5" y1="344.5" x2="880.5" y2="344.5" stroke="#000" stroke-width="1"/>
<line x1="679.5" y1="383.5" x2="676.5" y2="383.5" stroke="#000" stroke-width="1"/>
<line x1="877.5" y1="383.5" x2="880.5" y2="383.5" stroke="#000" stroke-width="1"/>
<line x1="679.5" y1="421.5" x2="676.5" y2="421.5" stroke="#000" stroke-width="1"/>
<line x1="877.5" y1="421.5" x2="880.5" y2="421.5" stroke="#000" stroke-width="1"/>
<line x1="679.5" y1="460.5" x2="676.5" y2="460.5" stroke="#000" stroke-width="1"/>
<line x1="877.5" y1="460.5" x2="880.5" y2="460.5" stroke="#000" stroke-width="1"/>
<line x1="679.5" y1="498.5" x2="676.5" y2="498.5" stroke="#000" stroke-width="1"/>
<line x1="877.5" y1="498.5" x2="880.5" y2="498.5" stroke="#000" stroke-width="1"/>
<line x1="679.5" y1="537.5" x2="676.5" y2="537.5" stroke="#000" stroke-width="1"/>
<line x1="877.5" y1="537.5" x2="880.5" y2="537.5" stroke="#000" stroke-width="1"/>
</g>
<text x="705.8" y="573.8" font-size="12" text-anchor="middle" >115</text>
<text x="778.8" y="573.8" font-size="12" text-anchor="middle" >120</text>
<text x="851.8" y="573.8" font-size="12" text-anchor="middle" >125</text>
<text x="673.5" y="348.1" font-size="12" text-anchor="end" >-36</text>
<text x="673.5" y="386.70000000000005" font-size="12" text-anchor="end" >-38</text>
<text x="673.5" y="425.3" font-size="12" text-anchor="end" >-40</text>
<text x="673.5" y="463.90000000000003" font-size="12" text-anchor="end" >-42</text>
<text x="673.5" y="502.5" font-size="12" text-anchor="end" >-44</text>
<text x="673.5" y="541.1" font-size="12" text-anchor="end" >-46</text>
<circle cx="778.5" cy="441.0" r="5" fill="none" stroke="#000" stroke-width="1"/>
<path d="M710.4 326.0 L716.0 328.0 L719.0 329.5 L721.5 331.5 L726.0 332.3 L730.0 333.0 L733.0 332.5 L735.6 331.3 L738.0 332.0 L742.0 333.0 L750.0 333.0 L753.0 331.5 L757.6 329.0 L762.0 326.0" fill="none" stroke="#000" stroke-width="1" stroke-linejoin="round" />
<path d="M729.0 326.5 L732.0 328.0 L735.0 327.0 L738.0 328.5 L741.0 327.0 L745.0 328.0 L748.0 326.5" fill="none" stroke="#000" stroke-width="1" stroke-linejoin="round" />
<text x="707.5" y="25.6" font-size="12" text-anchor="start" textLength="137.8" lengthAdjust="spacing" >sat. SST: 10.5 Argo: 10.8</text>
<text x="704.7" y="301.7" font-size="12" text-anchor="start" textLength="99.3" lengthAdjust="spacing" >Altim. SLA: -0.023</text>
<text x="687.5" y="315.6" font-size="12" text-anchor="start" textLength="179.2" lengthAdjust="spacing" >Argo h1000: -0.025 h2000: NaN</text>
<text transform="translate(893,547) rotate(-90)" font-size="12" textLength="170" lengthAdjust="spacing">©IMOS 28-Oct-2016 20:43:19</text>
</svg>
</body></html>
